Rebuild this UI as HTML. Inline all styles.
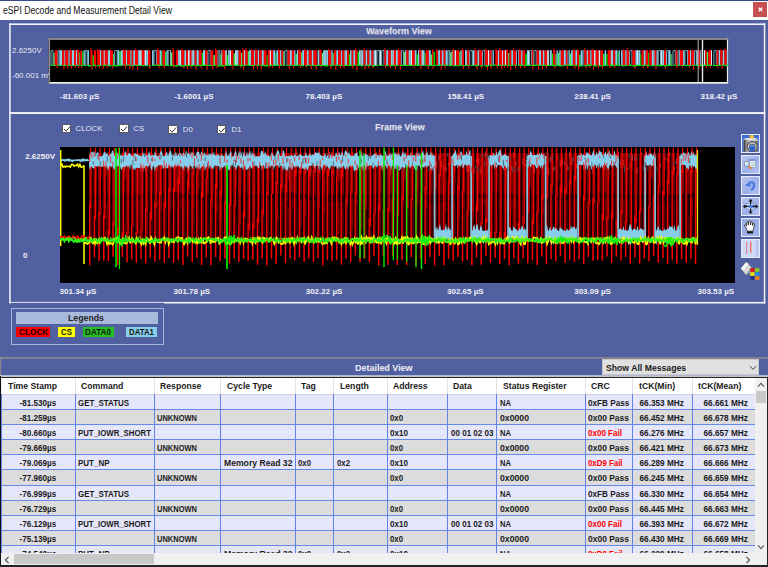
<!DOCTYPE html><html><head><meta charset="utf-8"><title>eSPI</title><style>
html,body{margin:0;padding:0}
body{width:768px;height:567px;overflow:hidden;background:#5060a0;font-family:"Liberation Sans",sans-serif;position:relative}
div{box-sizing:border-box}
.abs{position:absolute}
.xl{position:absolute;font-weight:bold;font-size:8px;line-height:10px;color:#f2f2f8;white-space:pre}
.pt{position:absolute;font-weight:bold;font-size:9.4px;line-height:12px;color:#e2e2ee;white-space:pre;transform:scaleX(0.955);transform-origin:0 0;text-shadow:0.5px 0.5px 0 #8088b0}
.th{position:absolute;font-weight:bold;font-size:8.8px;line-height:10px;color:#1a1a1a;white-space:pre;transform:scaleX(0.985);transform-origin:0 0}
.td{position:absolute;font-weight:bold;font-size:8.8px;line-height:10px;white-space:pre}
.td .l{display:inline-block;transform-origin:0 0}
.td .c{display:inline-block;transform-origin:50% 0}
.cb{position:absolute;width:9.4px;height:9.4px;background:#fff;border:1px solid #5a5a5a}
.cbl{position:absolute;font-size:7.8px;line-height:10px;color:#e6e8f4;white-space:pre}
.btn{position:absolute;left:741px;width:19px;height:18.6px;border:1px solid #e8ecfa;background:linear-gradient(135deg,#b9c7f2 0%,#9db0ea 55%,#b4c3f0 100%)}
</style></head><body>
<div class="abs" style="left:0;top:0;width:768px;height:20px;background:#fff"></div>
<div class="abs" style="left:0;top:0;width:768px;height:1px;background:#3a4a86"></div>
<div class="abs" style="left:3px;top:5px;font-size:10px;line-height:12px;color:#111;white-space:pre;transform:scaleX(0.867);transform-origin:0 0">eSPI Decode and Measurement Detail View</div>
<div class="abs" style="left:753px;top:2px;width:14px;height:14.5px;background:#c75050"></div>
<svg class="abs" style="left:756.5px;top:5.7px" width="7" height="7" viewBox="0 0 7 7"><path d="M1.8 1.8 L5.2 5.2 M5.2 1.8 L1.8 5.2" stroke="#fff" stroke-width="1.3"/></svg>
<svg class="abs" style="left:0;top:0" width="768" height="320" viewBox="0 0 768 320"><rect x="9.2" y="23.4" width="756.1" height="1.6" fill="#f4f4fa"/><rect x="9.2" y="23.4" width="1.5" height="280.1" fill="#f4f4fa"/><rect x="763.8" y="23.4" width="1.5" height="280.1" fill="#f4f4fa"/><rect x="9.2" y="112.1" width="756.1" height="1.9" fill="#f4f4fa"/><rect x="164" y="301.9" width="601.3" height="1.6" fill="#f4f4fa"/><rect x="9.2" y="301.9" width="155" height="0.9" fill="#f4f4fa"/></svg>
<div class="pt" style="left:366px;top:25.2px">Waveform View</div>
<div class="pt" style="left:374.7px;top:121px">Frame View</div>
<svg class="abs" style="left:0;top:30px" width="768" height="60" viewBox="0 30 768 60"><rect x="48.6" y="37.9" width="679.6" height="45.9" fill="#000"/><rect x="48.6" y="82" width="679.6" height="1.8" fill="#f0f0f0"/><rect x="726.9" y="37.9" width="1.3" height="45.9" fill="#f0f0f0"/><rect x="48.6" y="37.9" width="679.6" height="2" fill="#8e8e8e"/><rect x="48.6" y="37.9" width="1.5" height="45.9" fill="#8e8e8e"/></svg>
<svg width="678" height="43" viewBox="0 0 678 43" style="position:absolute;left:50px;top:40px"><path d="M1 25.6 V11.4 Q1 10.5 1.8 10.5 H3.07 V25.6" fill="none" stroke="#93d2ee" stroke-width="0.85"/><rect x="3.47" y="12.99" width="1.28" height="12.61" fill="#5e6"/><rect x="4.75" y="10.2" width="2.89" height="15.4" fill="#f00"/><rect x="6.54" y="25.6" width="1.1" height="2.47" fill="#f00"/><path d="M8.04 25.6 V11.4 Q8.04 10.5 8.84 10.5 H9.61 V25.6" fill="none" stroke="#93d2ee" stroke-width="0.85"/><rect x="10.01" y="10.2" width="2.09" height="15.4" fill="#87ceeb"/><rect x="12.1" y="10.2" width="2.32" height="15.4" fill="#f00"/><rect x="13.32" y="25.6" width="1.1" height="3.56" fill="#f00"/><rect x="14.42" y="10.2" width="0.96" height="15.4" fill="#d4e8f4"/><rect x="15.38" y="10.2" width="3.01" height="15.4" fill="#f00"/><rect x="17.29" y="25.6" width="1.1" height="2.82" fill="#f00"/><rect x="18.39" y="10.2" width="1.4" height="15.4" fill="#87ceeb"/><rect x="19.78" y="10.2" width="2.07" height="15.4" fill="#f00"/><rect x="19.78" y="9.28" width="1" height="2.5" fill="#f00"/><rect x="20.75" y="25.6" width="1.1" height="3.02" fill="#f00"/><rect x="21.85" y="10.2" width="2.13" height="15.4" fill="#87ceeb"/><rect x="23.98" y="10.2" width="2.01" height="15.4" fill="#f00"/><rect x="24.89" y="25.6" width="1.1" height="2.07" fill="#f00"/><rect x="25.99" y="10.2" width="1.31" height="15.4" fill="#87ceeb"/><rect x="27.3" y="10.2" width="2.07" height="15.4" fill="#f00"/><rect x="27.3" y="9.38" width="1" height="2.5" fill="#f00"/><rect x="28.26" y="25.6" width="1.1" height="2.53" fill="#f00"/><rect x="29.36" y="12.39" width="1.03" height="13.21" fill="#5e6"/><rect x="30.4" y="10.2" width="1.72" height="15.4" fill="#f00"/><rect x="31.01" y="25.6" width="1.1" height="2.67" fill="#f00"/><rect x="32.11" y="11.23" width="1.45" height="14.37" fill="#0d0"/><rect x="33.57" y="10.2" width="1.21" height="15.4" fill="#87ceeb"/><path d="M35.18 25.6 V11.4 Q35.18 10.5 35.98 10.5 H37.16 V25.6" fill="none" stroke="#93d2ee" stroke-width="0.85"/><rect x="37.56" y="10.2" width="1.39" height="15.4" fill="#87ceeb"/><rect x="40.37" y="10.2" width="2.21" height="15.4" fill="#f00"/><rect x="40.37" y="8.01" width="1" height="2.5" fill="#f00"/><rect x="41.48" y="25.6" width="1.1" height="4.16" fill="#f00"/><rect x="42.58" y="15.19" width="1.36" height="10.41" fill="#0d0"/><rect x="43.94" y="10.2" width="2.23" height="15.4" fill="#f00"/><rect x="45.07" y="25.6" width="1.1" height="2.25" fill="#f00"/><rect x="47.14" y="10.2" width="2.84" height="15.4" fill="#f00"/><rect x="47.14" y="8.99" width="1" height="2.5" fill="#f00"/><rect x="48.87" y="25.6" width="1.1" height="2.23" fill="#f00"/><rect x="49.97" y="10.2" width="1.44" height="15.4" fill="#87ceeb"/><rect x="51.42" y="10.2" width="2.33" height="15.4" fill="#f00"/><rect x="52.64" y="25.6" width="1.1" height="3.44" fill="#f00"/><rect x="53.74" y="10.2" width="1.06" height="15.4" fill="#d4e8f4"/><rect x="54.81" y="10.2" width="3.05" height="15.4" fill="#f00"/><rect x="56.76" y="25.6" width="1.1" height="2.47" fill="#f00"/><rect x="57.86" y="10.2" width="2.14" height="15.4" fill="#87ceeb"/><rect x="60" y="10.2" width="3.12" height="15.4" fill="#f00"/><rect x="62.02" y="25.6" width="1.1" height="3.05" fill="#f00"/><rect x="63.12" y="13.87" width="1.14" height="11.73" fill="#3e4"/><path d="M64.66 25.6 V11.4 Q64.66 10.5 65.46 10.5 H67.15 V25.6" fill="none" stroke="#93d2ee" stroke-width="0.85"/><rect x="67.55" y="10.2" width="1.72" height="15.4" fill="#87ceeb"/><rect x="69.27" y="11.27" width="1.59" height="14.33" fill="#3e4"/><rect x="70.86" y="10.2" width="2.05" height="15.4" fill="#87ceeb"/><rect x="72.91" y="10.2" width="3.07" height="15.4" fill="#f00"/><rect x="72.91" y="9.38" width="1" height="2.5" fill="#f00"/><rect x="74.88" y="25.6" width="1.1" height="3.11" fill="#f00"/><rect x="75.98" y="10.2" width="1.33" height="15.4" fill="#87ceeb"/><rect x="77.31" y="10.2" width="3.03" height="15.4" fill="#f00"/><rect x="79.23" y="25.6" width="1.1" height="3.73" fill="#f00"/><rect x="80.33" y="10.2" width="1.34" height="15.4" fill="#87ceeb"/><rect x="81.67" y="10.2" width="1.63" height="15.4" fill="#f00"/><rect x="82.2" y="25.6" width="1.1" height="4.41" fill="#f00"/><rect x="83.3" y="10.2" width="1.68" height="15.4" fill="#87ceeb"/><rect x="84.98" y="10.2" width="3.2" height="15.4" fill="#f00"/><rect x="84.98" y="8.64" width="1" height="2.5" fill="#f00"/><rect x="87.08" y="25.6" width="1.1" height="4.25" fill="#f00"/><rect x="88.18" y="10.2" width="1.9" height="15.4" fill="#87ceeb"/><rect x="90.09" y="10.2" width="1.72" height="15.4" fill="#d4e8f4"/><rect x="91.81" y="10.2" width="2.7" height="15.4" fill="#f00"/><rect x="94.51" y="10.2" width="1.68" height="15.4" fill="#d4e8f4"/><rect x="96.18" y="10.2" width="1.82" height="15.4" fill="#87ceeb"/><rect x="98.01" y="10.2" width="2.53" height="15.4" fill="#f00"/><rect x="99.44" y="25.6" width="1.1" height="3.6" fill="#f00"/><rect x="102.04" y="10.2" width="1.59" height="15.4" fill="#87ceeb"/><path d="M104.03 25.6 V11.4 Q104.03 10.5 104.83 10.5 H106.44 V25.6" fill="none" stroke="#93d2ee" stroke-width="0.85"/><rect x="106.84" y="10.2" width="2.8" height="15.4" fill="#f00"/><rect x="106.84" y="8.56" width="1" height="2.5" fill="#f00"/><rect x="108.54" y="25.6" width="1.1" height="2.58" fill="#f00"/><rect x="109.64" y="10.2" width="1.7" height="15.4" fill="#87ceeb"/><rect x="111.34" y="10.75" width="1.15" height="14.85" fill="#3e4"/><rect x="112.49" y="10.2" width="2.58" height="15.4" fill="#f00"/><rect x="113.97" y="25.6" width="1.1" height="2.86" fill="#f00"/><rect x="115.07" y="11.79" width="1.3" height="13.81" fill="#3e4"/><rect x="116.37" y="10.2" width="1.4" height="15.4" fill="#87ceeb"/><path d="M118.17 25.6 V11.4 Q118.17 10.5 118.97 10.5 H120.53 V25.6" fill="none" stroke="#93d2ee" stroke-width="0.85"/><rect x="120.93" y="12.43" width="1.53" height="13.17" fill="#5e6"/><rect x="122.46" y="10.2" width="1.82" height="15.4" fill="#f00"/><rect x="122.46" y="8.15" width="1" height="2.5" fill="#f00"/><rect x="123.18" y="25.6" width="1.1" height="2.16" fill="#f00"/><rect x="125.73" y="10.2" width="2.35" height="15.4" fill="#f00"/><rect x="128.09" y="10.2" width="1.87" height="15.4" fill="#87ceeb"/><rect x="129.96" y="10.2" width="1.46" height="15.4" fill="#d4e8f4"/><rect x="131.42" y="10.2" width="2.93" height="15.4" fill="#f00"/><rect x="131.42" y="8.55" width="1" height="2.5" fill="#f00"/><rect x="133.25" y="25.6" width="1.1" height="2.7" fill="#f00"/><rect x="134.35" y="10.2" width="1.76" height="15.4" fill="#87ceeb"/><rect x="136.11" y="10.2" width="1.9" height="15.4" fill="#f00"/><rect x="136.92" y="25.6" width="1.1" height="3.95" fill="#f00"/><rect x="138.02" y="10.2" width="1.79" height="15.4" fill="#d4e8f4"/><rect x="139.8" y="10.2" width="1.77" height="15.4" fill="#f00"/><rect x="140.48" y="25.6" width="1.1" height="2.92" fill="#f00"/><rect x="141.58" y="10.2" width="1.13" height="15.4" fill="#d4e8f4"/><rect x="142.71" y="10.2" width="1.96" height="15.4" fill="#87ceeb"/><rect x="144.66" y="10.2" width="1.96" height="15.4" fill="#f00"/><rect x="145.53" y="25.6" width="1.1" height="4.37" fill="#f00"/><rect x="146.63" y="10.2" width="2.2" height="15.4" fill="#87ceeb"/><rect x="148.82" y="10.2" width="2.96" height="15.4" fill="#f00"/><rect x="150.68" y="25.6" width="1.1" height="3.03" fill="#f00"/><rect x="151.78" y="12.73" width="1.23" height="12.87" fill="#0d0"/><rect x="153.01" y="10.2" width="2.11" height="15.4" fill="#87ceeb"/><rect x="155.12" y="10.2" width="2.51" height="15.4" fill="#f00"/><rect x="156.53" y="25.6" width="1.1" height="4.36" fill="#f00"/><path d="M158.03 25.6 V11.4 Q158.03 10.5 158.83 10.5 H160.21 V25.6" fill="none" stroke="#93d2ee" stroke-width="0.85"/><rect x="160.61" y="10.2" width="2.76" height="15.4" fill="#f00"/><rect x="162.27" y="25.6" width="1.1" height="3.79" fill="#f00"/><rect x="163.37" y="15.1" width="1.59" height="10.5" fill="#5e6"/><rect x="164.96" y="10.2" width="2.75" height="15.4" fill="#f00"/><rect x="164.96" y="8.69" width="1" height="2.5" fill="#f00"/><rect x="166.61" y="25.6" width="1.1" height="2.86" fill="#f00"/><path d="M168.11 25.6 V11.4 Q168.11 10.5 168.91 10.5 H169.84 V25.6" fill="none" stroke="#93d2ee" stroke-width="0.85"/><rect x="170.24" y="14.6" width="1.13" height="11" fill="#3e4"/><rect x="171.37" y="10.2" width="1.06" height="15.4" fill="#d4e8f4"/><rect x="172.42" y="10.2" width="2.86" height="15.4" fill="#f00"/><rect x="172.42" y="9.19" width="1" height="2.5" fill="#f00"/><rect x="174.18" y="25.6" width="1.1" height="3.81" fill="#f00"/><rect x="175.28" y="10.2" width="1.52" height="15.4" fill="#d4e8f4"/><rect x="176.81" y="14.97" width="1.3" height="10.63" fill="#0d0"/><rect x="178.1" y="10.2" width="1.64" height="15.4" fill="#87ceeb"/><rect x="179.74" y="10.2" width="1.41" height="15.4" fill="#d4e8f4"/><rect x="181.15" y="10.2" width="2.42" height="15.4" fill="#f00"/><rect x="182.47" y="25.6" width="1.1" height="3.68" fill="#f00"/><rect x="183.57" y="13.44" width="1.52" height="12.16" fill="#3e4"/><rect x="185.09" y="10.2" width="1.77" height="15.4" fill="#d4e8f4"/><rect x="186.86" y="10.2" width="1.77" height="15.4" fill="#87ceeb"/><rect x="188.63" y="10.2" width="2.46" height="15.4" fill="#f00"/><rect x="189.99" y="25.6" width="1.1" height="2.07" fill="#f00"/><rect x="191.09" y="12.5" width="1.31" height="13.1" fill="#5e6"/><rect x="192.4" y="10.2" width="1.75" height="15.4" fill="#f00"/><rect x="192.4" y="8.1" width="1" height="2.5" fill="#f00"/><rect x="193.05" y="25.6" width="1.1" height="4.3" fill="#f00"/><rect x="194.15" y="10.2" width="1.26" height="15.4" fill="#d4e8f4"/><rect x="195.41" y="10.2" width="2.39" height="15.4" fill="#f00"/><rect x="195.41" y="8.14" width="1" height="2.5" fill="#f00"/><rect x="197.8" y="11.19" width="1.31" height="14.41" fill="#3e4"/><rect x="199.12" y="10.2" width="2.13" height="15.4" fill="#87ceeb"/><rect x="201.24" y="10.2" width="2.85" height="15.4" fill="#f00"/><rect x="201.24" y="9.13" width="1" height="2.5" fill="#f00"/><rect x="202.99" y="25.6" width="1.1" height="3.72" fill="#f00"/><rect x="204.09" y="10.2" width="1.3" height="15.4" fill="#87ceeb"/><rect x="205.4" y="10.2" width="2.42" height="15.4" fill="#f00"/><rect x="205.4" y="9.12" width="1" height="2.5" fill="#f00"/><rect x="206.71" y="25.6" width="1.1" height="3.09" fill="#f00"/><rect x="207.81" y="10.2" width="1.36" height="15.4" fill="#87ceeb"/><rect x="209.17" y="10.2" width="2.61" height="15.4" fill="#f00"/><rect x="210.68" y="25.6" width="1.1" height="4.13" fill="#f00"/><rect x="211.78" y="10.2" width="2.06" height="15.4" fill="#87ceeb"/><rect x="213.84" y="10.2" width="2.79" height="15.4" fill="#f00"/><rect x="216.62" y="15.19" width="1.13" height="10.41" fill="#0d0"/><rect x="217.76" y="10.2" width="1.98" height="15.4" fill="#f00"/><rect x="218.64" y="25.6" width="1.1" height="2.24" fill="#f00"/><rect x="219.74" y="10.2" width="1.28" height="15.4" fill="#d4e8f4"/><rect x="221.02" y="10.2" width="2.24" height="15.4" fill="#f00"/><rect x="222.16" y="25.6" width="1.1" height="2.5" fill="#f00"/><rect x="223.26" y="10.2" width="2.11" height="15.4" fill="#87ceeb"/><rect x="225.37" y="12.98" width="1.07" height="12.62" fill="#3e4"/><rect x="226.44" y="10.2" width="1.89" height="15.4" fill="#87ceeb"/><rect x="228.33" y="10.2" width="1.71" height="15.4" fill="#f00"/><rect x="228.33" y="9.35" width="1" height="2.5" fill="#f00"/><rect x="228.94" y="25.6" width="1.1" height="3.29" fill="#f00"/><rect x="230.04" y="10.2" width="1.35" height="15.4" fill="#87ceeb"/><rect x="231.39" y="10.2" width="1.93" height="15.4" fill="#f00"/><rect x="233.31" y="10.98" width="1.06" height="14.62" fill="#5e6"/><path d="M234.77 25.6 V11.4 Q234.77 10.5 235.57 10.5 H237.09 V25.6" fill="none" stroke="#93d2ee" stroke-width="0.85"/><rect x="237.49" y="10.2" width="2.35" height="15.4" fill="#f00"/><rect x="238.74" y="25.6" width="1.1" height="3.5" fill="#f00"/><rect x="239.84" y="10.2" width="2.04" height="15.4" fill="#87ceeb"/><rect x="241.88" y="10.2" width="2.33" height="15.4" fill="#f00"/><rect x="243.11" y="25.6" width="1.1" height="2.49" fill="#f00"/><rect x="244.21" y="10.2" width="1.22" height="15.4" fill="#87ceeb"/><rect x="245.42" y="13.87" width="1.48" height="11.73" fill="#5e6"/><rect x="246.9" y="10.2" width="1.39" height="15.4" fill="#87ceeb"/><rect x="248.29" y="10.2" width="2.82" height="15.4" fill="#f00"/><rect x="248.29" y="9.24" width="1" height="2.5" fill="#f00"/><rect x="250.01" y="25.6" width="1.1" height="2.4" fill="#f00"/><rect x="251.11" y="12.18" width="1.08" height="13.42" fill="#5e6"/><rect x="252.19" y="10.2" width="1.97" height="15.4" fill="#87ceeb"/><rect x="254.16" y="10.2" width="2.76" height="15.4" fill="#f00"/><rect x="254.16" y="8.92" width="1" height="2.5" fill="#f00"/><rect x="255.82" y="25.6" width="1.1" height="2.03" fill="#f00"/><rect x="256.92" y="10.2" width="1.82" height="15.4" fill="#87ceeb"/><rect x="258.74" y="10.2" width="3.11" height="15.4" fill="#f00"/><rect x="260.75" y="25.6" width="1.1" height="3.65" fill="#f00"/><rect x="261.85" y="10.2" width="1.73" height="15.4" fill="#87ceeb"/><rect x="263.59" y="10.2" width="3.2" height="15.4" fill="#f00"/><rect x="265.69" y="25.6" width="1.1" height="3.9" fill="#f00"/><rect x="267.6" y="10.2" width="1.94" height="15.4" fill="#87ceeb"/><rect x="269.54" y="10.2" width="2.24" height="15.4" fill="#f00"/><rect x="269.54" y="9.13" width="1" height="2.5" fill="#f00"/><rect x="270.69" y="25.6" width="1.1" height="2.25" fill="#f00"/><rect x="271.79" y="12.99" width="1.33" height="12.61" fill="#5e6"/><rect x="273.12" y="10.2" width="2.2" height="15.4" fill="#87ceeb"/><rect x="275.31" y="10.2" width="0.97" height="15.4" fill="#d4e8f4"/><rect x="276.28" y="10.2" width="1.96" height="15.4" fill="#87ceeb"/><rect x="278.24" y="10.2" width="3.09" height="15.4" fill="#f00"/><rect x="278.24" y="8.74" width="1" height="2.5" fill="#f00"/><rect x="280.23" y="25.6" width="1.1" height="3.24" fill="#f00"/><rect x="281.33" y="10.2" width="1.26" height="15.4" fill="#87ceeb"/><rect x="282.58" y="13.07" width="1.25" height="12.53" fill="#5e6"/><rect x="283.84" y="10.2" width="2.45" height="15.4" fill="#f00"/><rect x="285.19" y="25.6" width="1.1" height="4.32" fill="#f00"/><rect x="286.29" y="10.2" width="1.95" height="15.4" fill="#87ceeb"/><rect x="288.23" y="10.2" width="2.84" height="15.4" fill="#f00"/><rect x="289.97" y="25.6" width="1.1" height="3.02" fill="#f00"/><rect x="291.07" y="10.2" width="1.25" height="15.4" fill="#87ceeb"/><rect x="292.32" y="10.2" width="2.24" height="15.4" fill="#f00"/><rect x="293.46" y="25.6" width="1.1" height="2.8" fill="#f00"/><rect x="294.56" y="10.2" width="1.1" height="15.4" fill="#d4e8f4"/><rect x="295.66" y="10.2" width="1.45" height="15.4" fill="#87ceeb"/><rect x="297.11" y="10.2" width="1.76" height="15.4" fill="#f00"/><rect x="298.87" y="13.88" width="1.15" height="11.72" fill="#0d0"/><rect x="300.02" y="10.2" width="1.66" height="15.4" fill="#87ceeb"/><rect x="301.67" y="10.2" width="1.68" height="15.4" fill="#f00"/><rect x="302.25" y="25.6" width="1.1" height="3.11" fill="#f00"/><rect x="303.35" y="10.2" width="1.66" height="15.4" fill="#87ceeb"/><rect x="305.01" y="10.2" width="2.53" height="15.4" fill="#f00"/><rect x="305.01" y="8.31" width="1" height="2.5" fill="#f00"/><rect x="306.44" y="25.6" width="1.1" height="4.49" fill="#f00"/><rect x="307.54" y="11.77" width="1.44" height="13.83" fill="#0d0"/><rect x="308.98" y="10.2" width="1.51" height="15.4" fill="#87ceeb"/><rect x="310.49" y="10.2" width="1.15" height="15.4" fill="#d4e8f4"/><rect x="311.64" y="10.2" width="1.93" height="15.4" fill="#87ceeb"/><rect x="313.56" y="10.2" width="2.05" height="15.4" fill="#f00"/><rect x="313.56" y="8.07" width="1" height="2.5" fill="#f00"/><rect x="314.51" y="25.6" width="1.1" height="3.63" fill="#f00"/><rect x="315.61" y="10.2" width="1.83" height="15.4" fill="#87ceeb"/><rect x="317.44" y="10.2" width="2.02" height="15.4" fill="#f00"/><rect x="317.44" y="9.35" width="1" height="2.5" fill="#f00"/><rect x="318.35" y="25.6" width="1.1" height="2.7" fill="#f00"/><rect x="319.45" y="10.2" width="2.11" height="15.4" fill="#87ceeb"/><rect x="321.57" y="10.2" width="1.98" height="15.4" fill="#f00"/><rect x="322.44" y="25.6" width="1.1" height="2.89" fill="#f00"/><rect x="323.54" y="10.2" width="1.33" height="15.4" fill="#87ceeb"/><rect x="324.87" y="10.2" width="1.62" height="15.4" fill="#d4e8f4"/><path d="M326.9 25.6 V11.4 Q326.9 10.5 327.7 10.5 H329.28 V25.6" fill="none" stroke="#93d2ee" stroke-width="0.85"/><rect x="329.68" y="10.2" width="1.59" height="15.4" fill="#d4e8f4"/><path d="M331.68 25.6 V11.4 Q331.68 10.5 332.48 10.5 H333.97 V25.6" fill="none" stroke="#93d2ee" stroke-width="0.85"/><rect x="334.37" y="10.2" width="1.84" height="15.4" fill="#f00"/><rect x="334.37" y="8.23" width="1" height="2.5" fill="#f00"/><rect x="335.11" y="25.6" width="1.1" height="2.73" fill="#f00"/><rect x="336.21" y="10.2" width="2.03" height="15.4" fill="#87ceeb"/><rect x="338.24" y="10.2" width="2.65" height="15.4" fill="#f00"/><rect x="339.79" y="25.6" width="1.1" height="2.81" fill="#f00"/><rect x="340.89" y="10.2" width="1.63" height="15.4" fill="#87ceeb"/><rect x="342.52" y="10.2" width="1.32" height="15.4" fill="#d4e8f4"/><rect x="343.83" y="10.2" width="2.1" height="15.4" fill="#f00"/><rect x="344.83" y="25.6" width="1.1" height="3.74" fill="#f00"/><rect x="345.93" y="10.2" width="1.96" height="15.4" fill="#87ceeb"/><rect x="347.89" y="10.2" width="3.01" height="15.4" fill="#f00"/><rect x="347.89" y="8.48" width="1" height="2.5" fill="#f00"/><rect x="349.81" y="25.6" width="1.1" height="4.27" fill="#f00"/><path d="M351.31 25.6 V11.4 Q351.31 10.5 352.11 10.5 H353.42 V25.6" fill="none" stroke="#93d2ee" stroke-width="0.85"/><rect x="353.82" y="11.96" width="1.41" height="13.64" fill="#5e6"/><rect x="355.23" y="10.2" width="1.17" height="15.4" fill="#d4e8f4"/><rect x="356.41" y="10.2" width="2.24" height="15.4" fill="#f00"/><rect x="358.65" y="10.2" width="2" height="15.4" fill="#87ceeb"/><rect x="360.64" y="10.2" width="1.41" height="15.4" fill="#d4e8f4"/><rect x="362.05" y="10.2" width="2.81" height="15.4" fill="#f00"/><rect x="363.76" y="25.6" width="1.1" height="2.06" fill="#f00"/><rect x="364.86" y="10.2" width="1.74" height="15.4" fill="#87ceeb"/><rect x="366.61" y="14.32" width="1.39" height="11.28" fill="#0d0"/><rect x="368" y="10.2" width="1.51" height="15.4" fill="#87ceeb"/><rect x="369.5" y="10.2" width="2.04" height="15.4" fill="#f00"/><rect x="369.5" y="8.96" width="1" height="2.5" fill="#f00"/><rect x="370.44" y="25.6" width="1.1" height="3.63" fill="#f00"/><rect x="371.54" y="10.2" width="1.28" height="15.4" fill="#d4e8f4"/><rect x="372.82" y="10.2" width="1.69" height="15.4" fill="#87ceeb"/><rect x="374.51" y="12.77" width="1.2" height="12.83" fill="#3e4"/><rect x="375.71" y="10.2" width="3.15" height="15.4" fill="#f00"/><rect x="377.76" y="25.6" width="1.1" height="3.34" fill="#f00"/><rect x="378.86" y="10.2" width="1.91" height="15.4" fill="#87ceeb"/><rect x="380.77" y="14.42" width="1.25" height="11.18" fill="#5e6"/><rect x="382.02" y="10.2" width="1.61" height="15.4" fill="#f00"/><rect x="382.02" y="9.28" width="1" height="2.5" fill="#f00"/><rect x="382.52" y="25.6" width="1.1" height="3.35" fill="#f00"/><rect x="383.62" y="11.81" width="1.55" height="13.79" fill="#0d0"/><rect x="386.27" y="10.2" width="1.93" height="15.4" fill="#f00"/><rect x="386.27" y="8.99" width="1" height="2.5" fill="#f00"/><rect x="388.2" y="10.2" width="1.98" height="15.4" fill="#87ceeb"/><rect x="390.18" y="10.2" width="1.7" height="15.4" fill="#f00"/><rect x="390.78" y="25.6" width="1.1" height="4.27" fill="#f00"/><rect x="391.88" y="10.2" width="1.79" height="15.4" fill="#87ceeb"/><rect x="393.67" y="10.2" width="1.9" height="15.4" fill="#f00"/><rect x="393.67" y="9.16" width="1" height="2.5" fill="#f00"/><rect x="394.47" y="25.6" width="1.1" height="2.78" fill="#f00"/><rect x="395.57" y="10.2" width="2.02" height="15.4" fill="#87ceeb"/><path d="M397.98 25.6 V11.4 Q397.98 10.5 398.78 10.5 H399.7 V25.6" fill="none" stroke="#93d2ee" stroke-width="0.85"/><rect x="400.1" y="12.24" width="1.55" height="13.36" fill="#5e6"/><rect x="401.64" y="10.2" width="0.98" height="15.4" fill="#d4e8f4"/><rect x="402.63" y="10.2" width="1.95" height="15.4" fill="#f00"/><rect x="402.63" y="8.28" width="1" height="2.5" fill="#f00"/><rect x="404.58" y="10.2" width="1.6" height="15.4" fill="#d4e8f4"/><rect x="406.17" y="10.2" width="3.08" height="15.4" fill="#f00"/><rect x="409.25" y="11.81" width="1.27" height="13.79" fill="#3e4"/><rect x="410.52" y="10.2" width="1.36" height="15.4" fill="#87ceeb"/><rect x="411.88" y="10.2" width="2.11" height="15.4" fill="#f00"/><rect x="411.88" y="8.18" width="1" height="2.5" fill="#f00"/><rect x="412.89" y="25.6" width="1.1" height="3.59" fill="#f00"/><rect x="415.01" y="10.2" width="1.35" height="15.4" fill="#87ceeb"/><rect x="416.36" y="10.2" width="0.9" height="15.4" fill="#d4e8f4"/><rect x="417.26" y="10.2" width="2.03" height="15.4" fill="#f00"/><rect x="418.19" y="25.6" width="1.1" height="3.2" fill="#f00"/><path d="M419.69 25.6 V11.4 Q419.69 10.5 420.49 10.5 H422.24 V25.6" fill="none" stroke="#93d2ee" stroke-width="0.85"/><rect x="422.64" y="10.2" width="2.06" height="15.4" fill="#87ceeb"/><rect x="424.69" y="10.2" width="2.86" height="15.4" fill="#f00"/><rect x="424.69" y="8.12" width="1" height="2.5" fill="#f00"/><rect x="426.46" y="25.6" width="1.1" height="4.07" fill="#f00"/><rect x="427.56" y="10.2" width="1.73" height="15.4" fill="#87ceeb"/><rect x="429.28" y="10.2" width="2.93" height="15.4" fill="#f00"/><rect x="429.28" y="8.96" width="1" height="2.5" fill="#f00"/><rect x="431.11" y="25.6" width="1.1" height="2.76" fill="#f00"/><path d="M432.61 25.6 V11.4 Q432.61 10.5 433.41 10.5 H434.87 V25.6" fill="none" stroke="#93d2ee" stroke-width="0.85"/><rect x="435.27" y="10.2" width="2.7" height="15.4" fill="#f00"/><rect x="435.27" y="8.85" width="1" height="2.5" fill="#f00"/><rect x="436.87" y="25.6" width="1.1" height="4.42" fill="#f00"/><rect x="437.97" y="10.2" width="1.49" height="15.4" fill="#d4e8f4"/><rect x="439.46" y="10.2" width="2.2" height="15.4" fill="#f00"/><rect x="440.56" y="25.6" width="1.1" height="3.41" fill="#f00"/><path d="M442.06 25.6 V11.4 Q442.06 10.5 442.86 10.5 H443.48 V25.6" fill="none" stroke="#93d2ee" stroke-width="0.85"/><rect x="445.32" y="10.2" width="2.59" height="15.4" fill="#f00"/><rect x="445.32" y="8.87" width="1" height="2.5" fill="#f00"/><rect x="446.8" y="25.6" width="1.1" height="2.75" fill="#f00"/><rect x="447.9" y="10.2" width="1.46" height="15.4" fill="#87ceeb"/><rect x="449.36" y="10.2" width="2.77" height="15.4" fill="#f00"/><rect x="449.36" y="8.08" width="1" height="2.5" fill="#f00"/><rect x="451.03" y="25.6" width="1.1" height="3.81" fill="#f00"/><rect x="452.13" y="10.2" width="0.98" height="15.4" fill="#d4e8f4"/><rect x="453.11" y="10.2" width="1.75" height="15.4" fill="#f00"/><rect x="453.76" y="25.6" width="1.1" height="2.45" fill="#f00"/><rect x="454.86" y="10.2" width="1.43" height="15.4" fill="#d4e8f4"/><rect x="456.3" y="10.2" width="1.96" height="15.4" fill="#f00"/><rect x="456.3" y="9.23" width="1" height="2.5" fill="#f00"/><rect x="457.16" y="25.6" width="1.1" height="2.18" fill="#f00"/><rect x="458.26" y="13" width="1.26" height="12.6" fill="#5e6"/><rect x="459.51" y="10.2" width="1.84" height="15.4" fill="#f00"/><rect x="460.25" y="25.6" width="1.1" height="4.3" fill="#f00"/><rect x="461.35" y="10.2" width="1.93" height="15.4" fill="#87ceeb"/><rect x="463.28" y="10.2" width="2.86" height="15.4" fill="#f00"/><rect x="463.28" y="8.02" width="1" height="2.5" fill="#f00"/><rect x="465.04" y="25.6" width="1.1" height="2.65" fill="#f00"/><path d="M466.54 25.6 V11.4 Q466.54 10.5 467.34 10.5 H468.61 V25.6" fill="none" stroke="#93d2ee" stroke-width="0.85"/><rect x="469.01" y="10.2" width="2.13" height="15.4" fill="#f00"/><rect x="469.01" y="9.26" width="1" height="2.5" fill="#f00"/><rect x="470.04" y="25.6" width="1.1" height="2.63" fill="#f00"/><rect x="471.14" y="10.2" width="1.5" height="15.4" fill="#87ceeb"/><rect x="472.64" y="10.2" width="2.58" height="15.4" fill="#f00"/><rect x="474.12" y="25.6" width="1.1" height="2.5" fill="#f00"/><rect x="475.22" y="13.88" width="1.6" height="11.72" fill="#0d0"/><rect x="476.82" y="10.2" width="1.23" height="15.4" fill="#87ceeb"/><rect x="478.04" y="10.2" width="1.02" height="15.4" fill="#d4e8f4"/><path d="M479.47 25.6 V11.4 Q479.47 10.5 480.27 10.5 H481.37 V25.6" fill="none" stroke="#93d2ee" stroke-width="0.85"/><rect x="481.77" y="10.2" width="1.75" height="15.4" fill="#f00"/><rect x="482.41" y="25.6" width="1.1" height="4.21" fill="#f00"/><path d="M483.91 25.6 V11.4 Q483.91 10.5 484.71 10.5 H486.19 V25.6" fill="none" stroke="#93d2ee" stroke-width="0.85"/><rect x="486.59" y="10.2" width="2.51" height="15.4" fill="#f00"/><rect x="488" y="25.6" width="1.1" height="4.29" fill="#f00"/><rect x="489.1" y="10.2" width="2.1" height="15.4" fill="#87ceeb"/><rect x="491.2" y="10.2" width="1.83" height="15.4" fill="#f00"/><rect x="491.93" y="25.6" width="1.1" height="3.71" fill="#f00"/><rect x="493.03" y="10.2" width="1.56" height="15.4" fill="#87ceeb"/><rect x="494.59" y="10.2" width="2.56" height="15.4" fill="#f00"/><rect x="496.05" y="25.6" width="1.1" height="3.01" fill="#f00"/><rect x="497.15" y="10.2" width="1.74" height="15.4" fill="#d4e8f4"/><rect x="499.8" y="10.2" width="2.05" height="15.4" fill="#87ceeb"/><rect x="501.85" y="13.58" width="1.37" height="12.02" fill="#0d0"/><rect x="503.21" y="10.2" width="2.26" height="15.4" fill="#f00"/><rect x="503.21" y="8.66" width="1" height="2.5" fill="#f00"/><rect x="504.37" y="25.6" width="1.1" height="3.01" fill="#f00"/><rect x="505.47" y="14.23" width="1.03" height="11.37" fill="#5e6"/><rect x="506.51" y="10.2" width="1.34" height="15.4" fill="#87ceeb"/><rect x="507.85" y="12.81" width="1.36" height="12.79" fill="#3e4"/><rect x="509.21" y="10.2" width="1.61" height="15.4" fill="#87ceeb"/><rect x="510.82" y="10.2" width="3.02" height="15.4" fill="#f00"/><rect x="513.84" y="10.2" width="2.03" height="15.4" fill="#87ceeb"/><rect x="515.87" y="10.2" width="1.78" height="15.4" fill="#f00"/><rect x="516.55" y="25.6" width="1.1" height="3.3" fill="#f00"/><path d="M518.05 25.6 V11.4 Q518.05 10.5 518.85 10.5 H519.48 V25.6" fill="none" stroke="#93d2ee" stroke-width="0.85"/><rect x="519.88" y="13.47" width="1.18" height="12.13" fill="#3e4"/><rect x="521.06" y="10.2" width="1.8" height="15.4" fill="#87ceeb"/><rect x="522.85" y="10.2" width="2.55" height="15.4" fill="#f00"/><rect x="522.85" y="9.23" width="1" height="2.5" fill="#f00"/><rect x="524.3" y="25.6" width="1.1" height="3.26" fill="#f00"/><rect x="525.4" y="10.2" width="1.73" height="15.4" fill="#87ceeb"/><rect x="527.13" y="10.2" width="2.09" height="15.4" fill="#f00"/><rect x="527.13" y="9.07" width="1" height="2.5" fill="#f00"/><rect x="528.12" y="25.6" width="1.1" height="4.28" fill="#f00"/><rect x="529.22" y="14.6" width="1.4" height="11" fill="#3e4"/><rect x="530.62" y="10.2" width="1.36" height="15.4" fill="#87ceeb"/><path d="M532.38 25.6 V11.4 Q532.38 10.5 533.18 10.5 H533.93 V25.6" fill="none" stroke="#93d2ee" stroke-width="0.85"/><rect x="534.33" y="10.2" width="2.43" height="15.4" fill="#f00"/><rect x="534.33" y="8.16" width="1" height="2.5" fill="#f00"/><rect x="535.66" y="25.6" width="1.1" height="3.13" fill="#f00"/><rect x="536.76" y="10.2" width="1.22" height="15.4" fill="#87ceeb"/><rect x="537.99" y="10.2" width="2.31" height="15.4" fill="#f00"/><rect x="539.19" y="25.6" width="1.1" height="2.35" fill="#f00"/><rect x="540.29" y="10.2" width="1.43" height="15.4" fill="#87ceeb"/><rect x="541.72" y="10.2" width="2.33" height="15.4" fill="#f00"/><rect x="541.72" y="8.95" width="1" height="2.5" fill="#f00"/><rect x="542.95" y="25.6" width="1.1" height="3.94" fill="#f00"/><rect x="544.05" y="10.2" width="1.69" height="15.4" fill="#d4e8f4"/><rect x="545.74" y="10.2" width="2.97" height="15.4" fill="#f00"/><rect x="547.61" y="25.6" width="1.1" height="2.79" fill="#f00"/><rect x="548.71" y="10.2" width="1.71" height="15.4" fill="#d4e8f4"/><rect x="550.42" y="10.2" width="2.62" height="15.4" fill="#f00"/><rect x="551.94" y="25.6" width="1.1" height="3.33" fill="#f00"/><rect x="553.04" y="13.63" width="1.59" height="11.97" fill="#3e4"/><rect x="554.63" y="10.2" width="1.51" height="15.4" fill="#87ceeb"/><rect x="556.14" y="13.91" width="1.52" height="11.69" fill="#0d0"/><rect x="557.66" y="10.2" width="3.13" height="15.4" fill="#f00"/><rect x="559.69" y="25.6" width="1.1" height="2.42" fill="#f00"/><rect x="560.79" y="10.2" width="1.01" height="15.4" fill="#d4e8f4"/><rect x="561.8" y="10.2" width="1.47" height="15.4" fill="#87ceeb"/><rect x="563.27" y="10.2" width="2.04" height="15.4" fill="#f00"/><rect x="564.21" y="25.6" width="1.1" height="2.29" fill="#f00"/><rect x="565.31" y="10.2" width="2.18" height="15.4" fill="#87ceeb"/><rect x="567.48" y="11.72" width="1.11" height="13.88" fill="#0d0"/><rect x="568.59" y="10.2" width="1.29" height="15.4" fill="#87ceeb"/><rect x="571.03" y="10.2" width="1.73" height="15.4" fill="#87ceeb"/><rect x="572.77" y="10.2" width="2.56" height="15.4" fill="#f00"/><rect x="572.77" y="9.05" width="1" height="2.5" fill="#f00"/><rect x="575.32" y="10.2" width="1.45" height="15.4" fill="#87ceeb"/><rect x="576.77" y="10.2" width="2.48" height="15.4" fill="#f00"/><rect x="576.77" y="8.14" width="1" height="2.5" fill="#f00"/><path d="M579.65 25.6 V11.4 Q579.65 10.5 580.45 10.5 H581.95 V25.6" fill="none" stroke="#93d2ee" stroke-width="0.85"/><rect x="582.35" y="10.2" width="3.09" height="15.4" fill="#f00"/><rect x="584.34" y="25.6" width="1.1" height="3.39" fill="#f00"/><rect x="585.44" y="10.2" width="1.56" height="15.4" fill="#87ceeb"/><rect x="586.99" y="10.2" width="1.37" height="15.4" fill="#d4e8f4"/><rect x="588.36" y="10.2" width="2.05" height="15.4" fill="#87ceeb"/><rect x="590.41" y="14.21" width="1.1" height="11.39" fill="#0d0"/><rect x="591.51" y="10.2" width="2.3" height="15.4" fill="#f00"/><rect x="592.71" y="25.6" width="1.1" height="2.64" fill="#f00"/><rect x="593.81" y="10.2" width="1.92" height="15.4" fill="#87ceeb"/><rect x="595.73" y="10.2" width="2.47" height="15.4" fill="#f00"/><rect x="597.1" y="25.6" width="1.1" height="2.65" fill="#f00"/><rect x="598.2" y="12.72" width="1.03" height="12.88" fill="#0d0"/><rect x="599.23" y="10.2" width="2.57" height="15.4" fill="#f00"/><rect x="601.8" y="10.2" width="1.92" height="15.4" fill="#87ceeb"/><rect x="603.73" y="10.2" width="0.93" height="15.4" fill="#d4e8f4"/><rect x="604.65" y="10.2" width="1.89" height="15.4" fill="#f00"/><rect x="605.44" y="25.6" width="1.1" height="3.81" fill="#f00"/><rect x="606.54" y="10.2" width="1.25" height="15.4" fill="#87ceeb"/><path d="M608.19 25.6 V11.4 Q608.19 10.5 608.99 10.5 H610.43 V25.6" fill="none" stroke="#93d2ee" stroke-width="0.85"/><rect x="610.83" y="10.2" width="1.56" height="15.4" fill="#d4e8f4"/><rect x="612.39" y="10.2" width="1.7" height="15.4" fill="#87ceeb"/><rect x="614.09" y="10.2" width="2" height="15.4" fill="#f00"/><rect x="614.99" y="25.6" width="1.1" height="3.49" fill="#f00"/><path d="M616.49 25.6 V11.4 Q616.49 10.5 617.29 10.5 H618.27 V25.6" fill="none" stroke="#93d2ee" stroke-width="0.85"/><rect x="618.67" y="10.2" width="1.9" height="15.4" fill="#87ceeb"/><rect x="620.57" y="14.1" width="1.08" height="11.5" fill="#5e6"/><path d="M622.96 25.6 V11.4 Q622.96 10.5 623.76 10.5 H625.26 V25.6" fill="none" stroke="#93d2ee" stroke-width="0.85"/><rect x="625.66" y="10.2" width="1.98" height="15.4" fill="#f00"/><rect x="626.54" y="25.6" width="1.1" height="2.98" fill="#f00"/><path d="M628.04 25.6 V11.4 Q628.04 10.5 628.84 10.5 H629.53 V25.6" fill="none" stroke="#93d2ee" stroke-width="0.85"/><rect x="629.93" y="10.2" width="3.19" height="15.4" fill="#f00"/><rect x="632.03" y="25.6" width="1.1" height="2.57" fill="#f00"/><rect x="633.13" y="10.2" width="1.44" height="15.4" fill="#87ceeb"/><path d="M634.97 25.6 V11.4 Q634.97 10.5 635.77 10.5 H637.49 V25.6" fill="none" stroke="#93d2ee" stroke-width="0.85"/><rect x="637.89" y="10.2" width="2.14" height="15.4" fill="#f00"/><rect x="638.93" y="25.6" width="1.1" height="2.1" fill="#f00"/><rect x="640.03" y="10.2" width="1.26" height="15.4" fill="#87ceeb"/><rect x="641.29" y="10.2" width="2.71" height="15.4" fill="#f00"/><rect x="642.9" y="25.6" width="1.1" height="4.22" fill="#f00"/><path d="M644.4 25.6 V11.4 Q644.4 10.5 645.2 10.5 H646.27 V25.6" fill="none" stroke="#93d2ee" stroke-width="0.85"/><rect x="646.67" y="10.2" width="1.24" height="15.4" fill="#d4e8f4"/><rect x="647.91" y="10.2" width="2.16" height="15.4" fill="#f00"/><rect x="647.91" y="8.63" width="1" height="2.5" fill="#f00"/><rect x="648.97" y="25.6" width="1.1" height="2.51" fill="#f00"/><path d="M650.47 25.6 V11.4 Q650.47 10.5 651.27 10.5 H652.24 V25.6" fill="none" stroke="#93d2ee" stroke-width="0.85"/><rect x="653.98" y="10.2" width="1.08" height="15.4" fill="#d4e8f4"/><rect x="655.07" y="10.2" width="1.72" height="15.4" fill="#f00"/><rect x="655.68" y="25.6" width="1.1" height="2.69" fill="#f00"/><rect x="656.78" y="11.91" width="1.43" height="13.69" fill="#3e4"/><rect x="658.21" y="10.2" width="2.76" height="15.4" fill="#f00"/><rect x="659.88" y="25.6" width="1.1" height="2.6" fill="#f00"/><rect x="660.98" y="10.2" width="1.01" height="15.4" fill="#d4e8f4"/><path d="M663.86 25.6 V11.4 Q663.86 10.5 664.66 10.5 H666.28 V25.6" fill="none" stroke="#93d2ee" stroke-width="0.85"/><rect x="666.68" y="10.2" width="2.01" height="15.4" fill="#f00"/><rect x="667.59" y="25.6" width="1.1" height="2.76" fill="#f00"/><rect x="668.69" y="10.2" width="1.69" height="15.4" fill="#87ceeb"/><rect x="670.38" y="10.2" width="2.42" height="15.4" fill="#f00"/><rect x="670.38" y="9.11" width="1" height="2.5" fill="#f00"/><rect x="671.7" y="25.6" width="1.1" height="3.2" fill="#f00"/><rect x="672.8" y="10.2" width="1.72" height="15.4" fill="#87ceeb"/><rect x="674.52" y="10.2" width="2.32" height="15.4" fill="#f00"/><rect x="674.52" y="8.17" width="1" height="2.5" fill="#f00"/><rect x="676.84" y="10.2" width="1.65" height="15.4" fill="#87ceeb"/><rect x="0.6" y="24.91" width="1.98" height="1.11" fill="#0e0"/><rect x="3.01" y="24.97" width="2.8" height="0.98" fill="#0e0"/><rect x="7.21" y="24.89" width="4.11" height="0.91" fill="#0e0"/><rect x="12.62" y="25" width="4.1" height="0.94" fill="#0e0"/><rect x="18.13" y="24.81" width="3.45" height="0.97" fill="#0e0"/><rect x="22.89" y="25.07" width="2.81" height="1.06" fill="#0e0"/><rect x="27.04" y="24.9" width="1.92" height="1.19" fill="#0e0"/><rect x="30.46" y="25.02" width="2.5" height="1.03" fill="#0e0"/><rect x="34.46" y="25.06" width="2.21" height="1.11" fill="#0e0"/><rect x="37.9" y="25.05" width="3.32" height="1.44" fill="#0e0"/><rect x="42.56" y="24.75" width="3.17" height="1.41" fill="#0e0"/><rect x="46.44" y="25.14" width="4.7" height="0.97" fill="#0e0"/><rect x="52.62" y="24.76" width="4.69" height="1.13" fill="#0e0"/><rect x="58.72" y="25.03" width="2.55" height="1.43" fill="#0e0"/><rect x="61.66" y="24.79" width="1.62" height="1.12" fill="#0e0"/><rect x="63.97" y="25.13" width="4.35" height="1.29" fill="#0e0"/><rect x="69.12" y="25.14" width="2.7" height="0.92" fill="#0e0"/><rect x="73.04" y="24.65" width="2.26" height="0.93" fill="#0e0"/><rect x="76.3" y="24.64" width="3.64" height="0.94" fill="#0e0"/><rect x="80.85" y="25.18" width="3.07" height="1.13" fill="#0e0"/><rect x="85.27" y="24.76" width="3.89" height="1.2" fill="#0e0"/><rect x="90.07" y="24.96" width="1.57" height="1.06" fill="#0e0"/><rect x="92.28" y="24.91" width="2.27" height="1.46" fill="#0e0"/><rect x="96.13" y="24.93" width="1.51" height="1.41" fill="#0e0"/><rect x="98.94" y="25.09" width="1.78" height="1.43" fill="#0e0"/><rect x="101.91" y="24.76" width="4.29" height="0.96" fill="#0e0"/><rect x="106.52" y="24.72" width="4.32" height="1.14" fill="#0e0"/><rect x="111.35" y="24.7" width="2.17" height="1.1" fill="#0e0"/><rect x="114.72" y="24.78" width="4.32" height="1.15" fill="#0e0"/><rect x="119.81" y="24.9" width="3.84" height="1.29" fill="#0e0"/><rect x="124.42" y="25.15" width="3.97" height="1.34" fill="#0e0"/><rect x="129.83" y="25.09" width="4.96" height="1.43" fill="#0e0"/><rect x="135.5" y="24.91" width="4.47" height="1.31" fill="#0e0"/><rect x="140.32" y="24.85" width="3.68" height="1.19" fill="#0e0"/><rect x="144.74" y="25.04" width="2.89" height="1.32" fill="#0e0"/><rect x="148.26" y="24.82" width="3.72" height="1.31" fill="#0e0"/><rect x="152.52" y="24.72" width="4.5" height="1.24" fill="#0e0"/><rect x="157.49" y="24.98" width="4.94" height="0.98" fill="#0e0"/><rect x="163.69" y="24.7" width="2.44" height="1.02" fill="#0e0"/><rect x="167.24" y="24.99" width="2.52" height="1.48" fill="#0e0"/><rect x="170.68" y="25.07" width="3.93" height="1.46" fill="#0e0"/><rect x="175.25" y="24.75" width="2.45" height="1.3" fill="#0e0"/><rect x="178.5" y="24.68" width="3.88" height="0.99" fill="#0e0"/><rect x="183.98" y="24.72" width="4.55" height="1.11" fill="#0e0"/><rect x="189.53" y="24.84" width="4.31" height="1.44" fill="#0e0"/><rect x="195.22" y="24.7" width="4.49" height="0.94" fill="#0e0"/><rect x="200.58" y="24.99" width="4.54" height="1.03" fill="#0e0"/><rect x="206.36" y="24.69" width="2.93" height="1.25" fill="#0e0"/><rect x="210.47" y="24.77" width="2.26" height="1.42" fill="#0e0"/><rect x="213.6" y="24.93" width="4.42" height="1.44" fill="#0e0"/><rect x="219.46" y="24.69" width="3.01" height="1.43" fill="#0e0"/><rect x="223.13" y="24.76" width="3.49" height="1.14" fill="#0e0"/><rect x="227.34" y="24.72" width="1.78" height="1.23" fill="#0e0"/><rect x="230.15" y="24.6" width="2.03" height="1.36" fill="#0e0"/><rect x="233.35" y="24.8" width="1.51" height="0.98" fill="#0e0"/><rect x="236.19" y="24.85" width="4.97" height="0.92" fill="#0e0"/><rect x="241.92" y="24.93" width="3.46" height="1.03" fill="#0e0"/><rect x="246.48" y="24.75" width="4.39" height="1.01" fill="#0e0"/><rect x="251.55" y="25.08" width="2.37" height="1.24" fill="#0e0"/><rect x="255.45" y="25.11" width="1.66" height="1.47" fill="#0e0"/><rect x="258.12" y="24.76" width="3.86" height="0.91" fill="#0e0"/><rect x="263" y="24.88" width="1.72" height="1.43" fill="#0e0"/><rect x="265.1" y="25.06" width="2.78" height="1.06" fill="#0e0"/><rect x="268.5" y="24.9" width="4.74" height="1.08" fill="#0e0"/><rect x="274.22" y="25.08" width="3.83" height="1.36" fill="#0e0"/><rect x="279.57" y="25.1" width="3.19" height="1.15" fill="#0e0"/><rect x="284.23" y="24.61" width="3.68" height="0.98" fill="#0e0"/><rect x="288.63" y="24.9" width="4.04" height="1.07" fill="#0e0"/><rect x="294.26" y="24.87" width="3.69" height="1.09" fill="#0e0"/><rect x="298.34" y="24.96" width="3.79" height="1.06" fill="#0e0"/><rect x="302.7" y="24.63" width="2.13" height="0.98" fill="#0e0"/><rect x="305.53" y="24.81" width="2.22" height="0.99" fill="#0e0"/><rect x="308.53" y="24.61" width="2.14" height="1.14" fill="#0e0"/><rect x="311.04" y="25.17" width="1.83" height="1.4" fill="#0e0"/><rect x="314.16" y="24.7" width="1.57" height="0.94" fill="#0e0"/><rect x="316.8" y="24.79" width="3.53" height="1.18" fill="#0e0"/><rect x="321.85" y="25.07" width="3.25" height="1.43" fill="#0e0"/><rect x="326.45" y="24.83" width="1.74" height="1.45" fill="#0e0"/><rect x="329.64" y="24.92" width="4.22" height="0.91" fill="#0e0"/><rect x="335.11" y="25.15" width="3.82" height="0.93" fill="#0e0"/><rect x="340.03" y="24.86" width="2.71" height="1.33" fill="#0e0"/><rect x="343.59" y="25.15" width="4.89" height="0.97" fill="#0e0"/><rect x="349.74" y="24.86" width="4.1" height="1.18" fill="#0e0"/><rect x="355.23" y="24.83" width="3.26" height="1.22" fill="#0e0"/><rect x="358.84" y="24.92" width="4.72" height="1.17" fill="#0e0"/><rect x="364.23" y="24.63" width="1.66" height="1.09" fill="#0e0"/><rect x="366.89" y="24.75" width="2.65" height="1.27" fill="#0e0"/><rect x="370.09" y="24.93" width="3.14" height="0.93" fill="#0e0"/><rect x="374.79" y="25.14" width="4.13" height="0.97" fill="#0e0"/><rect x="379.46" y="25.07" width="4.73" height="0.99" fill="#0e0"/><rect x="384.65" y="24.75" width="1.86" height="1.06" fill="#0e0"/><rect x="387.05" y="24.81" width="1.63" height="1.21" fill="#0e0"/><rect x="389.44" y="24.61" width="2.23" height="1.16" fill="#0e0"/><rect x="392.6" y="24.74" width="4.87" height="0.96" fill="#0e0"/><rect x="398.34" y="25.13" width="4.15" height="0.94" fill="#0e0"/><rect x="403.44" y="25.12" width="1.7" height="1.48" fill="#0e0"/><rect x="405.52" y="25.09" width="4.8" height="1.01" fill="#0e0"/><rect x="411.05" y="25.17" width="4.75" height="1.03" fill="#0e0"/><rect x="416.47" y="24.97" width="2.96" height="0.92" fill="#0e0"/><rect x="420.61" y="24.89" width="3.13" height="0.95" fill="#0e0"/><rect x="424.89" y="24.79" width="3.36" height="1.47" fill="#0e0"/><rect x="429.81" y="25.2" width="3.46" height="1.13" fill="#0e0"/><rect x="434.63" y="25.11" width="3.95" height="1.47" fill="#0e0"/><rect x="439.74" y="24.73" width="2.23" height="1.36" fill="#0e0"/><rect x="442.49" y="24.62" width="3.53" height="1.07" fill="#0e0"/><rect x="446.66" y="24.97" width="2.7" height="1.08" fill="#0e0"/><rect x="449.67" y="24.72" width="1.74" height="1.33" fill="#0e0"/><rect x="452.85" y="24.72" width="4.19" height="0.94" fill="#0e0"/><rect x="457.69" y="24.97" width="2.81" height="1.07" fill="#0e0"/><rect x="460.97" y="24.66" width="1.93" height="1.21" fill="#0e0"/><rect x="463.75" y="24.67" width="3.22" height="0.97" fill="#0e0"/><rect x="468.41" y="24.65" width="4.83" height="1.29" fill="#0e0"/><rect x="473.84" y="24.72" width="3.17" height="1.15" fill="#0e0"/><rect x="477.6" y="24.82" width="3.74" height="1.1" fill="#0e0"/><rect x="482.39" y="24.76" width="3.8" height="1.3" fill="#0e0"/><rect x="486.51" y="24.61" width="3.64" height="1.12" fill="#0e0"/><rect x="491.22" y="24.83" width="4.53" height="1.07" fill="#0e0"/><rect x="496.19" y="25.06" width="4.58" height="0.96" fill="#0e0"/><rect x="501.92" y="24.73" width="3.09" height="1.37" fill="#0e0"/><rect x="505.33" y="24.95" width="1.61" height="1.32" fill="#0e0"/><rect x="508.52" y="25.12" width="4.35" height="1.3" fill="#0e0"/><rect x="513.38" y="24.7" width="1.75" height="1.2" fill="#0e0"/><rect x="516.06" y="24.64" width="3.78" height="1.03" fill="#0e0"/><rect x="520.17" y="24.86" width="4.26" height="1.04" fill="#0e0"/><rect x="525.43" y="24.63" width="1.89" height="1.5" fill="#0e0"/><rect x="528.47" y="25.16" width="4.27" height="1.21" fill="#0e0"/><rect x="533.8" y="25.1" width="3.24" height="1.21" fill="#0e0"/><rect x="537.46" y="24.6" width="4.28" height="1.48" fill="#0e0"/><rect x="542.95" y="25.14" width="4.25" height="1.3" fill="#0e0"/><rect x="548.76" y="25.13" width="3.16" height="1.16" fill="#0e0"/><rect x="552.42" y="24.82" width="2.8" height="1.4" fill="#0e0"/><rect x="556.67" y="24.85" width="1.88" height="1.24" fill="#0e0"/><rect x="560.12" y="24.66" width="4.22" height="1.5" fill="#0e0"/><rect x="565.37" y="24.74" width="1.74" height="1.3" fill="#0e0"/><rect x="568.07" y="24.81" width="2.58" height="1.05" fill="#0e0"/><rect x="571.71" y="25.19" width="3.13" height="1.25" fill="#0e0"/><rect x="575.37" y="24.68" width="1.87" height="1.44" fill="#0e0"/><rect x="578.59" y="24.69" width="3.26" height="1.24" fill="#0e0"/><rect x="582.37" y="25.18" width="3.66" height="1.33" fill="#0e0"/><rect x="586.49" y="24.74" width="4.38" height="1.38" fill="#0e0"/><rect x="591.31" y="24.83" width="4.08" height="1.08" fill="#0e0"/><rect x="596.5" y="24.9" width="2.92" height="1.45" fill="#0e0"/><rect x="600.42" y="25.07" width="4.17" height="1.13" fill="#0e0"/><rect x="605.28" y="24.92" width="2.25" height="1.29" fill="#0e0"/><rect x="608.37" y="24.72" width="4.63" height="1.5" fill="#0e0"/><rect x="614.04" y="25.19" width="1.98" height="1.46" fill="#0e0"/><rect x="616.45" y="24.76" width="3.69" height="1.26" fill="#0e0"/><rect x="620.72" y="25.08" width="1.8" height="1.13" fill="#0e0"/><rect x="623.66" y="24.67" width="2.67" height="1.09" fill="#0e0"/><rect x="627.32" y="24.83" width="2.07" height="1.09" fill="#0e0"/><rect x="630.76" y="25.03" width="3.86" height="0.92" fill="#0e0"/><rect x="635.39" y="24.91" width="4.83" height="1.22" fill="#0e0"/><rect x="641.47" y="24.96" width="2.81" height="0.96" fill="#0e0"/><rect x="645.47" y="24.75" width="2.75" height="1.48" fill="#0e0"/><rect x="649.42" y="24.73" width="4.44" height="1.36" fill="#0e0"/><rect x="654.23" y="24.67" width="2.14" height="1.36" fill="#0e0"/><rect x="657.12" y="24.73" width="4.5" height="1.25" fill="#0e0"/><rect x="662.97" y="24.99" width="4.8" height="1.12" fill="#0e0"/><rect x="668.19" y="24.66" width="3.5" height="1.14" fill="#0e0"/><rect x="672.29" y="24.62" width="2.38" height="0.99" fill="#0e0"/><rect x="675.16" y="24.77" width="2.5" height="1.5" fill="#0e0"/><rect x="647.6" y="0" width="1.2" height="42" fill="#9a9a9a"/><rect x="651.8" y="0" width="1.4" height="42" fill="#e8e8e8"/></svg>
<div class="abs" style="left:12px;top:46px;font-size:8px;line-height:10px;color:#e8eaf4;white-space:pre">2.6250V</div>
<div class="abs" style="left:12px;top:71px;width:36.6px;overflow:hidden;font-size:8px;line-height:10px;color:#e8eaf4;white-space:pre">-60.001 mV</div>
<div class="xl" style="left:60px;top:91.6px">-81.603 µS</div><div class="xl" style="left:174.2px;top:91.6px">-1.6001 µS</div><div class="xl" style="left:305.6px;top:91.6px">78.403 µS</div><div class="xl" style="left:447.5px;top:91.6px">158.41 µS</div><div class="xl" style="left:574.3px;top:91.6px">238.41 µS</div><div class="xl" style="left:700.6px;top:91.6px">318.42 µS</div>
<div class="abs" style="left:59.6px;top:146.7px;width:675.4px;height:136px;background:#000"></div>
<svg width="675" height="136" viewBox="0 0 675 136" style="position:absolute;left:60px;top:147px"><defs><linearGradient id="rg" x1="0" y1="0" x2="0" y2="1"><stop offset="0" stop-color="#8a0000"/><stop offset="0.46" stop-color="#720000"/><stop offset="0.50" stop-color="#2c0000"/><stop offset="0.55" stop-color="#560000"/><stop offset="1" stop-color="#420000"/></linearGradient></defs><rect x="29" y="6" width="608.5" height="87" fill="url(#rg)"/><path d="M29,49.97 L35,50.65 L41,53.21 L47,52.25 L53,54.06 L59,53.54 L65,52.2 L71,52.75 L77,50.28 L83,50.27 L89,47.98 L95,46.99 L101,47.22 L107,48.03 L113,45.93 L119,46.66 L125,48.67 L131,50.7 L137,50.79 L143,51.45 L149,54.23 L155,52.2 L161,55.03 L167,53.3 L173,52.42 L179,51.54 L185,51.04 L191,51.36 L197,48.26 L203,48.42 L209,47.84 L215,46.65 L221,47.22 L227,46.21 L233,47.02 L239,48.53 L245,51.16 L251,51.59 L257,52.29 L263,53.85 L269,53.83 L275,53.32 L281,54.34 L287,53.24 L293,50.79 L299,50.58 L305,49.24 L311,49.26 L317,48.08 L323,46.39 L329,48.53 L335,46.41 L341,48.14 L347,50.24 L353,49.63 L359,51.83 L365,51.5 L371,54.12 L377,54.77 L383,54.13 L389,54.55 L395,52.03 L401,52.09 L407,50.58 L413,49.35 L419,47.96 L425,48.39 L431,48.36 L437,47.02 L443,48.08 L449,47.11 L455,50.13 L461,51.18 L467,53.4 L473,53.9 L479,53 L485,53.64 L491,54.4 L497,51.96 L503,52.43 L509,50.45 L515,49.09 L521,47.73 L527,48.85 L533,46.23 L539,46.26 L545,46.79 L551,48.74 L557,47.22 L563,49.43 L569,50.94 L575,53.12 L581,53.93 L587,54.76 L593,53.32 L599,53.63 L605,52.94 L611,53.65 L617,52.76 L623,49.13 L629,48.03 L635,47.2" fill="none" stroke="#1a0000" stroke-width="2.2" opacity="0.7"/><rect x="32.4" y="6" width="1.19" height="87" fill="#0a0000"/><rect x="31.9" y="21.19" width="1.16" height="38.04" fill="#100000"/><rect x="29" y="56.09" width="1.25" height="36.91" fill="#f00"/><rect x="29" y="93" width="1.5" height="25.27" fill="#f00"/><rect x="30.2" y="0.6" width="1.2" height="61.01" fill="#f00"/><rect x="29.2" y="13" width="1.0" height="43.09" fill="#980000"/><rect x="37.06" y="6" width="1.24" height="87" fill="#0a0000"/><rect x="36.56" y="63.28" width="1.51" height="27.72" fill="#100000"/><rect x="33.66" y="69.02" width="1.25" height="23.98" fill="#f00"/><rect x="33.66" y="93" width="1.5" height="17.46" fill="#f00"/><rect x="34.86" y="0.6" width="1.2" height="71.61" fill="#f00"/><rect x="33.86" y="13" width="1.0" height="56.02" fill="#980000"/><rect x="41.72" y="6" width="0.93" height="87" fill="#0a0000"/><rect x="41.22" y="30.81" width="1.14" height="23.93" fill="#100000"/><rect x="39.92" y="23.01" width="1" height="14.54" fill="#a00000"/><rect x="38.32" y="64.91" width="1.25" height="28.09" fill="#f00"/><rect x="38.32" y="93" width="1.5" height="21.01" fill="#f00"/><rect x="39.52" y="0.6" width="1.2" height="67.22" fill="#f00"/><rect x="38.52" y="13" width="1.0" height="51.91" fill="#980000"/><rect x="45.88" y="27.98" width="1.14" height="28.87" fill="#100000"/><rect x="44.58" y="26.69" width="1" height="35.47" fill="#a00000"/><rect x="42.98" y="68.14" width="1.25" height="24.86" fill="#f00"/><rect x="42.98" y="93" width="1.5" height="20.47" fill="#f00"/><rect x="44.18" y="0.6" width="1.2" height="71.27" fill="#f00"/><rect x="43.18" y="13" width="1.0" height="55.14" fill="#980000"/><rect x="51.04" y="6" width="0.95" height="87" fill="#0a0000"/><rect x="50.54" y="33.44" width="1.01" height="57.56" fill="#100000"/><rect x="49.24" y="51.53" width="1" height="25.85" fill="#a00000"/><rect x="47.64" y="83.3" width="1.25" height="9.7" fill="#f00"/><rect x="47.64" y="93" width="1.5" height="21.23" fill="#f00"/><rect x="48.84" y="0.6" width="1.2" height="87.04" fill="#f00"/><rect x="47.84" y="13" width="1.0" height="70.3" fill="#980000"/><rect x="55.7" y="6" width="1.39" height="87" fill="#0a0000"/><rect x="52.3" y="75.33" width="1.25" height="17.67" fill="#f00"/><rect x="52.3" y="93" width="1.5" height="16.81" fill="#f00"/><rect x="53.5" y="0.6" width="1.2" height="77.66" fill="#f00"/><rect x="52.5" y="13" width="1.0" height="62.33" fill="#980000"/><rect x="60.36" y="6" width="1.17" height="87" fill="#0a0000"/><rect x="58.56" y="29.69" width="1" height="34.35" fill="#a00000"/><rect x="56.96" y="80.37" width="1.25" height="12.63" fill="#f00"/><rect x="56.96" y="93" width="1.5" height="25.42" fill="#f00"/><rect x="58.16" y="0.6" width="1.2" height="86.59" fill="#f00"/><rect x="57.16" y="13" width="1.0" height="67.37" fill="#980000"/><rect x="64.52" y="31.66" width="1.15" height="43.47" fill="#100000"/><rect x="63.22" y="23.84" width="1" height="18.38" fill="#a00000"/><rect x="61.62" y="85" width="1.25" height="8" fill="#f00"/><rect x="61.62" y="93" width="1.5" height="16.8" fill="#f00"/><rect x="62.82" y="0.6" width="1.2" height="89.94" fill="#f00"/><rect x="61.82" y="13" width="1.0" height="72" fill="#980000"/><rect x="69.68" y="6" width="1.37" height="87" fill="#0a0000"/><rect x="66.28" y="85" width="1.25" height="8" fill="#f00"/><rect x="66.28" y="93" width="1.5" height="22.32" fill="#f00"/><rect x="67.48" y="0.6" width="1.2" height="86.16" fill="#f00"/><rect x="66.48" y="13" width="1.0" height="72" fill="#980000"/><rect x="74.34" y="6" width="1" height="87" fill="#0a0000"/><rect x="73.84" y="63.31" width="1.24" height="27.69" fill="#100000"/><rect x="70.94" y="78.33" width="1.25" height="14.67" fill="#f00"/><rect x="70.94" y="93" width="1.5" height="19.5" fill="#f00"/><rect x="72.14" y="0.6" width="1.2" height="78.41" fill="#f00"/><rect x="71.14" y="13" width="1.0" height="65.33" fill="#980000"/><rect x="75.6" y="84.91" width="1.25" height="8.09" fill="#f00"/><rect x="75.6" y="93" width="1.5" height="22.89" fill="#f00"/><rect x="76.8" y="0.6" width="1.2" height="85.74" fill="#f00"/><rect x="75.8" y="13" width="1.0" height="71.91" fill="#980000"/><rect x="83.66" y="6" width="1.3" height="87" fill="#0a0000"/><rect x="81.86" y="35.04" width="1" height="38.4" fill="#a00000"/><rect x="80.26" y="83.08" width="1.25" height="9.92" fill="#f00"/><rect x="80.26" y="93" width="1.5" height="19.12" fill="#f00"/><rect x="81.46" y="0.6" width="1.2" height="83.84" fill="#f00"/><rect x="80.46" y="13" width="1.0" height="70.08" fill="#980000"/><rect x="88.32" y="6" width="1.35" height="87" fill="#0a0000"/><rect x="86.52" y="47.8" width="1" height="39.41" fill="#a00000"/><rect x="84.92" y="61.43" width="1.25" height="31.57" fill="#f00"/><rect x="84.92" y="93" width="1.5" height="23.79" fill="#f00"/><rect x="86.12" y="0.6" width="1.2" height="63.64" fill="#f00"/><rect x="85.12" y="13" width="1.0" height="48.43" fill="#980000"/><rect x="92.98" y="6" width="0.91" height="87" fill="#0a0000"/><rect x="89.58" y="65.22" width="1.25" height="27.78" fill="#f00"/><rect x="89.58" y="93" width="1.5" height="18.13" fill="#f00"/><rect x="90.78" y="0.6" width="1.2" height="72.09" fill="#f00"/><rect x="89.78" y="13" width="1.0" height="52.22" fill="#980000"/><rect x="95.84" y="30.56" width="1" height="18.79" fill="#a00000"/><rect x="94.24" y="55.87" width="1.25" height="37.13" fill="#f00"/><rect x="94.24" y="93" width="1.5" height="21.7" fill="#f00"/><rect x="95.44" y="0.6" width="1.2" height="59.96" fill="#f00"/><rect x="94.44" y="13" width="1.0" height="42.87" fill="#980000"/><rect x="102.3" y="6" width="0.97" height="87" fill="#0a0000"/><rect x="100.5" y="36.74" width="1" height="27.5" fill="#a00000"/><rect x="98.9" y="45.14" width="1.25" height="47.86" fill="#f00"/><rect x="98.9" y="93" width="1.5" height="20.02" fill="#f00"/><rect x="100.1" y="0.6" width="1.2" height="47.91" fill="#f00"/><rect x="99.1" y="13" width="1.0" height="32.14" fill="#980000"/><rect x="106.96" y="6" width="1.17" height="87" fill="#0a0000"/><rect x="106.46" y="21.88" width="1.03" height="39.21" fill="#100000"/><rect x="105.16" y="46.98" width="1" height="15.17" fill="#a00000"/><rect x="103.56" y="54.77" width="1.25" height="38.23" fill="#f00"/><rect x="103.56" y="93" width="1.5" height="22.87" fill="#f00"/><rect x="104.76" y="0.6" width="1.2" height="59.97" fill="#f00"/><rect x="103.76" y="13" width="1.0" height="41.77" fill="#980000"/><rect x="111.62" y="6" width="1.16" height="87" fill="#0a0000"/><rect x="111.12" y="57.86" width="1.29" height="20.84" fill="#100000"/><rect x="109.82" y="31.31" width="1" height="33.17" fill="#a00000"/><rect x="108.22" y="40.59" width="1.25" height="52.41" fill="#f00"/><rect x="108.22" y="93" width="1.5" height="18.04" fill="#f00"/><rect x="109.42" y="0.6" width="1.2" height="44.48" fill="#f00"/><rect x="108.42" y="13" width="1.0" height="27.59" fill="#980000"/><rect x="115.78" y="49.79" width="1.26" height="41.21" fill="#100000"/><rect x="112.88" y="40.86" width="1.25" height="52.14" fill="#f00"/><rect x="112.88" y="93" width="1.5" height="22.76" fill="#f00"/><rect x="114.08" y="0.6" width="1.2" height="44.53" fill="#f00"/><rect x="113.08" y="13" width="1.0" height="27.86" fill="#980000"/><rect x="120.44" y="62.2" width="1.08" height="28.8" fill="#100000"/><rect x="117.54" y="30.6" width="1.25" height="62.4" fill="#f00"/><rect x="117.54" y="93" width="1.5" height="20.22" fill="#f00"/><rect x="118.74" y="0.6" width="1.2" height="36.72" fill="#f00"/><rect x="117.74" y="13" width="1.0" height="17.6" fill="#980000"/><rect x="125.6" y="6" width="1.12" height="87" fill="#0a0000"/><rect x="125.1" y="32.31" width="1.37" height="19.02" fill="#100000"/><rect x="122.2" y="23" width="1.25" height="70" fill="#f00"/><rect x="122.2" y="93" width="1.5" height="24.99" fill="#f00"/><rect x="123.4" y="0.6" width="1.2" height="23.64" fill="#f00"/><rect x="122.4" y="13" width="1.0" height="10" fill="#980000"/><rect x="130.26" y="6" width="0.97" height="87" fill="#0a0000"/><rect x="126.86" y="33.17" width="1.25" height="59.83" fill="#f00"/><rect x="126.86" y="93" width="1.5" height="16.6" fill="#f00"/><rect x="128.06" y="0.6" width="1.2" height="40.19" fill="#f00"/><rect x="127.06" y="13" width="1.0" height="20.17" fill="#980000"/><rect x="134.92" y="6" width="1.39" height="87" fill="#0a0000"/><rect x="133.12" y="35.95" width="1" height="25.47" fill="#a00000"/><rect x="131.52" y="25.98" width="1.25" height="67.02" fill="#f00"/><rect x="131.52" y="93" width="1.5" height="22.2" fill="#f00"/><rect x="132.72" y="0.6" width="1.2" height="26.94" fill="#f00"/><rect x="131.72" y="13" width="1.0" height="12.98" fill="#980000"/><rect x="139.58" y="6" width="0.91" height="87" fill="#0a0000"/><rect x="139.08" y="41.7" width="1.13" height="15.99" fill="#100000"/><rect x="136.18" y="25.76" width="1.25" height="67.24" fill="#f00"/><rect x="136.18" y="93" width="1.5" height="18.06" fill="#f00"/><rect x="137.38" y="0.6" width="1.2" height="25.68" fill="#f00"/><rect x="136.38" y="13" width="1.0" height="12.76" fill="#980000"/><rect x="144.24" y="6" width="1.39" height="87" fill="#0a0000"/><rect x="143.74" y="33.48" width="1.45" height="17.18" fill="#100000"/><rect x="142.44" y="26.89" width="1" height="22.67" fill="#a00000"/><rect x="140.84" y="44.59" width="1.25" height="48.41" fill="#f00"/><rect x="140.84" y="93" width="1.5" height="25.06" fill="#f00"/><rect x="142.04" y="0.6" width="1.2" height="50.54" fill="#f00"/><rect x="141.04" y="13" width="1.0" height="31.59" fill="#980000"/><rect x="148.9" y="6" width="1.36" height="87" fill="#0a0000"/><rect x="148.4" y="53.92" width="0.94" height="19.92" fill="#100000"/><rect x="145.5" y="30.92" width="1.25" height="62.08" fill="#f00"/><rect x="145.5" y="93" width="1.5" height="17.63" fill="#f00"/><rect x="146.7" y="0.6" width="1.2" height="30.9" fill="#f00"/><rect x="145.7" y="13" width="1.0" height="17.92" fill="#980000"/><rect x="153.56" y="6" width="1.3" height="87" fill="#0a0000"/><rect x="153.06" y="61.24" width="1.5" height="18.66" fill="#100000"/><rect x="151.76" y="33.17" width="1" height="26.59" fill="#a00000"/><rect x="150.16" y="51.7" width="1.25" height="41.3" fill="#f00"/><rect x="150.16" y="93" width="1.5" height="25.13" fill="#f00"/><rect x="151.36" y="0.6" width="1.2" height="53.24" fill="#f00"/><rect x="150.36" y="13" width="1.0" height="38.7" fill="#980000"/><rect x="158.22" y="6" width="1.02" height="87" fill="#0a0000"/><rect x="157.72" y="28.59" width="1.04" height="17.77" fill="#100000"/><rect x="156.42" y="32.15" width="1" height="32.78" fill="#a00000"/><rect x="154.82" y="37.15" width="1.25" height="55.85" fill="#f00"/><rect x="154.82" y="93" width="1.5" height="16.95" fill="#f00"/><rect x="156.02" y="0.6" width="1.2" height="40.55" fill="#f00"/><rect x="155.02" y="13" width="1.0" height="24.15" fill="#980000"/><rect x="162.88" y="6" width="0.91" height="87" fill="#0a0000"/><rect x="162.38" y="21.72" width="1.29" height="55.32" fill="#100000"/><rect x="161.08" y="37.24" width="1" height="38.04" fill="#a00000"/><rect x="159.48" y="43.29" width="1.25" height="49.71" fill="#f00"/><rect x="159.48" y="93" width="1.5" height="21.03" fill="#f00"/><rect x="160.68" y="0.6" width="1.2" height="49.24" fill="#f00"/><rect x="159.68" y="13" width="1.0" height="30.29" fill="#980000"/><rect x="167.54" y="6" width="1.32" height="87" fill="#0a0000"/><rect x="167.04" y="44.81" width="1.59" height="46.19" fill="#100000"/><rect x="165.74" y="47.97" width="1" height="31.2" fill="#a00000"/><rect x="164.14" y="54.16" width="1.25" height="38.84" fill="#f00"/><rect x="164.14" y="93" width="1.5" height="18.68" fill="#f00"/><rect x="165.34" y="0.6" width="1.2" height="56.8" fill="#f00"/><rect x="164.34" y="13" width="1.0" height="41.16" fill="#980000"/><rect x="172.2" y="6" width="0.96" height="87" fill="#0a0000"/><rect x="171.7" y="55.82" width="1.01" height="29.06" fill="#100000"/><rect x="170.4" y="48.24" width="1" height="36.12" fill="#a00000"/><rect x="168.8" y="56.4" width="1.25" height="36.6" fill="#f00"/><rect x="168.8" y="93" width="1.5" height="23.85" fill="#f00"/><rect x="170" y="0.6" width="1.2" height="58.05" fill="#f00"/><rect x="169" y="13" width="1.0" height="43.4" fill="#980000"/><rect x="176.86" y="6" width="1.13" height="87" fill="#0a0000"/><rect x="176.36" y="41.95" width="1.57" height="29.48" fill="#100000"/><rect x="173.46" y="57.37" width="1.25" height="35.63" fill="#f00"/><rect x="173.46" y="93" width="1.5" height="18.24" fill="#f00"/><rect x="174.66" y="0.6" width="1.2" height="58.72" fill="#f00"/><rect x="173.66" y="13" width="1.0" height="44.37" fill="#980000"/><rect x="181.52" y="6" width="1.08" height="87" fill="#0a0000"/><rect x="181.02" y="38.94" width="1.25" height="41.11" fill="#100000"/><rect x="179.72" y="38.14" width="1" height="10.15" fill="#a00000"/><rect x="178.12" y="77.23" width="1.25" height="15.77" fill="#f00"/><rect x="178.12" y="93" width="1.5" height="21.82" fill="#f00"/><rect x="179.32" y="0.6" width="1.2" height="77.34" fill="#f00"/><rect x="178.32" y="13" width="1.0" height="64.23" fill="#980000"/><rect x="186.18" y="6" width="0.91" height="87" fill="#0a0000"/><rect x="185.68" y="31.94" width="1.27" height="47.21" fill="#100000"/><rect x="182.78" y="64.96" width="1.25" height="28.04" fill="#f00"/><rect x="182.78" y="93" width="1.5" height="18.79" fill="#f00"/><rect x="183.98" y="0.6" width="1.2" height="70.09" fill="#f00"/><rect x="182.98" y="13" width="1.0" height="51.96" fill="#980000"/><rect x="190.84" y="6" width="1.06" height="87" fill="#0a0000"/><rect x="189.04" y="44.72" width="1" height="29.3" fill="#a00000"/><rect x="187.44" y="76.5" width="1.25" height="16.5" fill="#f00"/><rect x="187.44" y="93" width="1.5" height="20.72" fill="#f00"/><rect x="188.64" y="0.6" width="1.2" height="82.58" fill="#f00"/><rect x="187.64" y="13" width="1.0" height="63.5" fill="#980000"/><rect x="195.5" y="6" width="1.27" height="87" fill="#0a0000"/><rect x="193.7" y="38.71" width="1" height="25.13" fill="#a00000"/><rect x="192.1" y="75.51" width="1.25" height="17.49" fill="#f00"/><rect x="192.1" y="93" width="1.5" height="19.67" fill="#f00"/><rect x="193.3" y="0.6" width="1.2" height="81.35" fill="#f00"/><rect x="192.3" y="13" width="1.0" height="62.51" fill="#980000"/><rect x="200.16" y="6" width="1.35" height="87" fill="#0a0000"/><rect x="199.66" y="53.59" width="0.92" height="27.65" fill="#100000"/><rect x="198.36" y="33.82" width="1" height="13.15" fill="#a00000"/><rect x="196.76" y="71.34" width="1.25" height="21.66" fill="#f00"/><rect x="196.76" y="93" width="1.5" height="24.68" fill="#f00"/><rect x="197.96" y="0.6" width="1.2" height="75.21" fill="#f00"/><rect x="196.96" y="13" width="1.0" height="58.34" fill="#980000"/><rect x="204.82" y="6" width="1.24" height="87" fill="#0a0000"/><rect x="204.32" y="21.16" width="1.42" height="58.87" fill="#100000"/><rect x="201.42" y="62.77" width="1.25" height="30.23" fill="#f00"/><rect x="201.42" y="93" width="1.5" height="18.18" fill="#f00"/><rect x="202.62" y="0.6" width="1.2" height="67.44" fill="#f00"/><rect x="201.62" y="13" width="1.0" height="49.77" fill="#980000"/><rect x="209.48" y="6" width="1.03" height="87" fill="#0a0000"/><rect x="208.98" y="33.48" width="1.04" height="55.11" fill="#100000"/><rect x="206.08" y="44.45" width="1.25" height="48.55" fill="#f00"/><rect x="206.08" y="93" width="1.5" height="25.38" fill="#f00"/><rect x="207.28" y="0.6" width="1.2" height="47.8" fill="#f00"/><rect x="206.28" y="13" width="1.0" height="31.45" fill="#980000"/><rect x="214.14" y="6" width="1.24" height="87" fill="#0a0000"/><rect x="210.74" y="46.4" width="1.25" height="46.6" fill="#f00"/><rect x="210.74" y="93" width="1.5" height="18.71" fill="#f00"/><rect x="211.94" y="0.6" width="1.2" height="46.42" fill="#f00"/><rect x="210.94" y="13" width="1.0" height="33.4" fill="#980000"/><rect x="218.8" y="6" width="1.27" height="87" fill="#0a0000"/><rect x="218.3" y="47.68" width="0.94" height="15.69" fill="#100000"/><rect x="217" y="43.16" width="1" height="30.77" fill="#a00000"/><rect x="215.4" y="34.56" width="1.25" height="58.44" fill="#f00"/><rect x="215.4" y="93" width="1.5" height="23.88" fill="#f00"/><rect x="216.6" y="0.6" width="1.2" height="36.29" fill="#f00"/><rect x="215.6" y="13" width="1.0" height="21.56" fill="#980000"/><rect x="223.46" y="6" width="1.13" height="87" fill="#0a0000"/><rect x="222.96" y="63" width="1.58" height="25.96" fill="#100000"/><rect x="220.06" y="36.98" width="1.25" height="56.02" fill="#f00"/><rect x="220.06" y="93" width="1.5" height="15.59" fill="#f00"/><rect x="221.26" y="0.6" width="1.2" height="40.06" fill="#f00"/><rect x="220.26" y="13" width="1.0" height="23.98" fill="#980000"/><rect x="227.62" y="33.63" width="1.56" height="26.54" fill="#100000"/><rect x="226.32" y="40.44" width="1" height="14.25" fill="#a00000"/><rect x="224.72" y="37.89" width="1.25" height="55.11" fill="#f00"/><rect x="224.72" y="93" width="1.5" height="23.12" fill="#f00"/><rect x="225.92" y="0.6" width="1.2" height="44.92" fill="#f00"/><rect x="224.92" y="13" width="1.0" height="24.89" fill="#980000"/><rect x="232.28" y="62.68" width="1.06" height="28.32" fill="#100000"/><rect x="229.38" y="23" width="1.25" height="70" fill="#f00"/><rect x="229.38" y="93" width="1.5" height="17.93" fill="#f00"/><rect x="230.58" y="0.6" width="1.2" height="22.6" fill="#f00"/><rect x="229.58" y="13" width="1.0" height="10" fill="#980000"/><rect x="237.44" y="6" width="1.13" height="87" fill="#0a0000"/><rect x="236.94" y="27.61" width="1.12" height="33.92" fill="#100000"/><rect x="234.04" y="23" width="1.25" height="70" fill="#f00"/><rect x="234.04" y="93" width="1.5" height="20.51" fill="#f00"/><rect x="235.24" y="0.6" width="1.2" height="28.41" fill="#f00"/><rect x="234.24" y="13" width="1.0" height="10" fill="#980000"/><rect x="242.1" y="6" width="1.36" height="87" fill="#0a0000"/><rect x="241.6" y="63.37" width="1.16" height="27.63" fill="#100000"/><rect x="240.3" y="52.96" width="1" height="27.68" fill="#a00000"/><rect x="238.7" y="23" width="1.25" height="70" fill="#f00"/><rect x="238.7" y="93" width="1.5" height="17.3" fill="#f00"/><rect x="239.9" y="0.6" width="1.2" height="25.82" fill="#f00"/><rect x="238.9" y="13" width="1.0" height="10" fill="#980000"/><rect x="246.76" y="6" width="0.95" height="87" fill="#0a0000"/><rect x="244.96" y="51.07" width="1" height="17.48" fill="#a00000"/><rect x="243.36" y="23" width="1.25" height="70" fill="#f00"/><rect x="243.36" y="93" width="1.5" height="21.83" fill="#f00"/><rect x="244.56" y="0.6" width="1.2" height="26.49" fill="#f00"/><rect x="243.56" y="13" width="1.0" height="10" fill="#980000"/><rect x="251.42" y="6" width="1.38" height="87" fill="#0a0000"/><rect x="248.02" y="23" width="1.25" height="70" fill="#f00"/><rect x="248.02" y="93" width="1.5" height="18.65" fill="#f00"/><rect x="249.22" y="0.6" width="1.2" height="29.71" fill="#f00"/><rect x="248.22" y="13" width="1.0" height="10" fill="#980000"/><rect x="256.08" y="6" width="1.26" height="87" fill="#0a0000"/><rect x="255.58" y="55.42" width="1.43" height="35.58" fill="#100000"/><rect x="252.68" y="23" width="1.25" height="70" fill="#f00"/><rect x="252.68" y="93" width="1.5" height="21.93" fill="#f00"/><rect x="253.88" y="0.6" width="1.2" height="22.79" fill="#f00"/><rect x="252.88" y="13" width="1.0" height="10" fill="#980000"/><rect x="260.74" y="6" width="1.14" height="87" fill="#0a0000"/><rect x="260.24" y="35" width="1.58" height="55.65" fill="#100000"/><rect x="258.94" y="42.68" width="1" height="19.03" fill="#a00000"/><rect x="257.34" y="23" width="1.25" height="70" fill="#f00"/><rect x="257.34" y="93" width="1.5" height="18.29" fill="#f00"/><rect x="258.54" y="0.6" width="1.2" height="25.55" fill="#f00"/><rect x="257.54" y="13" width="1.0" height="10" fill="#980000"/><rect x="265.4" y="6" width="1" height="87" fill="#0a0000"/><rect x="263.6" y="29.6" width="1" height="37.19" fill="#a00000"/><rect x="262" y="23" width="1.25" height="70" fill="#f00"/><rect x="262" y="93" width="1.5" height="25.48" fill="#f00"/><rect x="263.2" y="0.6" width="1.2" height="26" fill="#f00"/><rect x="262.2" y="13" width="1.0" height="10" fill="#980000"/><rect x="270.06" y="6" width="0.95" height="87" fill="#0a0000"/><rect x="269.56" y="25.28" width="1.08" height="28.15" fill="#100000"/><rect x="266.66" y="23" width="1.25" height="70" fill="#f00"/><rect x="266.66" y="93" width="1.5" height="19.94" fill="#f00"/><rect x="267.86" y="0.6" width="1.2" height="28.4" fill="#f00"/><rect x="266.86" y="13" width="1.0" height="10" fill="#980000"/><rect x="274.72" y="6" width="1.16" height="87" fill="#0a0000"/><rect x="274.22" y="36.9" width="1.09" height="18.41" fill="#100000"/><rect x="271.32" y="23" width="1.25" height="70" fill="#f00"/><rect x="271.32" y="93" width="1.5" height="21.13" fill="#f00"/><rect x="272.52" y="0.6" width="1.2" height="26.43" fill="#f00"/><rect x="271.52" y="13" width="1.0" height="10" fill="#980000"/><rect x="278.88" y="33.74" width="1.18" height="28.66" fill="#100000"/><rect x="277.58" y="51.62" width="1" height="35.46" fill="#a00000"/><rect x="275.98" y="29.41" width="1.25" height="63.59" fill="#f00"/><rect x="275.98" y="93" width="1.5" height="19.86" fill="#f00"/><rect x="277.18" y="0.6" width="1.2" height="28.98" fill="#f00"/><rect x="276.18" y="13" width="1.0" height="16.41" fill="#980000"/><rect x="284.04" y="6" width="1.35" height="87" fill="#0a0000"/><rect x="283.54" y="48.6" width="1.17" height="15.01" fill="#100000"/><rect x="280.64" y="23" width="1.25" height="70" fill="#f00"/><rect x="280.64" y="93" width="1.5" height="24.63" fill="#f00"/><rect x="281.84" y="0.6" width="1.2" height="29.24" fill="#f00"/><rect x="280.84" y="13" width="1.0" height="10" fill="#980000"/><rect x="288.7" y="6" width="0.95" height="87" fill="#0a0000"/><rect x="288.2" y="45.55" width="1.56" height="45.45" fill="#100000"/><rect x="285.3" y="50.17" width="1.25" height="42.83" fill="#f00"/><rect x="285.3" y="93" width="1.5" height="18.74" fill="#f00"/><rect x="286.5" y="0.6" width="1.2" height="55.69" fill="#f00"/><rect x="285.5" y="13" width="1.0" height="37.17" fill="#980000"/><rect x="293.36" y="6" width="0.92" height="87" fill="#0a0000"/><rect x="291.56" y="50.6" width="1" height="29.37" fill="#a00000"/><rect x="289.96" y="44.16" width="1.25" height="48.84" fill="#f00"/><rect x="289.96" y="93" width="1.5" height="22.02" fill="#f00"/><rect x="291.16" y="0.6" width="1.2" height="44.59" fill="#f00"/><rect x="290.16" y="13" width="1.0" height="31.16" fill="#980000"/><rect x="298.02" y="6" width="1.25" height="87" fill="#0a0000"/><rect x="297.52" y="24.31" width="1.31" height="43.84" fill="#100000"/><rect x="296.22" y="29.71" width="1" height="28.03" fill="#a00000"/><rect x="294.62" y="45.22" width="1.25" height="47.78" fill="#f00"/><rect x="294.62" y="93" width="1.5" height="15.55" fill="#f00"/><rect x="295.82" y="0.6" width="1.2" height="47.03" fill="#f00"/><rect x="294.82" y="13" width="1.0" height="32.22" fill="#980000"/><rect x="302.18" y="62.54" width="1.06" height="28.46" fill="#100000"/><rect x="300.88" y="51.82" width="1" height="31.14" fill="#a00000"/><rect x="299.28" y="55.57" width="1.25" height="37.43" fill="#f00"/><rect x="299.28" y="93" width="1.5" height="22.04" fill="#f00"/><rect x="300.48" y="0.6" width="1.2" height="55.14" fill="#f00"/><rect x="299.48" y="13" width="1.0" height="42.57" fill="#980000"/><rect x="307.34" y="6" width="1.11" height="87" fill="#0a0000"/><rect x="306.84" y="52.37" width="1.06" height="38.63" fill="#100000"/><rect x="305.54" y="33.14" width="1" height="22.62" fill="#a00000"/><rect x="303.94" y="60.9" width="1.25" height="32.1" fill="#f00"/><rect x="303.94" y="93" width="1.5" height="18.91" fill="#f00"/><rect x="305.14" y="0.6" width="1.2" height="61.89" fill="#f00"/><rect x="304.14" y="13" width="1.0" height="47.9" fill="#980000"/><rect x="312" y="6" width="1.15" height="87" fill="#0a0000"/><rect x="311.5" y="66.58" width="1.47" height="24.42" fill="#100000"/><rect x="310.2" y="29.64" width="1" height="32.81" fill="#a00000"/><rect x="308.6" y="71.4" width="1.25" height="21.6" fill="#f00"/><rect x="308.6" y="93" width="1.5" height="21.97" fill="#f00"/><rect x="309.8" y="0.6" width="1.2" height="78.42" fill="#f00"/><rect x="308.8" y="13" width="1.0" height="58.4" fill="#980000"/><rect x="316.66" y="6" width="1.01" height="87" fill="#0a0000"/><rect x="316.16" y="52.27" width="1" height="38.73" fill="#100000"/><rect x="314.86" y="29.39" width="1" height="39.22" fill="#a00000"/><rect x="313.26" y="66.25" width="1.25" height="26.75" fill="#f00"/><rect x="313.26" y="93" width="1.5" height="16.21" fill="#f00"/><rect x="314.46" y="0.6" width="1.2" height="66.07" fill="#f00"/><rect x="313.46" y="13" width="1.0" height="53.25" fill="#980000"/><rect x="321.32" y="6" width="1.35" height="87" fill="#0a0000"/><rect x="317.92" y="56.56" width="1.25" height="36.44" fill="#f00"/><rect x="317.92" y="93" width="1.5" height="25.49" fill="#f00"/><rect x="319.12" y="0.6" width="1.2" height="63.41" fill="#f00"/><rect x="318.12" y="13" width="1.0" height="43.56" fill="#980000"/><rect x="325.98" y="6" width="1.37" height="87" fill="#0a0000"/><rect x="325.48" y="22.5" width="1.17" height="51.54" fill="#100000"/><rect x="324.18" y="32.95" width="1" height="15.08" fill="#a00000"/><rect x="322.58" y="62.46" width="1.25" height="30.54" fill="#f00"/><rect x="322.58" y="93" width="1.5" height="15.51" fill="#f00"/><rect x="323.78" y="0.6" width="1.2" height="64.1" fill="#f00"/><rect x="322.78" y="13" width="1.0" height="49.46" fill="#980000"/><rect x="330.14" y="66.32" width="1.15" height="24.68" fill="#100000"/><rect x="327.24" y="61.19" width="1.25" height="31.81" fill="#f00"/><rect x="327.24" y="93" width="1.5" height="24.61" fill="#f00"/><rect x="328.44" y="0.6" width="1.2" height="64.05" fill="#f00"/><rect x="327.44" y="13" width="1.0" height="48.19" fill="#980000"/><rect x="335.3" y="6" width="1.09" height="87" fill="#0a0000"/><rect x="333.5" y="33.93" width="1" height="36.91" fill="#a00000"/><rect x="331.9" y="51.02" width="1.25" height="41.98" fill="#f00"/><rect x="331.9" y="93" width="1.5" height="15.65" fill="#f00"/><rect x="333.1" y="0.6" width="1.2" height="53.7" fill="#f00"/><rect x="332.1" y="13" width="1.0" height="38.02" fill="#980000"/><rect x="339.96" y="6" width="0.92" height="87" fill="#0a0000"/><rect x="339.46" y="23.94" width="1.08" height="65.6" fill="#100000"/><rect x="336.56" y="65.48" width="1.25" height="27.52" fill="#f00"/><rect x="336.56" y="93" width="1.5" height="24.99" fill="#f00"/><rect x="337.76" y="0.6" width="1.2" height="67.59" fill="#f00"/><rect x="336.76" y="13" width="1.0" height="52.48" fill="#980000"/><rect x="344.12" y="33.32" width="1.12" height="54.41" fill="#100000"/><rect x="342.82" y="23.11" width="1" height="32.67" fill="#a00000"/><rect x="341.22" y="48.03" width="1.25" height="44.97" fill="#f00"/><rect x="341.22" y="93" width="1.5" height="20.08" fill="#f00"/><rect x="342.42" y="0.6" width="1.2" height="52.5" fill="#f00"/><rect x="341.42" y="13" width="1.0" height="35.03" fill="#980000"/><rect x="349.28" y="6" width="1.02" height="87" fill="#0a0000"/><rect x="348.78" y="65.97" width="1.17" height="25.03" fill="#100000"/><rect x="347.48" y="35.9" width="1" height="24.8" fill="#a00000"/><rect x="345.88" y="59.24" width="1.25" height="33.76" fill="#f00"/><rect x="345.88" y="93" width="1.5" height="25.14" fill="#f00"/><rect x="347.08" y="0.6" width="1.2" height="60.1" fill="#f00"/><rect x="346.08" y="13" width="1.0" height="46.24" fill="#980000"/><rect x="353.94" y="6" width="1.31" height="87" fill="#0a0000"/><rect x="350.54" y="50.89" width="1.25" height="42.11" fill="#f00"/><rect x="350.54" y="93" width="1.5" height="17.14" fill="#f00"/><rect x="351.74" y="0.6" width="1.2" height="52.85" fill="#f00"/><rect x="350.74" y="13" width="1.0" height="37.89" fill="#980000"/><rect x="358.6" y="6" width="0.94" height="87" fill="#0a0000"/><rect x="358.1" y="56.39" width="0.95" height="28.6" fill="#100000"/><rect x="356.8" y="39.58" width="1" height="19.77" fill="#a00000"/><rect x="355.2" y="35.57" width="1.25" height="57.43" fill="#f00"/><rect x="355.2" y="93" width="1.5" height="25.4" fill="#f00"/><rect x="356.4" y="0.6" width="1.2" height="42.03" fill="#f00"/><rect x="355.4" y="13" width="1.0" height="22.57" fill="#980000"/><rect x="363.26" y="6" width="0.94" height="87" fill="#0a0000"/><rect x="362.76" y="44.43" width="1.21" height="46.57" fill="#100000"/><rect x="361.46" y="35.51" width="1" height="28.61" fill="#a00000"/><rect x="359.86" y="46.37" width="1.25" height="46.63" fill="#f00"/><rect x="359.86" y="93" width="1.5" height="18.87" fill="#f00"/><rect x="361.06" y="0.6" width="1.2" height="51.75" fill="#f00"/><rect x="360.06" y="13" width="1.0" height="33.37" fill="#980000"/><rect x="367.92" y="6" width="0.96" height="87" fill="#0a0000"/><rect x="366.12" y="40.01" width="1" height="21.19" fill="#a00000"/><rect x="364.52" y="39.56" width="1.25" height="53.44" fill="#f00"/><rect x="364.52" y="93" width="1.5" height="24.19" fill="#f00"/><rect x="365.72" y="0.6" width="1.2" height="40.55" fill="#f00"/><rect x="364.72" y="13" width="1.0" height="26.56" fill="#980000"/><rect x="372.58" y="6" width="0.98" height="87" fill="#0a0000"/><rect x="369.18" y="23" width="1.25" height="70" fill="#f00"/><rect x="369.18" y="93" width="1.5" height="17.13" fill="#f00"/><rect x="370.38" y="0.6" width="1.2" height="25.57" fill="#f00"/><rect x="369.38" y="13" width="1.0" height="10" fill="#980000"/><rect x="377.24" y="6" width="1.02" height="87" fill="#0a0000"/><rect x="373.84" y="39.43" width="1.25" height="53.57" fill="#f00"/><rect x="373.84" y="93" width="1.5" height="25.45" fill="#f00"/><rect x="375.04" y="0.6" width="1.2" height="39.65" fill="#f00"/><rect x="374.04" y="13" width="1.0" height="26.43" fill="#980000"/><rect x="378.5" y="27.1" width="1.25" height="65.9" fill="#f00"/><rect x="378.5" y="93" width="1.5" height="15.7" fill="#f00"/><rect x="379.7" y="0.6" width="1.2" height="28.85" fill="#f00"/><rect x="378.7" y="13" width="1.0" height="14.1" fill="#980000"/><rect x="386.56" y="6" width="1.39" height="87" fill="#0a0000"/><rect x="386.06" y="64.72" width="1.51" height="26.28" fill="#100000"/><rect x="384.76" y="30.8" width="1" height="33.33" fill="#a00000"/><rect x="383.16" y="23" width="1.25" height="70" fill="#f00"/><rect x="383.16" y="93" width="1.5" height="25.23" fill="#f00"/><rect x="384.36" y="0.6" width="1.2" height="23.25" fill="#f00"/><rect x="383.36" y="13" width="1.0" height="10" fill="#980000"/><rect x="391.22" y="6" width="1.01" height="87" fill="#0a0000"/><rect x="390.72" y="27.64" width="1.08" height="26.22" fill="#100000"/><rect x="387.82" y="34.2" width="1.25" height="58.8" fill="#f00"/><rect x="387.82" y="93" width="1.5" height="18.76" fill="#f00"/><rect x="389.02" y="0.6" width="1.2" height="35.23" fill="#f00"/><rect x="388.02" y="13" width="1.0" height="21.2" fill="#980000"/><rect x="395.88" y="6" width="1.24" height="87" fill="#0a0000"/><rect x="395.38" y="35.67" width="1.46" height="26.19" fill="#100000"/><rect x="392.48" y="24.13" width="1.25" height="68.87" fill="#f00"/><rect x="392.48" y="93" width="1.5" height="20.82" fill="#f00"/><rect x="393.68" y="0.6" width="1.2" height="24.34" fill="#f00"/><rect x="392.68" y="13" width="1.0" height="11.13" fill="#980000"/><rect x="400.54" y="6" width="1.22" height="87" fill="#0a0000"/><rect x="400.04" y="28.69" width="1.19" height="53.25" fill="#100000"/><rect x="398.74" y="32.23" width="1" height="38.6" fill="#a00000"/><rect x="397.14" y="38.35" width="1.25" height="54.65" fill="#f00"/><rect x="397.14" y="93" width="1.5" height="17.06" fill="#f00"/><rect x="398.34" y="0.6" width="1.2" height="42.28" fill="#f00"/><rect x="397.34" y="13" width="1.0" height="25.35" fill="#980000"/><rect x="405.2" y="6" width="1.33" height="87" fill="#0a0000"/><rect x="403.4" y="28.92" width="1" height="31.84" fill="#a00000"/><rect x="401.8" y="43.26" width="1.25" height="49.74" fill="#f00"/><rect x="401.8" y="93" width="1.5" height="21.52" fill="#f00"/><rect x="403" y="0.6" width="1.2" height="42.71" fill="#f00"/><rect x="402" y="13" width="1.0" height="30.26" fill="#980000"/><rect x="409.86" y="6" width="1.31" height="87" fill="#0a0000"/><rect x="409.36" y="62.49" width="1.01" height="28.51" fill="#100000"/><rect x="408.06" y="39.55" width="1" height="29.22" fill="#a00000"/><rect x="406.46" y="62.7" width="1.25" height="30.3" fill="#f00"/><rect x="406.46" y="93" width="1.5" height="20.05" fill="#f00"/><rect x="407.66" y="0.6" width="1.2" height="62.81" fill="#f00"/><rect x="406.66" y="13" width="1.0" height="49.7" fill="#980000"/><rect x="414.52" y="6" width="1.15" height="87" fill="#0a0000"/><rect x="414.02" y="34.31" width="1.55" height="43.66" fill="#100000"/><rect x="412.72" y="37.72" width="1" height="34.14" fill="#a00000"/><rect x="411.12" y="62.62" width="1.25" height="30.38" fill="#f00"/><rect x="411.12" y="93" width="1.5" height="25.33" fill="#f00"/><rect x="412.32" y="0.6" width="1.2" height="63.6" fill="#f00"/><rect x="411.32" y="13" width="1.0" height="49.62" fill="#980000"/><rect x="417.38" y="24.6" width="1" height="37.79" fill="#a00000"/><rect x="415.78" y="57.28" width="1.25" height="35.72" fill="#f00"/><rect x="415.78" y="93" width="1.5" height="17.44" fill="#f00"/><rect x="416.98" y="0.6" width="1.2" height="63.92" fill="#f00"/><rect x="415.98" y="13" width="1.0" height="44.28" fill="#980000"/><rect x="423.34" y="57.93" width="1.18" height="27.21" fill="#100000"/><rect x="420.44" y="75.31" width="1.25" height="17.69" fill="#f00"/><rect x="420.44" y="93" width="1.5" height="24.65" fill="#f00"/><rect x="421.64" y="0.6" width="1.2" height="76.17" fill="#f00"/><rect x="420.64" y="13" width="1.0" height="62.31" fill="#980000"/><rect x="428.5" y="6" width="1.16" height="87" fill="#0a0000"/><rect x="428" y="26.78" width="1.41" height="28.59" fill="#100000"/><rect x="425.1" y="71.15" width="1.25" height="21.85" fill="#f00"/><rect x="425.1" y="93" width="1.5" height="15.71" fill="#f00"/><rect x="426.3" y="0.6" width="1.2" height="75.05" fill="#f00"/><rect x="425.3" y="13" width="1.0" height="58.15" fill="#980000"/><rect x="433.16" y="6" width="1.32" height="87" fill="#0a0000"/><rect x="432.66" y="49.18" width="1.34" height="41.82" fill="#100000"/><rect x="431.36" y="35.6" width="1" height="27.48" fill="#a00000"/><rect x="429.76" y="85" width="1.25" height="8" fill="#f00"/><rect x="429.76" y="93" width="1.5" height="22.63" fill="#f00"/><rect x="430.96" y="0.6" width="1.2" height="89.67" fill="#f00"/><rect x="429.96" y="13" width="1.0" height="72" fill="#980000"/><rect x="437.82" y="6" width="0.91" height="87" fill="#0a0000"/><rect x="437.32" y="44.01" width="1.43" height="27.94" fill="#100000"/><rect x="434.42" y="84.58" width="1.25" height="8.42" fill="#f00"/><rect x="434.42" y="93" width="1.5" height="17.79" fill="#f00"/><rect x="435.62" y="0.6" width="1.2" height="85.42" fill="#f00"/><rect x="434.62" y="13" width="1.0" height="71.58" fill="#980000"/><rect x="442.48" y="6" width="0.96" height="87" fill="#0a0000"/><rect x="441.98" y="25.31" width="1.26" height="39.31" fill="#100000"/><rect x="440.68" y="42.09" width="1" height="12.47" fill="#a00000"/><rect x="439.08" y="85" width="1.25" height="8" fill="#f00"/><rect x="439.08" y="93" width="1.5" height="24.17" fill="#f00"/><rect x="440.28" y="0.6" width="1.2" height="90.62" fill="#f00"/><rect x="439.28" y="13" width="1.0" height="72" fill="#980000"/><rect x="447.14" y="6" width="1.15" height="87" fill="#0a0000"/><rect x="446.64" y="65.69" width="1.5" height="22.49" fill="#100000"/><rect x="443.74" y="85" width="1.25" height="8" fill="#f00"/><rect x="443.74" y="93" width="1.5" height="19.16" fill="#f00"/><rect x="444.94" y="0.6" width="1.2" height="90.92" fill="#f00"/><rect x="443.94" y="13" width="1.0" height="72" fill="#980000"/><rect x="451.3" y="65.96" width="1.02" height="25.04" fill="#100000"/><rect x="448.4" y="80.45" width="1.25" height="12.55" fill="#f00"/><rect x="448.4" y="93" width="1.5" height="25.15" fill="#f00"/><rect x="449.6" y="0.6" width="1.2" height="80.38" fill="#f00"/><rect x="448.6" y="13" width="1.0" height="67.45" fill="#980000"/><rect x="456.46" y="6" width="0.98" height="87" fill="#0a0000"/><rect x="454.66" y="47.47" width="1" height="14.31" fill="#a00000"/><rect x="453.06" y="82.06" width="1.25" height="10.94" fill="#f00"/><rect x="453.06" y="93" width="1.5" height="18.01" fill="#f00"/><rect x="454.26" y="0.6" width="1.2" height="88.82" fill="#f00"/><rect x="453.26" y="13" width="1.0" height="69.06" fill="#980000"/><rect x="461.12" y="6" width="1.15" height="87" fill="#0a0000"/><rect x="460.62" y="22.73" width="1.01" height="25.02" fill="#100000"/><rect x="457.72" y="75.2" width="1.25" height="17.8" fill="#f00"/><rect x="457.72" y="93" width="1.5" height="23.9" fill="#f00"/><rect x="458.92" y="0.6" width="1.2" height="81.77" fill="#f00"/><rect x="457.92" y="13" width="1.0" height="62.2" fill="#980000"/><rect x="465.78" y="6" width="0.96" height="87" fill="#0a0000"/><rect x="465.28" y="50.91" width="1.51" height="34.79" fill="#100000"/><rect x="462.38" y="69.74" width="1.25" height="23.26" fill="#f00"/><rect x="462.38" y="93" width="1.5" height="18.4" fill="#f00"/><rect x="463.58" y="0.6" width="1.2" height="76.2" fill="#f00"/><rect x="462.58" y="13" width="1.0" height="56.74" fill="#980000"/><rect x="469.94" y="39.53" width="1.09" height="51.47" fill="#100000"/><rect x="467.04" y="62.84" width="1.25" height="30.16" fill="#f00"/><rect x="467.04" y="93" width="1.5" height="23.39" fill="#f00"/><rect x="468.24" y="0.6" width="1.2" height="65.12" fill="#f00"/><rect x="467.24" y="13" width="1.0" height="49.84" fill="#980000"/><rect x="475.1" y="6" width="0.99" height="87" fill="#0a0000"/><rect x="474.6" y="23.27" width="1.08" height="60.09" fill="#100000"/><rect x="471.7" y="72.75" width="1.25" height="20.25" fill="#f00"/><rect x="471.7" y="93" width="1.5" height="20.42" fill="#f00"/><rect x="472.9" y="0.6" width="1.2" height="76.84" fill="#f00"/><rect x="471.9" y="13" width="1.0" height="59.75" fill="#980000"/><rect x="479.76" y="6" width="0.9" height="87" fill="#0a0000"/><rect x="479.26" y="28.02" width="1.2" height="48.88" fill="#100000"/><rect x="476.36" y="64.14" width="1.25" height="28.86" fill="#f00"/><rect x="476.36" y="93" width="1.5" height="24.98" fill="#f00"/><rect x="477.56" y="0.6" width="1.2" height="64.6" fill="#f00"/><rect x="476.56" y="13" width="1.0" height="51.14" fill="#980000"/><rect x="484.42" y="6" width="0.91" height="87" fill="#0a0000"/><rect x="483.92" y="37.68" width="1.15" height="20.85" fill="#100000"/><rect x="482.62" y="40.51" width="1" height="27.67" fill="#a00000"/><rect x="481.02" y="47.53" width="1.25" height="45.47" fill="#f00"/><rect x="481.02" y="93" width="1.5" height="16.52" fill="#f00"/><rect x="482.22" y="0.6" width="1.2" height="51.93" fill="#f00"/><rect x="481.22" y="13" width="1.0" height="34.53" fill="#980000"/><rect x="489.08" y="6" width="1.37" height="87" fill="#0a0000"/><rect x="488.58" y="28.02" width="1.35" height="20.27" fill="#100000"/><rect x="485.68" y="47.71" width="1.25" height="45.29" fill="#f00"/><rect x="485.68" y="93" width="1.5" height="24.41" fill="#f00"/><rect x="486.88" y="0.6" width="1.2" height="50.32" fill="#f00"/><rect x="485.88" y="13" width="1.0" height="34.71" fill="#980000"/><rect x="493.74" y="6" width="1.22" height="87" fill="#0a0000"/><rect x="493.24" y="37.47" width="1.21" height="50.51" fill="#100000"/><rect x="490.34" y="37.53" width="1.25" height="55.47" fill="#f00"/><rect x="490.34" y="93" width="1.5" height="19.17" fill="#f00"/><rect x="491.54" y="0.6" width="1.2" height="38.92" fill="#f00"/><rect x="490.54" y="13" width="1.0" height="24.53" fill="#980000"/><rect x="498.4" y="6" width="1.17" height="87" fill="#0a0000"/><rect x="497.9" y="32.17" width="1.45" height="18.21" fill="#100000"/><rect x="496.6" y="39.53" width="1" height="38.23" fill="#a00000"/><rect x="495" y="48.65" width="1.25" height="44.35" fill="#f00"/><rect x="495" y="93" width="1.5" height="21.21" fill="#f00"/><rect x="496.2" y="0.6" width="1.2" height="49.64" fill="#f00"/><rect x="495.2" y="13" width="1.0" height="35.65" fill="#980000"/><rect x="503.06" y="6" width="1.22" height="87" fill="#0a0000"/><rect x="501.26" y="32.28" width="1" height="19.01" fill="#a00000"/><rect x="499.66" y="38.43" width="1.25" height="54.57" fill="#f00"/><rect x="499.66" y="93" width="1.5" height="15.74" fill="#f00"/><rect x="500.86" y="0.6" width="1.2" height="44.95" fill="#f00"/><rect x="499.86" y="13" width="1.0" height="25.43" fill="#980000"/><rect x="507.72" y="6" width="0.9" height="87" fill="#0a0000"/><rect x="504.32" y="40.74" width="1.25" height="52.26" fill="#f00"/><rect x="504.32" y="93" width="1.5" height="22.83" fill="#f00"/><rect x="505.52" y="0.6" width="1.2" height="46.08" fill="#f00"/><rect x="504.52" y="13" width="1.0" height="27.74" fill="#980000"/><rect x="512.38" y="6" width="0.95" height="87" fill="#0a0000"/><rect x="511.88" y="22.82" width="1.42" height="33.45" fill="#100000"/><rect x="508.98" y="32.23" width="1.25" height="60.77" fill="#f00"/><rect x="508.98" y="93" width="1.5" height="19.73" fill="#f00"/><rect x="510.18" y="0.6" width="1.2" height="37.32" fill="#f00"/><rect x="509.18" y="13" width="1.0" height="19.23" fill="#980000"/><rect x="517.04" y="6" width="1.12" height="87" fill="#0a0000"/><rect x="513.64" y="28.48" width="1.25" height="64.52" fill="#f00"/><rect x="513.64" y="93" width="1.5" height="21.83" fill="#f00"/><rect x="514.84" y="0.6" width="1.2" height="33.02" fill="#f00"/><rect x="513.84" y="13" width="1.0" height="15.48" fill="#980000"/><rect x="521.7" y="6" width="1.34" height="87" fill="#0a0000"/><rect x="521.2" y="33.24" width="1.42" height="27.99" fill="#100000"/><rect x="518.3" y="47.22" width="1.25" height="45.78" fill="#f00"/><rect x="518.3" y="93" width="1.5" height="19.23" fill="#f00"/><rect x="519.5" y="0.6" width="1.2" height="49.24" fill="#f00"/><rect x="518.5" y="13" width="1.0" height="34.22" fill="#980000"/><rect x="526.36" y="6" width="1.02" height="87" fill="#0a0000"/><rect x="522.96" y="48.24" width="1.25" height="44.76" fill="#f00"/><rect x="522.96" y="93" width="1.5" height="23.96" fill="#f00"/><rect x="524.16" y="0.6" width="1.2" height="52.96" fill="#f00"/><rect x="523.16" y="13" width="1.0" height="35.24" fill="#980000"/><rect x="531.02" y="6" width="1.32" height="87" fill="#0a0000"/><rect x="530.52" y="61.3" width="1.41" height="29.7" fill="#100000"/><rect x="527.62" y="54.57" width="1.25" height="38.43" fill="#f00"/><rect x="527.62" y="93" width="1.5" height="17.04" fill="#f00"/><rect x="528.82" y="0.6" width="1.2" height="55.66" fill="#f00"/><rect x="527.82" y="13" width="1.0" height="41.57" fill="#980000"/><rect x="535.68" y="6" width="1.36" height="87" fill="#0a0000"/><rect x="535.18" y="22.26" width="1.55" height="20.87" fill="#100000"/><rect x="533.88" y="27.26" width="1" height="10.86" fill="#a00000"/><rect x="532.28" y="50.61" width="1.25" height="42.39" fill="#f00"/><rect x="532.28" y="93" width="1.5" height="20.71" fill="#f00"/><rect x="533.48" y="0.6" width="1.2" height="55.56" fill="#f00"/><rect x="532.48" y="13" width="1.0" height="37.61" fill="#980000"/><rect x="540.34" y="6" width="1.27" height="87" fill="#0a0000"/><rect x="539.84" y="48.75" width="1.47" height="34.99" fill="#100000"/><rect x="536.94" y="55.85" width="1.25" height="37.15" fill="#f00"/><rect x="536.94" y="93" width="1.5" height="19.96" fill="#f00"/><rect x="538.14" y="0.6" width="1.2" height="55.78" fill="#f00"/><rect x="537.14" y="13" width="1.0" height="42.85" fill="#980000"/><rect x="543.2" y="29.17" width="1" height="13.36" fill="#a00000"/><rect x="541.6" y="66.49" width="1.25" height="26.51" fill="#f00"/><rect x="541.6" y="93" width="1.5" height="20.67" fill="#f00"/><rect x="542.8" y="0.6" width="1.2" height="72.67" fill="#f00"/><rect x="541.8" y="13" width="1.0" height="53.49" fill="#980000"/><rect x="549.66" y="6" width="1.31" height="87" fill="#0a0000"/><rect x="549.16" y="34.51" width="0.97" height="20.49" fill="#100000"/><rect x="546.26" y="69.93" width="1.25" height="23.07" fill="#f00"/><rect x="546.26" y="93" width="1.5" height="16.52" fill="#f00"/><rect x="547.46" y="0.6" width="1.2" height="71.88" fill="#f00"/><rect x="546.46" y="13" width="1.0" height="56.93" fill="#980000"/><rect x="554.32" y="6" width="1.03" height="87" fill="#0a0000"/><rect x="553.82" y="54.64" width="1.12" height="35.24" fill="#100000"/><rect x="550.92" y="64.84" width="1.25" height="28.16" fill="#f00"/><rect x="550.92" y="93" width="1.5" height="23.02" fill="#f00"/><rect x="552.12" y="0.6" width="1.2" height="71.05" fill="#f00"/><rect x="551.12" y="13" width="1.0" height="51.84" fill="#980000"/><rect x="558.98" y="6" width="1.11" height="87" fill="#0a0000"/><rect x="558.48" y="57.33" width="1.39" height="33.67" fill="#100000"/><rect x="555.58" y="72.92" width="1.25" height="20.08" fill="#f00"/><rect x="555.58" y="93" width="1.5" height="16.58" fill="#f00"/><rect x="556.78" y="0.6" width="1.2" height="79.22" fill="#f00"/><rect x="555.78" y="13" width="1.0" height="59.92" fill="#980000"/><rect x="563.14" y="21.06" width="1.43" height="26.11" fill="#100000"/><rect x="560.24" y="62.63" width="1.25" height="30.37" fill="#f00"/><rect x="560.24" y="93" width="1.5" height="20.52" fill="#f00"/><rect x="561.44" y="0.6" width="1.2" height="65.96" fill="#f00"/><rect x="560.44" y="13" width="1.0" height="49.63" fill="#980000"/><rect x="568.3" y="6" width="0.99" height="87" fill="#0a0000"/><rect x="567.8" y="37.32" width="1.08" height="53.68" fill="#100000"/><rect x="564.9" y="73.4" width="1.25" height="19.6" fill="#f00"/><rect x="564.9" y="93" width="1.5" height="16.92" fill="#f00"/><rect x="566.1" y="0.6" width="1.2" height="74.52" fill="#f00"/><rect x="565.1" y="13" width="1.0" height="60.4" fill="#980000"/><rect x="572.96" y="6" width="0.95" height="87" fill="#0a0000"/><rect x="572.46" y="24.8" width="1.39" height="58.34" fill="#100000"/><rect x="569.56" y="78.23" width="1.25" height="14.77" fill="#f00"/><rect x="569.56" y="93" width="1.5" height="23.64" fill="#f00"/><rect x="570.76" y="0.6" width="1.2" height="80.47" fill="#f00"/><rect x="569.76" y="13" width="1.0" height="65.23" fill="#980000"/><rect x="577.62" y="6" width="1.35" height="87" fill="#0a0000"/><rect x="577.12" y="62.76" width="1.04" height="16.38" fill="#100000"/><rect x="575.82" y="50.04" width="1" height="25.04" fill="#a00000"/><rect x="574.22" y="69.54" width="1.25" height="23.46" fill="#f00"/><rect x="574.22" y="93" width="1.5" height="17.4" fill="#f00"/><rect x="575.42" y="0.6" width="1.2" height="76.01" fill="#f00"/><rect x="574.42" y="13" width="1.0" height="56.54" fill="#980000"/><rect x="582.28" y="6" width="1.17" height="87" fill="#0a0000"/><rect x="578.88" y="62.66" width="1.25" height="30.34" fill="#f00"/><rect x="578.88" y="93" width="1.5" height="23.73" fill="#f00"/><rect x="580.08" y="0.6" width="1.2" height="64.85" fill="#f00"/><rect x="579.08" y="13" width="1.0" height="49.66" fill="#980000"/><rect x="586.94" y="6" width="1.32" height="87" fill="#0a0000"/><rect x="586.44" y="55.87" width="1.21" height="24.33" fill="#100000"/><rect x="583.54" y="60.82" width="1.25" height="32.18" fill="#f00"/><rect x="583.54" y="93" width="1.5" height="18.4" fill="#f00"/><rect x="584.74" y="0.6" width="1.2" height="61.22" fill="#f00"/><rect x="583.74" y="13" width="1.0" height="47.82" fill="#980000"/><rect x="591.1" y="30" width="1.39" height="31.58" fill="#100000"/><rect x="588.2" y="58.93" width="1.25" height="34.07" fill="#f00"/><rect x="588.2" y="93" width="1.5" height="21.27" fill="#f00"/><rect x="589.4" y="0.6" width="1.2" height="59.58" fill="#f00"/><rect x="588.4" y="13" width="1.0" height="45.93" fill="#980000"/><rect x="596.26" y="6" width="1.16" height="87" fill="#0a0000"/><rect x="595.76" y="36.42" width="1.58" height="25.41" fill="#100000"/><rect x="592.86" y="47.83" width="1.25" height="45.17" fill="#f00"/><rect x="592.86" y="93" width="1.5" height="16.01" fill="#f00"/><rect x="594.06" y="0.6" width="1.2" height="54.92" fill="#f00"/><rect x="593.06" y="13" width="1.0" height="34.83" fill="#980000"/><rect x="600.92" y="6" width="1.39" height="87" fill="#0a0000"/><rect x="597.52" y="37.8" width="1.25" height="55.2" fill="#f00"/><rect x="597.52" y="93" width="1.5" height="22.67" fill="#f00"/><rect x="598.72" y="0.6" width="1.2" height="38.77" fill="#f00"/><rect x="597.72" y="13" width="1.0" height="24.8" fill="#980000"/><rect x="605.58" y="6" width="1" height="87" fill="#0a0000"/><rect x="605.08" y="22.59" width="1.45" height="36.95" fill="#100000"/><rect x="602.18" y="43.9" width="1.25" height="49.1" fill="#f00"/><rect x="602.18" y="93" width="1.5" height="18" fill="#f00"/><rect x="603.38" y="0.6" width="1.2" height="48.36" fill="#f00"/><rect x="602.38" y="13" width="1.0" height="30.9" fill="#980000"/><rect x="610.24" y="6" width="1.2" height="87" fill="#0a0000"/><rect x="609.74" y="55.82" width="1.2" height="35.18" fill="#100000"/><rect x="606.84" y="33" width="1.25" height="60" fill="#f00"/><rect x="606.84" y="93" width="1.5" height="24.25" fill="#f00"/><rect x="608.04" y="0.6" width="1.2" height="35.77" fill="#f00"/><rect x="607.04" y="13" width="1.0" height="20" fill="#980000"/><rect x="614.9" y="6" width="1.34" height="87" fill="#0a0000"/><rect x="611.5" y="23" width="1.25" height="70" fill="#f00"/><rect x="611.5" y="93" width="1.5" height="19.76" fill="#f00"/><rect x="612.7" y="0.6" width="1.2" height="27.84" fill="#f00"/><rect x="611.7" y="13" width="1.0" height="10" fill="#980000"/><rect x="619.56" y="6" width="1.06" height="87" fill="#0a0000"/><rect x="619.06" y="25.6" width="1.45" height="38.08" fill="#100000"/><rect x="616.16" y="25.29" width="1.25" height="67.71" fill="#f00"/><rect x="616.16" y="93" width="1.5" height="23.65" fill="#f00"/><rect x="617.36" y="0.6" width="1.2" height="26.69" fill="#f00"/><rect x="616.36" y="13" width="1.0" height="12.29" fill="#980000"/><rect x="624.22" y="6" width="1.21" height="87" fill="#0a0000"/><rect x="623.72" y="52.74" width="1.03" height="38.26" fill="#100000"/><rect x="620.82" y="23" width="1.25" height="70" fill="#f00"/><rect x="620.82" y="93" width="1.5" height="19.39" fill="#f00"/><rect x="622.02" y="0.6" width="1.2" height="25.51" fill="#f00"/><rect x="621.02" y="13" width="1.0" height="10" fill="#980000"/><rect x="628.38" y="46.54" width="1.45" height="23.85" fill="#100000"/><rect x="625.48" y="23" width="1.25" height="70" fill="#f00"/><rect x="625.48" y="93" width="1.5" height="23.1" fill="#f00"/><rect x="626.68" y="0.6" width="1.2" height="23.21" fill="#f00"/><rect x="625.68" y="13" width="1.0" height="10" fill="#980000"/><rect x="633.54" y="6" width="1.26" height="87" fill="#0a0000"/><rect x="633.04" y="51.05" width="1.27" height="39.95" fill="#100000"/><rect x="631.74" y="51.44" width="1" height="16.3" fill="#a00000"/><rect x="630.14" y="23" width="1.25" height="70" fill="#f00"/><rect x="630.14" y="93" width="1.5" height="18.92" fill="#f00"/><rect x="631.34" y="0.6" width="1.2" height="25.54" fill="#f00"/><rect x="630.34" y="13" width="1.0" height="10" fill="#980000"/><rect x="638.2" y="6" width="1.39" height="87" fill="#0a0000"/><rect x="637.7" y="23.66" width="1.18" height="30.09" fill="#100000"/><rect x="636.4" y="35.56" width="1" height="22.62" fill="#a00000"/><rect x="634.8" y="23" width="1.25" height="70" fill="#f00"/><rect x="634.8" y="93" width="1.5" height="23.99" fill="#f00"/><rect x="636" y="0.6" width="1.2" height="25.22" fill="#f00"/><rect x="635" y="13" width="1.0" height="10" fill="#980000"/><rect x="373.7" y="9" width="1.8" height="84" fill="#8cc4dc" opacity="0.95"/><rect x="391.2" y="9" width="1.8" height="84" fill="#8cc4dc" opacity="0.95"/><rect x="410.2" y="9" width="1.8" height="84" fill="#8cc4dc" opacity="0.95"/><rect x="428.2" y="9" width="1.8" height="84" fill="#8cc4dc" opacity="0.95"/><rect x="447.2" y="9" width="1.8" height="84" fill="#8cc4dc" opacity="0.95"/><rect x="466.2" y="9" width="1.8" height="84" fill="#8cc4dc" opacity="0.95"/><rect x="484.7" y="9" width="1.8" height="84" fill="#8cc4dc" opacity="0.95"/><rect x="517.2" y="9" width="1.8" height="84" fill="#8cc4dc" opacity="0.95"/><rect x="557.2" y="9" width="1.8" height="84" fill="#8cc4dc" opacity="0.95"/><rect x="584.2" y="9" width="1.8" height="84" fill="#8cc4dc" opacity="0.95"/><rect x="594.2" y="9" width="1.8" height="84" fill="#8cc4dc" opacity="0.95"/><rect x="619.2" y="9" width="1.8" height="84" fill="#8cc4dc" opacity="0.95"/><path d="M0,12.61 L1,11.79 L2,12.27 L3,11.62 L4,12.64 L5,11.7 L6,12.06 L7,12.21 L8,11.09 L9,12.05 L10,11.58 L11,12.58 L12,12.68 L13,12.52 L14,12.6 L15,12.61 L16,12.66 L17,11.85 L18,12.62 L19,12.35 L20,12.05 L21,12.51 L22,11.46 L23,11.54 L24,11.68 L25,11.53 L26,12.7 L27,11.13 L28,12.62 L29,12.68 L29,13.97 L28,13.91 L27,14.59 L26,13.9 L25,14.54 L24,13.92 L23,15.31 L22,13.9 L21,15.39 L20,14.6 L19,14.17 L18,14.03 L17,14.01 L16,13.9 L15,14.17 L14,14.1 L13,15.13 L12,15.07 L11,14.37 L10,14.23 L9,15.03 L8,14.08 L7,13.97 L6,14.23 L5,15 L4,13.92 L3,14.12 L2,13.96 L1,15.43 L0,13.97Z" fill="#87ceeb"/><path d="M29,5.72 L30,9.2 L31,5.56 L32,4.45 L33,5.67 L34,4.42 L35,5.05 L36,6.51 L37,6.06 L38,4.55 L39,8.96 L40,9.22 L41,9.29 L42,9.21 L43,7.95 L44,4.78 L45,5.03 L46,7.54 L47,5.03 L48,8.38 L49,9.28 L50,6.99 L51,7.2 L52,3.95 L53,3.3 L54,8.03 L55,9.3 L56,7.08 L57,4.8 L58,8.09 L59,5.78 L60,8.3 L61,7.6 L62,8.88 L63,8.45 L64,8.94 L65,3.39 L66,5.56 L67,8.8 L68,7.37 L69,5.64 L70,6.24 L71,7.65 L72,8.86 L73,9.14 L74,7.2 L75,5.59 L76,7.18 L77,7.06 L78,7.3 L79,9.09 L80,8.18 L81,9.26 L82,9.3 L83,4.17 L84,8.6 L85,5.61 L86,8.98 L87,8.36 L88,8.32 L89,3.92 L90,7.5 L91,9.24 L92,7.45 L93,8.24 L94,8.53 L95,3.87 L96,8.08 L97,9.26 L98,9.09 L99,9.3 L100,6.59 L101,3.5 L102,4.7 L103,9.3 L104,9.02 L105,9.14 L106,5.74 L107,4.87 L108,9.27 L109,6.36 L110,3.94 L111,3.53 L112,9.3 L113,6.87 L114,9.28 L115,6.18 L116,4.8 L117,9.29 L118,7.45 L119,6.65 L120,5.5 L121,6.92 L122,8.38 L123,5.62 L124,5.63 L125,8.88 L126,3.4 L127,5.18 L128,7.22 L129,5.14 L130,8.83 L131,4.49 L132,6.58 L133,4.39 L134,8.91 L135,8.97 L136,7.37 L137,4.49 L138,5.12 L139,4.73 L140,8.94 L141,5.4 L142,4.17 L143,9.27 L144,5.5 L145,5.98 L146,9.04 L147,6.64 L148,9.11 L149,5.97 L150,8.17 L151,5.41 L152,9.05 L153,4.38 L154,7.81 L155,7.35 L156,9.13 L157,6.44 L158,7.52 L159,7.83 L160,9.29 L161,8.58 L162,7.02 L163,9.19 L164,8.7 L165,9.3 L166,3.18 L167,8.02 L168,8.97 L169,8.34 L170,5.81 L171,3.54 L172,9.3 L173,9.15 L174,9.29 L175,4.69 L176,3.75 L177,9.29 L178,8.48 L179,3.6 L180,7.52 L181,3.63 L182,8.5 L183,9.19 L184,3.16 L185,9.3 L186,8.67 L187,4.29 L188,9.29 L189,6.36 L190,3.25 L191,9.21 L192,3.85 L193,8.86 L194,5.9 L195,8.78 L196,9.24 L197,9.18 L198,9.21 L199,9.3 L200,9.13 L201,4 L202,3.92 L203,4.48 L204,8.24 L205,3.99 L206,7.05 L207,8.72 L208,8.07 L209,9.21 L210,9.29 L211,7.6 L212,4.69 L213,8.41 L214,8.95 L215,8.74 L216,7.99 L217,4.3 L218,3.34 L219,4.4 L220,9.1 L221,8.9 L222,9.12 L223,3.17 L224,4.03 L225,8.89 L226,9.29 L227,8.88 L228,9.3 L229,8.71 L230,9.3 L231,7.78 L232,8.3 L233,9.08 L234,9.22 L235,5.78 L236,9.13 L237,9.27 L238,7.97 L239,9.11 L240,6.38 L241,7.39 L242,9.28 L243,8.43 L244,9.29 L245,8.74 L246,4.76 L247,9.3 L248,8.08 L249,8.96 L250,5.13 L251,9.18 L252,7.31 L253,7.82 L254,7.84 L255,6.32 L256,4.75 L257,6.35 L258,5.97 L259,4.67 L260,7.97 L261,7.75 L262,9.3 L263,9.07 L264,9.26 L265,5.29 L266,9.26 L267,9.13 L268,7.27 L269,7.8 L270,9.26 L271,6.29 L272,9.24 L273,7.94 L274,9.24 L275,9.22 L276,4.8 L277,7.47 L278,9.18 L279,3.88 L280,8.37 L281,7.78 L282,3.83 L283,8.72 L284,8.74 L285,3.31 L286,4.19 L287,4.96 L288,7.83 L289,3.92 L290,8.36 L291,8.62 L292,9.28 L293,7.91 L294,9.22 L295,5.72 L296,7.01 L297,4.53 L298,9.3 L299,8.96 L300,8.94 L301,4.04 L302,9 L303,8.31 L304,8.9 L305,6.9 L306,7.31 L307,7.86 L308,8.13 L309,9.21 L310,9.23 L311,8.44 L312,9.02 L313,7.65 L314,7.19 L315,6.87 L316,6.35 L317,7.64 L318,8.12 L319,9.02 L320,7.86 L321,7.37 L322,8.67 L323,9.03 L324,7.99 L325,3.22 L326,5.76 L327,9.28 L328,8.27 L329,8.52 L330,6.12 L331,9.06 L332,6.09 L333,8.73 L334,6.66 L335,4.93 L336,7.83 L337,6.05 L338,8.08 L339,6.37 L340,9.23 L341,9.3 L342,7.37 L343,3.55 L344,8.38 L345,4.67 L346,8.56 L347,8.18 L348,8.88 L349,7.59 L350,8.78 L351,4.93 L352,8.25 L353,8.84 L354,7.45 L355,9.27 L356,8.78 L357,5.06 L358,9.11 L359,4.21 L360,9.29 L361,7.96 L362,5.75 L363,3.07 L364,7.83 L365,8.51 L366,7.31 L367,3.74 L368,7.78 L369,8.58 L370,7.55 L371,4.58 L372,8.02 L373,7.08 L374,8.71 L374,19.85 L373,24.5 L372,19.33 L371,24.07 L370,20.14 L369,19.14 L368,18.34 L367,20.95 L366,18.92 L365,18.95 L364,21.02 L363,19.77 L362,19.9 L361,23.51 L360,20.08 L359,18.3 L358,19.26 L357,24 L356,22.6 L355,23.5 L354,20.2 L353,18.39 L352,18.45 L351,19.66 L350,21.99 L349,19.06 L348,19.09 L347,21.36 L346,19.39 L345,20.39 L344,21.96 L343,20.13 L342,19.65 L341,21.77 L340,22.91 L339,23.44 L338,21.97 L337,21.71 L336,21.51 L335,22.35 L334,20.45 L333,18.93 L332,18.4 L331,24 L330,18.35 L329,19.33 L328,18.31 L327,22.92 L326,18.41 L325,18.73 L324,18.69 L323,20.02 L322,22.81 L321,18.3 L320,19.06 L319,18.53 L318,18.78 L317,20.43 L316,19.44 L315,18.48 L314,20.12 L313,22.56 L312,18.33 L311,18.71 L310,18.72 L309,18.36 L308,19.87 L307,18.65 L306,23.96 L305,18.36 L304,18.76 L303,23.89 L302,19.78 L301,20.49 L300,19.93 L299,20.96 L298,20.65 L297,23.07 L296,22.22 L295,23.72 L294,24.14 L293,18.3 L292,19.29 L291,19.85 L290,20.58 L289,18.59 L288,23.99 L287,18.31 L286,22.29 L285,22.17 L284,19.3 L283,18.57 L282,21.89 L281,19.11 L280,22.56 L279,19.08 L278,22.4 L277,21.59 L276,18.39 L275,20.27 L274,19.16 L273,18.68 L272,19.62 L271,18.31 L270,22.9 L269,21.18 L268,20.16 L267,18.3 L266,21.14 L265,18.3 L264,18.6 L263,18.45 L262,24.11 L261,19.89 L260,19.74 L259,23.94 L258,18.31 L257,19.05 L256,18.81 L255,22.3 L254,18.36 L253,19.36 L252,18.3 L251,19.01 L250,18.99 L249,18.45 L248,22.92 L247,23.38 L246,19.62 L245,22.58 L244,22.24 L243,21.35 L242,21.45 L241,18.49 L240,22.25 L239,20.43 L238,18.66 L237,20.4 L236,18.32 L235,21.26 L234,18.44 L233,20.12 L232,23.4 L231,18.45 L230,22.47 L229,18.38 L228,22.2 L227,24.26 L226,21.39 L225,23.21 L224,18.34 L223,24.52 L222,18.98 L221,18.62 L220,19.53 L219,20.88 L218,18.31 L217,18.35 L216,18.8 L215,18.42 L214,22.55 L213,18.4 L212,18.64 L211,18.39 L210,21.28 L209,18.53 L208,20.55 L207,22.37 L206,19.39 L205,22.58 L204,18.34 L203,18.38 L202,22.86 L201,18.52 L200,18.3 L199,21.31 L198,20.96 L197,18.57 L196,19.55 L195,18.61 L194,18.34 L193,20.27 L192,20.95 L191,21.67 L190,18.31 L189,20.7 L188,21.98 L187,22.53 L186,23.29 L185,18.61 L184,18.53 L183,24.09 L182,19.37 L181,20.89 L180,20.65 L179,18.62 L178,18.36 L177,20.32 L176,23.38 L175,19.42 L174,20.03 L173,18.33 L172,18.48 L171,18.61 L170,22.33 L169,23.84 L168,21.91 L167,20.1 L166,22.86 L165,18.3 L164,19.78 L163,20.31 L162,21.99 L161,18.34 L160,24.51 L159,18.39 L158,19.14 L157,18.97 L156,18.44 L155,18.46 L154,19.52 L153,23.08 L152,20.18 L151,21.84 L150,18.33 L149,22.04 L148,18.61 L147,19.46 L146,20.38 L145,23.65 L144,18.48 L143,20 L142,18.91 L141,21.02 L140,22.68 L139,20.13 L138,22.25 L137,18.31 L136,22.3 L135,19.24 L134,18.3 L133,22.2 L132,20.34 L131,19.03 L130,19.27 L129,20.34 L128,24.24 L127,18.85 L126,21.18 L125,18.31 L124,20.09 L123,23.82 L122,19.07 L121,20.56 L120,18.97 L119,18.39 L118,19.32 L117,18.99 L116,19.58 L115,18.42 L114,18.78 L113,22.31 L112,18.3 L111,21.31 L110,18.61 L109,19.44 L108,20.55 L107,21.42 L106,21.27 L105,18.31 L104,21.46 L103,21.33 L102,18.37 L101,18.33 L100,18.36 L99,18.3 L98,18.4 L97,20.68 L96,19.19 L95,24.29 L94,20.27 L93,18.3 L92,23.49 L91,22.23 L90,18.31 L89,18.31 L88,20.66 L87,18.8 L86,18.75 L85,20.06 L84,22.37 L83,20.77 L82,21.86 L81,18.45 L80,21.74 L79,20.86 L78,20.98 L77,21.12 L76,20.46 L75,23.38 L74,20.79 L73,23.52 L72,18.3 L71,18.31 L70,23.08 L69,18.31 L68,20.6 L67,18.74 L66,18.85 L65,20.76 L64,19.7 L63,19.68 L62,22.42 L61,22.41 L60,19.24 L59,18.5 L58,19.82 L57,18.99 L56,18.88 L55,21.32 L54,23.23 L53,19.72 L52,18.85 L51,21 L50,18.3 L49,20.62 L48,24.02 L47,19.02 L46,20.85 L45,19.48 L44,18.3 L43,19.91 L42,19.61 L41,19.47 L40,19.62 L39,18.56 L38,20.01 L37,19.32 L36,19.85 L35,18.48 L34,22 L33,20.88 L32,20.39 L31,18.42 L30,23.31 L29,18.91Z" fill="#87ceeb"/><path d="M375,79.21 L376,83.4 L377,79.07 L378,83.94 L379,80.69 L380,76.66 L381,82.88 L382,83.51 L383,82.33 L384,83.82 L385,81.53 L386,76.6 L387,83.99 L388,79.56 L389,80.68 L390,83.45 L391,81.68 L391,94.09 L390,96.14 L389,91 L388,91.56 L387,92.06 L386,93.78 L385,91.76 L384,93.71 L383,91.19 L382,92.72 L381,91.13 L380,96.78 L379,95.85 L378,96.87 L377,92.72 L376,98.15 L375,91.15Z" fill="#87ceeb"/><path d="M392.5,8.33 L393.5,6.8 L394.5,6.1 L395.5,2.29 L396.5,7.62 L397.5,8.39 L398.5,8.45 L399.5,8.37 L400.5,4.43 L401.5,4.6 L402.5,8.5 L403.5,7.98 L404.5,7.86 L405.5,8.16 L406.5,3.5 L407.5,7.88 L408.5,7.73 L409.5,3.66 L410.5,2.79 L410.5,18.52 L409.5,19.4 L408.5,17.51 L407.5,18.58 L406.5,19.4 L405.5,17.54 L404.5,17.63 L403.5,20.49 L402.5,21.02 L401.5,17.51 L400.5,19.63 L399.5,19 L398.5,17.54 L397.5,20.91 L396.5,17.56 L395.5,19.35 L394.5,19.06 L393.5,17.84 L392.5,18.85Z" fill="#87ceeb"/><path d="M411.5,81.38 L412.5,83.99 L413.5,78.69 L414.5,78.07 L415.5,83.46 L416.5,77.14 L417.5,77.3 L418.5,83.06 L419.5,83.73 L420.5,78.4 L421.5,79.5 L422.5,83.84 L423.5,83.81 L424.5,83.5 L425.5,83.94 L426.5,83.08 L427.5,83.98 L428.5,79.08 L428.5,91.75 L427.5,91.08 L426.5,92.02 L425.5,92.88 L424.5,93.11 L423.5,98.04 L422.5,91.78 L421.5,91.33 L420.5,92.52 L419.5,91.57 L418.5,94.62 L417.5,91.33 L416.5,92.6 L415.5,93.46 L414.5,95.79 L413.5,91.59 L412.5,97.41 L411.5,91.35Z" fill="#87ceeb"/><path d="M429.5,8.22 L430.5,8.11 L431.5,8.5 L432.5,7.91 L433.5,5.6 L434.5,8.15 L435.5,8.43 L436.5,4.28 L437.5,8.39 L438.5,5.44 L439.5,2.81 L440.5,2.9 L441.5,8.26 L442.5,8.43 L443.5,8.18 L444.5,6.56 L445.5,8.21 L446.5,8.29 L447.5,8.44 L447.5,18.94 L446.5,22.13 L445.5,19.59 L444.5,18.19 L443.5,22.45 L442.5,20.41 L441.5,18.59 L440.5,18.89 L439.5,17.7 L438.5,18.23 L437.5,18.13 L436.5,21.38 L435.5,18.54 L434.5,21.7 L433.5,17.53 L432.5,17.6 L431.5,20.04 L430.5,17.76 L429.5,17.66Z" fill="#87ceeb"/><path d="M448.5,82.05 L449.5,79.76 L450.5,81.02 L451.5,83.43 L452.5,83.97 L453.5,78.74 L454.5,80.97 L455.5,81.89 L456.5,82.37 L457.5,83.98 L458.5,83.71 L459.5,80.4 L460.5,82.98 L461.5,79.72 L462.5,78.6 L463.5,83.56 L464.5,80.79 L465.5,83.25 L466.5,81 L466.5,94.41 L465.5,92.07 L464.5,94.04 L463.5,91 L462.5,91.09 L461.5,96.7 L460.5,97.08 L459.5,91.46 L458.5,91.08 L457.5,91.58 L456.5,91.52 L455.5,91.8 L454.5,91.06 L453.5,91.62 L452.5,91.17 L451.5,91.94 L450.5,93.16 L449.5,91.92 L448.5,91.42Z" fill="#87ceeb"/><path d="M467.5,8.21 L468.5,7.87 L469.5,8.35 L470.5,3.39 L471.5,5.53 L472.5,8.49 L473.5,8.32 L474.5,7.75 L475.5,8.02 L476.5,8.36 L477.5,6.68 L478.5,8.19 L479.5,5.79 L480.5,8.5 L481.5,4.92 L482.5,8.49 L483.5,6.41 L484.5,8.22 L484.5,17.55 L483.5,17.51 L482.5,21.92 L481.5,17.9 L480.5,21.7 L479.5,18.12 L478.5,18.5 L477.5,20.5 L476.5,21.75 L475.5,19.83 L474.5,17.51 L473.5,17.95 L472.5,17.61 L471.5,17.51 L470.5,20.67 L469.5,17.55 L468.5,19.75 L467.5,21.83Z" fill="#87ceeb"/><path d="M486,79.52 L487,77.84 L488,83.97 L489,83.04 L490,79.04 L491,83.96 L492,82.86 L493,80.67 L494,79.02 L495,82.69 L496,80.6 L497,82.28 L498,83.92 L499,83.99 L500,79.34 L501,82.02 L502,81.21 L503,83.65 L504,83.22 L505,83.78 L506,83.91 L507,80.89 L508,83.67 L509,82.74 L510,83.25 L511,78.27 L512,81.88 L513,79.21 L514,79.89 L515,80.93 L516,82.63 L517,79.01 L517,91.06 L516,95.17 L515,93.43 L514,91.15 L513,93 L512,91.67 L511,91.1 L510,91.53 L509,97.48 L508,92.74 L507,91.32 L506,94.5 L505,91.57 L504,92.06 L503,91.02 L502,92.96 L501,98 L500,91.39 L499,94.45 L498,95.12 L497,97.37 L496,92.16 L495,91.01 L494,93.7 L493,94.85 L492,97.4 L491,97.64 L490,91.46 L489,94.95 L488,94.36 L487,94.98 L486,91.24Z" fill="#87ceeb"/><path d="M518.5,8.09 L519.5,8.31 L520.5,8.12 L521.5,5.63 L522.5,8.45 L523.5,7.32 L524.5,8.38 L525.5,8.5 L526.5,5.18 L527.5,5.49 L528.5,6.73 L529.5,7.21 L530.5,8.34 L531.5,8.5 L532.5,6.12 L533.5,3.11 L534.5,8.2 L535.5,8.42 L536.5,4.94 L537.5,8.07 L538.5,6.17 L539.5,3.21 L540.5,4.83 L541.5,5.26 L542.5,8.35 L543.5,7.99 L544.5,6.81 L545.5,4.34 L546.5,8.49 L547.5,6.25 L548.5,5.6 L549.5,2.98 L550.5,7.14 L551.5,8.06 L552.5,8.48 L553.5,8.38 L554.5,2.66 L555.5,8.49 L556.5,8.34 L557.5,8.5 L557.5,21.77 L556.5,20.56 L555.5,18.52 L554.5,17.53 L553.5,18.54 L552.5,20.25 L551.5,19.39 L550.5,17.61 L549.5,18.83 L548.5,22.52 L547.5,21.54 L546.5,19.29 L545.5,17.77 L544.5,18.2 L543.5,18.2 L542.5,21.6 L541.5,18.03 L540.5,21.65 L539.5,17.62 L538.5,21.82 L537.5,17.65 L536.5,21.75 L535.5,17.5 L534.5,17.79 L533.5,19.94 L532.5,19.74 L531.5,22.7 L530.5,19.13 L529.5,18.5 L528.5,17.55 L527.5,23.48 L526.5,17.53 L525.5,23.64 L524.5,17.52 L523.5,18.17 L522.5,18.03 L521.5,18.57 L520.5,17.68 L519.5,17.51 L518.5,18.16Z" fill="#87ceeb"/><path d="M558.5,78.68 L559.5,82.86 L560.5,80.98 L561.5,82.88 L562.5,82.78 L563.5,79.07 L564.5,83.86 L565.5,82.75 L566.5,83.26 L567.5,83.97 L568.5,82.64 L569.5,77.92 L570.5,76.92 L571.5,81.38 L572.5,83.98 L573.5,81.48 L574.5,81.81 L575.5,82.5 L576.5,83.47 L577.5,78.27 L578.5,83.81 L579.5,82.72 L580.5,80.99 L581.5,81.73 L582.5,82.14 L583.5,83.02 L584.5,83.83 L584.5,96.8 L583.5,91.06 L582.5,93.13 L581.5,92.09 L580.5,91.85 L579.5,91.03 L578.5,94.2 L577.5,91 L576.5,91.71 L575.5,93.88 L574.5,97.74 L573.5,91.52 L572.5,94.17 L571.5,95.73 L570.5,97.88 L569.5,96.46 L568.5,98.03 L567.5,91.63 L566.5,91.21 L565.5,93.12 L564.5,91.51 L563.5,97.01 L562.5,94.07 L561.5,91.69 L560.5,92.74 L559.5,91.47 L558.5,95.43Z" fill="#87ceeb"/><path d="M585.5,6.84 L586.5,3.99 L587.5,8.46 L588.5,8.2 L589.5,6.8 L590.5,6.67 L591.5,7.06 L592.5,8.48 L593.5,8.48 L594.5,3.97 L594.5,19.18 L593.5,18.52 L592.5,18.37 L591.5,19.45 L590.5,17.55 L589.5,17.74 L588.5,18.8 L587.5,19.05 L586.5,17.81 L585.5,17.55Z" fill="#87ceeb"/><path d="M595.5,80.42 L596.5,83.94 L597.5,80.34 L598.5,79.02 L599.5,83.85 L600.5,81.88 L601.5,83.91 L602.5,83.99 L603.5,83.15 L604.5,81.61 L605.5,83.47 L606.5,82.85 L607.5,81.37 L608.5,81.88 L609.5,78.47 L610.5,80.07 L611.5,79.86 L612.5,79.08 L613.5,83.14 L614.5,77.33 L615.5,83.99 L616.5,83.95 L617.5,79.37 L618.5,77.68 L619.5,83.63 L619.5,91.2 L618.5,94.16 L617.5,91.06 L616.5,93 L615.5,93.47 L614.5,94.66 L613.5,94.84 L612.5,91.07 L611.5,94.22 L610.5,91.71 L609.5,91.15 L608.5,97.21 L607.5,96.55 L606.5,96.78 L605.5,94.5 L604.5,91.25 L603.5,91 L602.5,91.32 L601.5,95.29 L600.5,95.28 L599.5,97.86 L598.5,91.96 L597.5,91.05 L596.5,98.35 L595.5,95.06Z" fill="#87ceeb"/><path d="M620.5,7.44 L621.5,6.6 L622.5,8.5 L623.5,4.67 L624.5,6.79 L625.5,5.76 L626.5,8.41 L627.5,6.9 L628.5,4.59 L629.5,8.5 L630.5,8.4 L631.5,3.86 L632.5,8.5 L633.5,4.48 L634.5,7.7 L635.5,8.39 L636.5,7.7 L637.5,6.39 L637.5,17.52 L636.5,22.14 L635.5,21.82 L634.5,18.72 L633.5,20.17 L632.5,17.65 L631.5,21.33 L630.5,18.87 L629.5,18.09 L628.5,23.07 L627.5,20.26 L626.5,22.16 L625.5,18.25 L624.5,17.91 L623.5,17.65 L622.5,17.55 L621.5,17.55 L620.5,21.74Z" fill="#87ceeb"/><rect x="29" y="7.68" width="1.1" height="7.36" fill="#f02828" opacity="0.8"/><rect x="31.33" y="6.89" width="1.1" height="4.17" fill="#f02828" opacity="0.8"/><rect x="32.83" y="14.23" width="1" height="3.55" fill="#3c5868" opacity="0.8"/><rect x="33.66" y="4.1" width="1.1" height="5.47" fill="#f02828" opacity="0.8"/><rect x="35.16" y="5.33" width="1" height="3.84" fill="#3c5868" opacity="0.8"/><rect x="37.49" y="7.33" width="1" height="4.68" fill="#3c5868" opacity="0.8"/><rect x="38.32" y="8.65" width="1.1" height="5" fill="#f02828" opacity="0.8"/><rect x="39.82" y="14.1" width="1" height="4.11" fill="#3c5868" opacity="0.8"/><rect x="42.98" y="13.53" width="1.1" height="6.63" fill="#f02828" opacity="0.8"/><rect x="45.31" y="14.76" width="1.1" height="5.81" fill="#f02828" opacity="0.8"/><rect x="46.81" y="9.51" width="1" height="5.18" fill="#3c5868" opacity="0.8"/><rect x="49.97" y="9.17" width="1.1" height="6.58" fill="#f02828" opacity="0.8"/><rect x="52.3" y="14.8" width="1.1" height="4.1" fill="#f02828" opacity="0.8"/><rect x="54.63" y="5.03" width="1.1" height="4.02" fill="#f02828" opacity="0.8"/><rect x="56.13" y="20.81" width="1" height="3.93" fill="#3c5868" opacity="0.8"/><rect x="56.96" y="8.14" width="1.1" height="3.41" fill="#f02828" opacity="0.8"/><rect x="58.46" y="7.17" width="1" height="2.03" fill="#3c5868" opacity="0.8"/><rect x="60.79" y="12.13" width="1" height="4.27" fill="#3c5868" opacity="0.8"/><rect x="61.62" y="6.87" width="1.1" height="2.4" fill="#f02828" opacity="0.8"/><rect x="63.12" y="9.94" width="1" height="4.91" fill="#3c5868" opacity="0.8"/><rect x="63.95" y="19.94" width="1.1" height="4.04" fill="#f02828" opacity="0.8"/><rect x="66.28" y="5.36" width="1.1" height="3.07" fill="#f02828" opacity="0.8"/><rect x="70.11" y="17.39" width="1" height="3.71" fill="#3c5868" opacity="0.8"/><rect x="72.44" y="12.75" width="1" height="5.6" fill="#3c5868" opacity="0.8"/><rect x="73.27" y="8.38" width="1.1" height="2.14" fill="#f02828" opacity="0.8"/><rect x="74.77" y="9.29" width="1" height="4.82" fill="#3c5868" opacity="0.8"/><rect x="75.6" y="10.79" width="1.1" height="3.2" fill="#f02828" opacity="0.8"/><rect x="80.26" y="16.48" width="1.1" height="7.78" fill="#f02828" opacity="0.8"/><rect x="82.59" y="17.76" width="1.1" height="7.25" fill="#f02828" opacity="0.8"/><rect x="84.09" y="7.19" width="1" height="2.75" fill="#3c5868" opacity="0.8"/><rect x="84.92" y="18.88" width="1.1" height="5.84" fill="#f02828" opacity="0.8"/><rect x="87.25" y="9.55" width="1.1" height="6.5" fill="#f02828" opacity="0.8"/><rect x="89.58" y="15.54" width="1.1" height="4.03" fill="#f02828" opacity="0.8"/><rect x="91.08" y="11.63" width="1" height="2.18" fill="#3c5868" opacity="0.8"/><rect x="91.91" y="9.69" width="1.1" height="4.97" fill="#f02828" opacity="0.8"/><rect x="94.24" y="11.88" width="1.1" height="2.08" fill="#f02828" opacity="0.8"/><rect x="96.57" y="20.79" width="1.1" height="2.34" fill="#f02828" opacity="0.8"/><rect x="98.9" y="9.6" width="1.1" height="2.56" fill="#f02828" opacity="0.8"/><rect x="100.4" y="7.28" width="1" height="5.07" fill="#3c5868" opacity="0.8"/><rect x="101.23" y="17.84" width="1.1" height="4.54" fill="#f02828" opacity="0.8"/><rect x="103.56" y="13.43" width="1.1" height="5.94" fill="#f02828" opacity="0.8"/><rect x="105.89" y="16.6" width="1.1" height="3.55" fill="#f02828" opacity="0.8"/><rect x="108.22" y="17.19" width="1.1" height="3.86" fill="#f02828" opacity="0.8"/><rect x="112.05" y="9.45" width="1" height="4.09" fill="#3c5868" opacity="0.8"/><rect x="114.38" y="5.14" width="1" height="3.9" fill="#3c5868" opacity="0.8"/><rect x="115.21" y="17.16" width="1.1" height="4.17" fill="#f02828" opacity="0.8"/><rect x="117.54" y="16.86" width="1.1" height="2.54" fill="#f02828" opacity="0.8"/><rect x="119.04" y="7.15" width="1" height="2.24" fill="#3c5868" opacity="0.8"/><rect x="119.87" y="13.44" width="1.1" height="3.09" fill="#f02828" opacity="0.8"/><rect x="122.2" y="6.54" width="1.1" height="3.06" fill="#f02828" opacity="0.8"/><rect x="126.03" y="5.46" width="1" height="5.11" fill="#3c5868" opacity="0.8"/><rect x="126.86" y="20.7" width="1.1" height="4.99" fill="#f02828" opacity="0.8"/><rect x="129.19" y="17.61" width="1.1" height="4.76" fill="#f02828" opacity="0.8"/><rect x="130.69" y="19.46" width="1" height="2.43" fill="#3c5868" opacity="0.8"/><rect x="131.52" y="5.11" width="1.1" height="5.87" fill="#f02828" opacity="0.8"/><rect x="133.02" y="18.82" width="1" height="2.24" fill="#3c5868" opacity="0.8"/><rect x="133.85" y="10.97" width="1.1" height="7.51" fill="#f02828" opacity="0.8"/><rect x="136.18" y="7.81" width="1.1" height="3.51" fill="#f02828" opacity="0.8"/><rect x="137.68" y="11.94" width="1" height="2.93" fill="#3c5868" opacity="0.8"/><rect x="138.51" y="16.91" width="1.1" height="5.86" fill="#f02828" opacity="0.8"/><rect x="140.01" y="20.91" width="1" height="2.87" fill="#3c5868" opacity="0.8"/><rect x="140.84" y="6.66" width="1.1" height="7.18" fill="#f02828" opacity="0.8"/><rect x="143.17" y="16.78" width="1.1" height="6.94" fill="#f02828" opacity="0.8"/><rect x="144.67" y="10.3" width="1" height="3.94" fill="#3c5868" opacity="0.8"/><rect x="147" y="15.92" width="1" height="4.39" fill="#3c5868" opacity="0.8"/><rect x="147.83" y="13.85" width="1.1" height="7.3" fill="#f02828" opacity="0.8"/><rect x="149.33" y="19.14" width="1" height="3.44" fill="#3c5868" opacity="0.8"/><rect x="150.16" y="18.68" width="1.1" height="3.09" fill="#f02828" opacity="0.8"/><rect x="153.99" y="5.39" width="1" height="2.45" fill="#3c5868" opacity="0.8"/><rect x="156.32" y="19.59" width="1" height="2.6" fill="#3c5868" opacity="0.8"/><rect x="157.15" y="5.66" width="1.1" height="3.01" fill="#f02828" opacity="0.8"/><rect x="159.48" y="9.77" width="1.1" height="7.51" fill="#f02828" opacity="0.8"/><rect x="164.14" y="7.99" width="1.1" height="6.75" fill="#f02828" opacity="0.8"/><rect x="166.47" y="12.58" width="1.1" height="3.39" fill="#f02828" opacity="0.8"/><rect x="167.97" y="6.68" width="1" height="2.08" fill="#3c5868" opacity="0.8"/><rect x="170.3" y="19.06" width="1" height="2.48" fill="#3c5868" opacity="0.8"/><rect x="171.13" y="6.31" width="1.1" height="4.57" fill="#f02828" opacity="0.8"/><rect x="172.63" y="15.97" width="1" height="2.59" fill="#3c5868" opacity="0.8"/><rect x="173.46" y="12.51" width="1.1" height="2.67" fill="#f02828" opacity="0.8"/><rect x="174.96" y="12.94" width="1" height="5.67" fill="#3c5868" opacity="0.8"/><rect x="175.79" y="7.66" width="1.1" height="7.81" fill="#f02828" opacity="0.8"/><rect x="178.12" y="8.64" width="1.1" height="3.06" fill="#f02828" opacity="0.8"/><rect x="179.62" y="6.1" width="1" height="2.17" fill="#3c5868" opacity="0.8"/><rect x="180.45" y="10.94" width="1.1" height="5.34" fill="#f02828" opacity="0.8"/><rect x="181.95" y="5.17" width="1" height="4.75" fill="#3c5868" opacity="0.8"/><rect x="182.78" y="13.25" width="1.1" height="5.29" fill="#f02828" opacity="0.8"/><rect x="187.44" y="10.79" width="1.1" height="3.91" fill="#f02828" opacity="0.8"/><rect x="188.94" y="20.57" width="1" height="3.55" fill="#3c5868" opacity="0.8"/><rect x="189.77" y="10.97" width="1.1" height="2.86" fill="#f02828" opacity="0.8"/><rect x="192.1" y="14.33" width="1.1" height="7.56" fill="#f02828" opacity="0.8"/><rect x="193.6" y="14.77" width="1" height="3.51" fill="#3c5868" opacity="0.8"/><rect x="194.43" y="7.37" width="1.1" height="2.7" fill="#f02828" opacity="0.8"/><rect x="196.76" y="19.44" width="1.1" height="2.3" fill="#f02828" opacity="0.8"/><rect x="199.09" y="14.99" width="1.1" height="5.29" fill="#f02828" opacity="0.8"/><rect x="200.59" y="20.55" width="1" height="2" fill="#3c5868" opacity="0.8"/><rect x="201.42" y="18.51" width="1.1" height="5.06" fill="#f02828" opacity="0.8"/><rect x="205.25" y="15.07" width="1" height="4.97" fill="#3c5868" opacity="0.8"/><rect x="206.08" y="16.11" width="1.1" height="4.36" fill="#f02828" opacity="0.8"/><rect x="208.41" y="15.51" width="1.1" height="3.93" fill="#f02828" opacity="0.8"/><rect x="210.74" y="7.8" width="1.1" height="5.68" fill="#f02828" opacity="0.8"/><rect x="212.24" y="19.54" width="1" height="3.89" fill="#3c5868" opacity="0.8"/><rect x="213.07" y="12.87" width="1.1" height="4.86" fill="#f02828" opacity="0.8"/><rect x="214.57" y="7.27" width="1" height="5.71" fill="#3c5868" opacity="0.8"/><rect x="215.4" y="12.91" width="1.1" height="5.16" fill="#f02828" opacity="0.8"/><rect x="217.73" y="6.93" width="1.1" height="6.93" fill="#f02828" opacity="0.8"/><rect x="219.23" y="15.25" width="1" height="5.31" fill="#3c5868" opacity="0.8"/><rect x="222.39" y="10.48" width="1.1" height="6.99" fill="#f02828" opacity="0.8"/><rect x="224.72" y="6.62" width="1.1" height="3.51" fill="#f02828" opacity="0.8"/><rect x="226.22" y="10.71" width="1" height="5.21" fill="#3c5868" opacity="0.8"/><rect x="227.05" y="11.7" width="1.1" height="2.53" fill="#f02828" opacity="0.8"/><rect x="228.55" y="20.95" width="1" height="4.78" fill="#3c5868" opacity="0.8"/><rect x="229.38" y="12.13" width="1.1" height="6.79" fill="#f02828" opacity="0.8"/><rect x="231.71" y="15.56" width="1.1" height="4.2" fill="#f02828" opacity="0.8"/><rect x="234.04" y="10.3" width="1.1" height="4.04" fill="#f02828" opacity="0.8"/><rect x="235.54" y="5.28" width="1" height="2.8" fill="#3c5868" opacity="0.8"/><rect x="236.37" y="4.98" width="1.1" height="3.07" fill="#f02828" opacity="0.8"/><rect x="238.7" y="9.51" width="1.1" height="3.45" fill="#f02828" opacity="0.8"/><rect x="241.03" y="14.81" width="1.1" height="7.15" fill="#f02828" opacity="0.8"/><rect x="242.53" y="11.77" width="1" height="5.17" fill="#3c5868" opacity="0.8"/><rect x="243.36" y="10.32" width="1.1" height="2.26" fill="#f02828" opacity="0.8"/><rect x="244.86" y="10.87" width="1" height="4.85" fill="#3c5868" opacity="0.8"/><rect x="245.69" y="10.93" width="1.1" height="5.89" fill="#f02828" opacity="0.8"/><rect x="248.02" y="10.55" width="1.1" height="5.47" fill="#f02828" opacity="0.8"/><rect x="250.35" y="20.51" width="1.1" height="6.27" fill="#f02828" opacity="0.8"/><rect x="251.85" y="15.65" width="1" height="3.32" fill="#3c5868" opacity="0.8"/><rect x="252.68" y="16.85" width="1.1" height="4.28" fill="#f02828" opacity="0.8"/><rect x="255.01" y="19.32" width="1.1" height="6.54" fill="#f02828" opacity="0.8"/><rect x="256.51" y="14.48" width="1" height="3.85" fill="#3c5868" opacity="0.8"/><rect x="257.34" y="18.27" width="1.1" height="4.49" fill="#f02828" opacity="0.8"/><rect x="258.84" y="19.25" width="1" height="3.76" fill="#3c5868" opacity="0.8"/><rect x="259.67" y="12.7" width="1.1" height="6.95" fill="#f02828" opacity="0.8"/><rect x="262" y="10.83" width="1.1" height="2.24" fill="#f02828" opacity="0.8"/><rect x="264.33" y="17.08" width="1.1" height="6.62" fill="#f02828" opacity="0.8"/><rect x="265.83" y="8.53" width="1" height="2.31" fill="#3c5868" opacity="0.8"/><rect x="268.16" y="6.41" width="1" height="5.01" fill="#3c5868" opacity="0.8"/><rect x="268.99" y="4.94" width="1.1" height="6.09" fill="#f02828" opacity="0.8"/><rect x="271.32" y="4.93" width="1.1" height="6.15" fill="#f02828" opacity="0.8"/><rect x="272.82" y="14.34" width="1" height="5.99" fill="#3c5868" opacity="0.8"/><rect x="275.98" y="9.68" width="1.1" height="5.11" fill="#f02828" opacity="0.8"/><rect x="277.48" y="20.82" width="1" height="3.1" fill="#3c5868" opacity="0.8"/><rect x="278.31" y="9.32" width="1.1" height="3.53" fill="#f02828" opacity="0.8"/><rect x="280.64" y="12.69" width="1.1" height="4.52" fill="#f02828" opacity="0.8"/><rect x="282.14" y="9.87" width="1" height="5.47" fill="#3c5868" opacity="0.8"/><rect x="285.3" y="7.43" width="1.1" height="2.31" fill="#f02828" opacity="0.8"/><rect x="287.63" y="11.89" width="1.1" height="4.93" fill="#f02828" opacity="0.8"/><rect x="289.96" y="17.62" width="1.1" height="3.2" fill="#f02828" opacity="0.8"/><rect x="292.29" y="4.87" width="1.1" height="3.89" fill="#f02828" opacity="0.8"/><rect x="294.62" y="13.6" width="1.1" height="3.94" fill="#f02828" opacity="0.8"/><rect x="296.12" y="17.74" width="1" height="3.17" fill="#3c5868" opacity="0.8"/><rect x="296.95" y="17.64" width="1.1" height="5.55" fill="#f02828" opacity="0.8"/><rect x="298.45" y="19.96" width="1" height="3.78" fill="#3c5868" opacity="0.8"/><rect x="300.78" y="11.94" width="1" height="4.56" fill="#3c5868" opacity="0.8"/><rect x="301.61" y="18.66" width="1.1" height="2.43" fill="#f02828" opacity="0.8"/><rect x="303.94" y="19.68" width="1.1" height="5.37" fill="#f02828" opacity="0.8"/><rect x="306.27" y="15.46" width="1.1" height="6.05" fill="#f02828" opacity="0.8"/><rect x="307.77" y="8.38" width="1" height="5.35" fill="#3c5868" opacity="0.8"/><rect x="308.6" y="19.6" width="1.1" height="3.24" fill="#f02828" opacity="0.8"/><rect x="310.1" y="6.52" width="1" height="5.14" fill="#3c5868" opacity="0.8"/><rect x="312.43" y="15.54" width="1" height="3.03" fill="#3c5868" opacity="0.8"/><rect x="315.59" y="4.96" width="1.1" height="6.17" fill="#f02828" opacity="0.8"/><rect x="317.09" y="18.38" width="1" height="3.17" fill="#3c5868" opacity="0.8"/><rect x="317.92" y="13.89" width="1.1" height="3.91" fill="#f02828" opacity="0.8"/><rect x="320.25" y="19.5" width="1.1" height="3.95" fill="#f02828" opacity="0.8"/><rect x="322.58" y="17.59" width="1.1" height="7.88" fill="#f02828" opacity="0.8"/><rect x="324.08" y="5.53" width="1" height="3.52" fill="#3c5868" opacity="0.8"/><rect x="324.91" y="7.8" width="1.1" height="5.27" fill="#f02828" opacity="0.8"/><rect x="326.41" y="12.43" width="1" height="4.91" fill="#3c5868" opacity="0.8"/><rect x="327.24" y="15.54" width="1.1" height="2.69" fill="#f02828" opacity="0.8"/><rect x="329.57" y="19.7" width="1.1" height="7.98" fill="#f02828" opacity="0.8"/><rect x="331.9" y="8.94" width="1.1" height="4.09" fill="#f02828" opacity="0.8"/><rect x="334.23" y="19.81" width="1.1" height="2.56" fill="#f02828" opacity="0.8"/><rect x="335.73" y="18.82" width="1" height="4.39" fill="#3c5868" opacity="0.8"/><rect x="336.56" y="5.5" width="1.1" height="2.84" fill="#f02828" opacity="0.8"/><rect x="338.06" y="19.29" width="1" height="5.38" fill="#3c5868" opacity="0.8"/><rect x="338.89" y="19.72" width="1.1" height="2.19" fill="#f02828" opacity="0.8"/><rect x="342.72" y="20.11" width="1" height="4.63" fill="#3c5868" opacity="0.8"/><rect x="343.55" y="9.66" width="1.1" height="4.7" fill="#f02828" opacity="0.8"/><rect x="345.05" y="16.88" width="1" height="2.72" fill="#3c5868" opacity="0.8"/><rect x="345.88" y="9.07" width="1.1" height="2.42" fill="#f02828" opacity="0.8"/><rect x="348.21" y="13.38" width="1.1" height="6.73" fill="#f02828" opacity="0.8"/><rect x="350.54" y="4.57" width="1.1" height="5.08" fill="#f02828" opacity="0.8"/><rect x="352.04" y="15.35" width="1" height="2.53" fill="#3c5868" opacity="0.8"/><rect x="352.87" y="10" width="1.1" height="4.25" fill="#f02828" opacity="0.8"/><rect x="355.2" y="6.88" width="1.1" height="7.65" fill="#f02828" opacity="0.8"/><rect x="356.7" y="18.48" width="1" height="5.49" fill="#3c5868" opacity="0.8"/><rect x="357.53" y="6.53" width="1.1" height="2.56" fill="#f02828" opacity="0.8"/><rect x="359.86" y="12.43" width="1.1" height="5.22" fill="#f02828" opacity="0.8"/><rect x="361.36" y="12.49" width="1" height="2.66" fill="#3c5868" opacity="0.8"/><rect x="362.19" y="12.62" width="1.1" height="4.2" fill="#f02828" opacity="0.8"/><rect x="363.69" y="11.46" width="1" height="2.81" fill="#3c5868" opacity="0.8"/><rect x="364.52" y="8.08" width="1.1" height="7.23" fill="#f02828" opacity="0.8"/><rect x="368.35" y="20.09" width="1" height="3.95" fill="#3c5868" opacity="0.8"/><rect x="369.18" y="13.7" width="1.1" height="6.13" fill="#f02828" opacity="0.8"/><rect x="370.68" y="17" width="1" height="2.61" fill="#3c5868" opacity="0.8"/><rect x="371.51" y="4.53" width="1.1" height="4.36" fill="#f02828" opacity="0.8"/><rect x="373.84" y="19.14" width="1.1" height="2.51" fill="#f02828" opacity="0.8"/><rect x="376.17" y="14.12" width="1.1" height="6.7" fill="#f02828" opacity="0.8"/><rect x="378.5" y="8.18" width="1.1" height="5.6" fill="#f02828" opacity="0.8"/><rect x="380.83" y="14.51" width="1.1" height="6.15" fill="#f02828" opacity="0.8"/><rect x="383.16" y="17.78" width="1.1" height="4.77" fill="#f02828" opacity="0.8"/><rect x="385.49" y="19.99" width="1.1" height="4.47" fill="#f02828" opacity="0.8"/><rect x="386.99" y="6.41" width="1" height="2.98" fill="#3c5868" opacity="0.8"/><rect x="387.82" y="15.54" width="1.1" height="2.91" fill="#f02828" opacity="0.8"/><rect x="389.32" y="7.25" width="1" height="2.79" fill="#3c5868" opacity="0.8"/><rect x="390.15" y="9.63" width="1.1" height="7.86" fill="#f02828" opacity="0.8"/><rect x="392.48" y="12.16" width="1.1" height="4.98" fill="#f02828" opacity="0.8"/><rect x="397.14" y="7.38" width="1.1" height="5.75" fill="#f02828" opacity="0.8"/><rect x="399.47" y="5.57" width="1.1" height="6.3" fill="#f02828" opacity="0.8"/><rect x="400.97" y="7.6" width="1" height="5.86" fill="#3c5868" opacity="0.8"/><rect x="401.8" y="16.67" width="1.1" height="2.81" fill="#f02828" opacity="0.8"/><rect x="406.46" y="18.15" width="1.1" height="6.81" fill="#f02828" opacity="0.8"/><rect x="408.79" y="18.03" width="1.1" height="6.71" fill="#f02828" opacity="0.8"/><rect x="411.12" y="20.34" width="1.1" height="5.19" fill="#f02828" opacity="0.8"/><rect x="413.45" y="20.46" width="1.1" height="6.72" fill="#f02828" opacity="0.8"/><rect x="414.95" y="18.41" width="1" height="2.93" fill="#3c5868" opacity="0.8"/><rect x="415.78" y="11.78" width="1.1" height="3.42" fill="#f02828" opacity="0.8"/><rect x="417.28" y="19.53" width="1" height="4.74" fill="#3c5868" opacity="0.8"/><rect x="418.11" y="10.66" width="1.1" height="6.7" fill="#f02828" opacity="0.8"/><rect x="420.44" y="20.01" width="1.1" height="6.95" fill="#f02828" opacity="0.8"/><rect x="421.94" y="6.39" width="1" height="4.61" fill="#3c5868" opacity="0.8"/><rect x="424.27" y="14.52" width="1" height="5.35" fill="#3c5868" opacity="0.8"/><rect x="425.1" y="4.08" width="1.1" height="4.93" fill="#f02828" opacity="0.8"/><rect x="426.6" y="6.77" width="1" height="5.25" fill="#3c5868" opacity="0.8"/><rect x="427.43" y="14.28" width="1.1" height="4.74" fill="#f02828" opacity="0.8"/><rect x="428.93" y="8.42" width="1" height="3.41" fill="#3c5868" opacity="0.8"/><rect x="432.09" y="5.5" width="1.1" height="3.63" fill="#f02828" opacity="0.8"/><rect x="434.42" y="15.24" width="1.1" height="6.84" fill="#f02828" opacity="0.8"/><rect x="435.92" y="15.93" width="1" height="2.17" fill="#3c5868" opacity="0.8"/><rect x="438.25" y="9.34" width="1" height="5.83" fill="#3c5868" opacity="0.8"/><rect x="439.08" y="7.81" width="1.1" height="7.34" fill="#f02828" opacity="0.8"/><rect x="442.91" y="12.99" width="1" height="5.82" fill="#3c5868" opacity="0.8"/><rect x="443.74" y="20.81" width="1.1" height="3.14" fill="#f02828" opacity="0.8"/><rect x="446.07" y="12.96" width="1.1" height="2" fill="#f02828" opacity="0.8"/><rect x="447.57" y="20.12" width="1" height="3.82" fill="#3c5868" opacity="0.8"/><rect x="449.9" y="10.64" width="1" height="2.4" fill="#3c5868" opacity="0.8"/><rect x="450.73" y="18.66" width="1.1" height="5.08" fill="#f02828" opacity="0.8"/><rect x="452.23" y="19.86" width="1" height="5.58" fill="#3c5868" opacity="0.8"/><rect x="453.06" y="5.29" width="1.1" height="5.74" fill="#f02828" opacity="0.8"/><rect x="454.56" y="20.33" width="1" height="3.45" fill="#3c5868" opacity="0.8"/><rect x="455.39" y="14.74" width="1.1" height="4.26" fill="#f02828" opacity="0.8"/><rect x="457.72" y="19.42" width="1.1" height="4.99" fill="#f02828" opacity="0.8"/><rect x="459.22" y="20.62" width="1" height="2.23" fill="#3c5868" opacity="0.8"/><rect x="462.38" y="11.61" width="1.1" height="6.51" fill="#f02828" opacity="0.8"/><rect x="464.71" y="16.75" width="1.1" height="2.21" fill="#f02828" opacity="0.8"/><rect x="466.21" y="7.19" width="1" height="5.81" fill="#3c5868" opacity="0.8"/><rect x="468.54" y="14.4" width="1" height="4.31" fill="#3c5868" opacity="0.8"/><rect x="469.37" y="10.67" width="1.1" height="6.48" fill="#f02828" opacity="0.8"/><rect x="471.7" y="16.96" width="1.1" height="3.75" fill="#f02828" opacity="0.8"/><rect x="474.03" y="20.63" width="1.1" height="5.89" fill="#f02828" opacity="0.8"/><rect x="476.36" y="10.47" width="1.1" height="7.78" fill="#f02828" opacity="0.8"/><rect x="478.69" y="8.72" width="1.1" height="2.97" fill="#f02828" opacity="0.8"/><rect x="483.35" y="6.38" width="1.1" height="5.1" fill="#f02828" opacity="0.8"/><rect x="485.68" y="16.55" width="1.1" height="3.02" fill="#f02828" opacity="0.8"/><rect x="487.18" y="5.86" width="1" height="3.19" fill="#3c5868" opacity="0.8"/><rect x="488.01" y="20.44" width="1.1" height="7.77" fill="#f02828" opacity="0.8"/><rect x="489.51" y="9.95" width="1" height="5.77" fill="#3c5868" opacity="0.8"/><rect x="490.34" y="9.46" width="1.1" height="4.63" fill="#f02828" opacity="0.8"/><rect x="491.84" y="9.16" width="1" height="3.58" fill="#3c5868" opacity="0.8"/><rect x="492.67" y="20.38" width="1.1" height="3.6" fill="#f02828" opacity="0.8"/><rect x="494.17" y="19.54" width="1" height="3.8" fill="#3c5868" opacity="0.8"/><rect x="497.33" y="9.35" width="1.1" height="2.91" fill="#f02828" opacity="0.8"/><rect x="499.66" y="13.5" width="1.1" height="6.02" fill="#f02828" opacity="0.8"/><rect x="501.99" y="10.17" width="1.1" height="7.5" fill="#f02828" opacity="0.8"/><rect x="504.32" y="14.71" width="1.1" height="3.56" fill="#f02828" opacity="0.8"/><rect x="506.65" y="18.05" width="1.1" height="5.4" fill="#f02828" opacity="0.8"/><rect x="508.15" y="20.04" width="1" height="3.06" fill="#3c5868" opacity="0.8"/><rect x="508.98" y="5.19" width="1.1" height="5.29" fill="#f02828" opacity="0.8"/><rect x="511.31" y="11.02" width="1.1" height="6.85" fill="#f02828" opacity="0.8"/><rect x="512.81" y="9.91" width="1" height="4.58" fill="#3c5868" opacity="0.8"/><rect x="515.97" y="17.17" width="1.1" height="4.37" fill="#f02828" opacity="0.8"/><rect x="518.3" y="9.81" width="1.1" height="4.36" fill="#f02828" opacity="0.8"/><rect x="520.63" y="7.16" width="1.1" height="7.23" fill="#f02828" opacity="0.8"/><rect x="522.96" y="15.38" width="1.1" height="7.41" fill="#f02828" opacity="0.8"/><rect x="524.46" y="10.42" width="1" height="2.26" fill="#3c5868" opacity="0.8"/><rect x="525.29" y="12.54" width="1.1" height="7.11" fill="#f02828" opacity="0.8"/><rect x="527.62" y="10.86" width="1.1" height="5.44" fill="#f02828" opacity="0.8"/><rect x="529.12" y="18.52" width="1" height="5.15" fill="#3c5868" opacity="0.8"/><rect x="531.45" y="15.74" width="1" height="5.02" fill="#3c5868" opacity="0.8"/><rect x="532.28" y="19.27" width="1.1" height="7.39" fill="#f02828" opacity="0.8"/><rect x="538.44" y="16.27" width="1" height="4.82" fill="#3c5868" opacity="0.8"/><rect x="539.27" y="8.68" width="1.1" height="2.4" fill="#f02828" opacity="0.8"/><rect x="543.1" y="8.41" width="1" height="2.9" fill="#3c5868" opacity="0.8"/><rect x="543.93" y="15.49" width="1.1" height="7.85" fill="#f02828" opacity="0.8"/><rect x="546.26" y="15.89" width="1.1" height="2.43" fill="#f02828" opacity="0.8"/><rect x="548.59" y="4.06" width="1.1" height="5.78" fill="#f02828" opacity="0.8"/><rect x="550.09" y="9.4" width="1" height="2.24" fill="#3c5868" opacity="0.8"/><rect x="550.92" y="13.43" width="1.1" height="6.84" fill="#f02828" opacity="0.8"/><rect x="552.42" y="18.24" width="1" height="2.44" fill="#3c5868" opacity="0.8"/><rect x="553.25" y="14.7" width="1.1" height="4.04" fill="#f02828" opacity="0.8"/><rect x="554.75" y="14.1" width="1" height="2.87" fill="#3c5868" opacity="0.8"/><rect x="555.58" y="7.55" width="1.1" height="7.04" fill="#f02828" opacity="0.8"/><rect x="557.91" y="4.52" width="1.1" height="6.67" fill="#f02828" opacity="0.8"/><rect x="559.41" y="13.07" width="1" height="3.7" fill="#3c5868" opacity="0.8"/><rect x="560.24" y="14.71" width="1.1" height="6.35" fill="#f02828" opacity="0.8"/><rect x="562.57" y="12.71" width="1.1" height="5.53" fill="#f02828" opacity="0.8"/><rect x="564.07" y="18.88" width="1" height="5.98" fill="#3c5868" opacity="0.8"/><rect x="567.23" y="20.77" width="1.1" height="2.43" fill="#f02828" opacity="0.8"/><rect x="568.73" y="7.14" width="1" height="3.82" fill="#3c5868" opacity="0.8"/><rect x="569.56" y="16.04" width="1.1" height="4.73" fill="#f02828" opacity="0.8"/><rect x="571.06" y="8.04" width="1" height="3.61" fill="#3c5868" opacity="0.8"/><rect x="571.89" y="7.3" width="1.1" height="6.42" fill="#f02828" opacity="0.8"/><rect x="574.22" y="7.36" width="1.1" height="6.22" fill="#f02828" opacity="0.8"/><rect x="575.72" y="9.25" width="1" height="4.24" fill="#3c5868" opacity="0.8"/><rect x="576.55" y="20.54" width="1.1" height="6.49" fill="#f02828" opacity="0.8"/><rect x="581.21" y="5.07" width="1.1" height="3.23" fill="#f02828" opacity="0.8"/><rect x="582.71" y="18.82" width="1" height="4.89" fill="#3c5868" opacity="0.8"/><rect x="583.54" y="8.48" width="1.1" height="4.13" fill="#f02828" opacity="0.8"/><rect x="585.04" y="15.12" width="1" height="5.97" fill="#3c5868" opacity="0.8"/><rect x="585.87" y="4.75" width="1.1" height="3.05" fill="#f02828" opacity="0.8"/><rect x="587.37" y="19.38" width="1" height="5.22" fill="#3c5868" opacity="0.8"/><rect x="588.2" y="5.74" width="1.1" height="2.64" fill="#f02828" opacity="0.8"/><rect x="589.7" y="17.44" width="1" height="3.89" fill="#3c5868" opacity="0.8"/><rect x="592.86" y="12.1" width="1.1" height="6.93" fill="#f02828" opacity="0.8"/><rect x="594.36" y="6.74" width="1" height="4.25" fill="#3c5868" opacity="0.8"/><rect x="595.19" y="7.56" width="1.1" height="3.51" fill="#f02828" opacity="0.8"/><rect x="596.69" y="19.54" width="1" height="4.84" fill="#3c5868" opacity="0.8"/><rect x="599.85" y="16.45" width="1.1" height="4.3" fill="#f02828" opacity="0.8"/><rect x="603.68" y="5.21" width="1" height="2.86" fill="#3c5868" opacity="0.8"/><rect x="604.51" y="10.44" width="1.1" height="2.05" fill="#f02828" opacity="0.8"/><rect x="606.84" y="11.88" width="1.1" height="2.26" fill="#f02828" opacity="0.8"/><rect x="609.17" y="5.21" width="1.1" height="3.94" fill="#f02828" opacity="0.8"/><rect x="613" y="15.23" width="1" height="2.82" fill="#3c5868" opacity="0.8"/><rect x="613.83" y="19.4" width="1.1" height="4.3" fill="#f02828" opacity="0.8"/><rect x="615.33" y="14.46" width="1" height="2.5" fill="#3c5868" opacity="0.8"/><rect x="616.16" y="11.76" width="1.1" height="5.51" fill="#f02828" opacity="0.8"/><rect x="618.49" y="11.47" width="1.1" height="2.41" fill="#f02828" opacity="0.8"/><rect x="620.82" y="12" width="1.1" height="4.4" fill="#f02828" opacity="0.8"/><rect x="623.15" y="8.08" width="1.1" height="5.9" fill="#f02828" opacity="0.8"/><rect x="625.48" y="6.41" width="1.1" height="7.45" fill="#f02828" opacity="0.8"/><rect x="627.81" y="8.06" width="1.1" height="7.92" fill="#f02828" opacity="0.8"/><rect x="629.31" y="11.28" width="1" height="5.15" fill="#3c5868" opacity="0.8"/><rect x="632.47" y="4.65" width="1.1" height="2.56" fill="#f02828" opacity="0.8"/><rect x="636.3" y="5.78" width="1" height="2.96" fill="#3c5868" opacity="0.8"/><rect x="55.25" y="1" width="1.5" height="119.3" fill="#0e0"/><rect x="58.95" y="0.5" width="1.1" height="121.66" fill="#0e0"/><rect x="166.15" y="18" width="1.7" height="104.03" fill="#0e0"/><rect x="299.25" y="3" width="1.5" height="108.5" fill="#0e0"/><rect x="303.45" y="6" width="1.1" height="105.22" fill="#0e0"/><rect x="323.3" y="0.5" width="1.4" height="119.61" fill="#0e0"/><rect x="332.75" y="0.5" width="1.3" height="112.74" fill="#0e0"/><rect x="336.85" y="18" width="1.1" height="94.95" fill="#0e0"/><rect x="346.05" y="18" width="1.3" height="96.88" fill="#0e0"/><rect x="355.35" y="18" width="1.3" height="102.44" fill="#0e0"/><rect x="360.75" y="6" width="1.5" height="116" fill="#0e0"/><path d="M0.7,99 V3 M0.7,19 L1.9,17.21 L3.1,20.27 L4.3,19.2 L5.5,20.16 L6.7,19.01 L7.9,19.43 L9.1,19.34 L10.3,20.08 L11.5,17.48 L12.7,17.4 L13.9,19.16 L15.1,18.25 L16.3,18.63 L17.5,17.23 L18.7,19.88 L19.9,17.29 L21.1,20.19 L22.3,20.12 L23.5,18.85 L24,19 V117" fill="none" stroke="#ff0" stroke-width="1.5"/><rect x="636.8" y="3" width="1.3" height="95" fill="#e8e000"/><path d="M0,89.47 L1.1,91.05 L2.2,89.72 L3.3,90.39 L4.4,89.43 L5.5,92.03 L6.6,90.74 L7.7,90.16 L8.8,89.38 L9.9,91.29 L11,91.65 L12.1,91.64 L13.2,89.4 L14.3,90.2 L15.4,90.01 L16.5,91.39 L17.6,89.54 L18.7,90.92 L19.8,92.04 L20.9,91.41 L22,89.12 L23.1,89.32 L24.2,89.44 L25.3,91.18 L26.4,90.9 L27.5,90.66 L28.6,90.47 L29.7,90.32 L30.8,90.93 L31.9,91.05" fill="none" stroke="#f00" stroke-width="2.0"/><path d="M24,96.96 L25.1,95.57 L26.2,96.05 L27.3,96.94 L28.4,96.36 L29.5,95.45 L30.6,90.23 L31.7,95.17 L32.8,96.46 L33.9,93.27 L35,96.67 L36.1,91.37 L37.2,97.16 L38.3,93.36 L39.4,95.37 L40.5,91.92 L41.6,92.28 L42.7,92.65 L43.8,92.47 L44.9,90.72 L46,93.37 L47.1,97.45 L48.2,94.97 L49.3,97.08 L50.4,95.79 L51.5,96.36 L52.6,97.56 L53.7,95.72 L54.8,92.08 L55.9,91.9 L57,93.13 L58.1,90.16 L59.2,91.75 L60.3,96.74 L61.4,97 L62.5,92.5 L63.6,95.86 L64.7,95.89 L65.8,96.76 L66.9,96.04 L68,94.04 L69.1,90.8 L70.2,96.27 L71.3,92.38 L72.4,94.77 L73.5,92.79 L74.6,94.08 L75.7,97.34 L76.8,91.22 L77.9,94.03 L79,94.94 L80.1,94.09 L81.2,97.13 L82.3,93.1 L83.4,96.94 L84.5,95.24 L85.6,97.35 L86.7,90.68 L87.8,91.61 L88.9,92.18 L90,96.89 L91.1,90.1 L92.2,91.98 L93.3,95.44 L94.4,97.52 L95.5,91.34 L96.6,93.33 L97.7,95.22 L98.8,95.25 L99.9,95.67 L101,95.72 L102.1,91.89 L103.2,91.95 L104.3,90.21 L105.4,95.25 L106.5,91.59 L107.6,91.97 L108.7,97.33 L109.8,94.89 L110.9,94.49 L112,94.99 L113.1,94.54 L114.2,95.28 L115.3,92.31 L116.4,90.49 L117.5,90.51 L118.6,90.11 L119.7,92.75 L120.8,91.08 L121.9,90.86 L123,93.75 L124.1,97.37 L125.2,95.23 L126.3,92.08 L127.4,95.85 L128.5,91.35 L129.6,90.76 L130.7,92.3 L131.8,93.11 L132.9,95.24 L134,93.38 L135.1,95.54 L136.2,90.72 L137.3,97.09 L138.4,92.6 L139.5,96.33 L140.6,90.23 L141.7,96.3 L142.8,91.72 L143.9,96.5 L145,96.1 L146.1,95.1 L147.2,92.11 L148.3,90.07 L149.4,91.44 L150.5,96.88 L151.6,91.2 L152.7,95.01 L153.8,94.46 L154.9,95.03 L156,91.37 L157.1,91.09 L158.2,90.74 L159.3,97.47 L160.4,92.91 L161.5,94.96 L162.6,94.33 L163.7,91.7 L164.8,90.49 L165.9,90.11 L167,96.48 L168.1,90.99 L169.2,97.32 L170.3,92.76 L171.4,95.49 L172.5,91.05 L173.6,95.99 L174.7,91.91 L175.8,92.78 L176.9,93.98 L178,90.85 L179.1,91.89 L180.2,96.05 L181.3,92.17 L182.4,92.89 L183.5,95.81 L184.6,91.7 L185.7,91.47 L186.8,91.66 L187.9,92.92 L189,92.78 L190.1,94.87 L191.2,93.59 L192.3,96.61 L193.4,90.38 L194.5,95.04 L195.6,96.36 L196.7,91.78 L197.8,90.22 L198.9,93.33 L200,90.88 L201.1,93.5 L202.2,95.41 L203.3,90.71 L204.4,90.9 L205.5,93.64 L206.6,91.32 L207.7,91.75 L208.8,93.35 L209.9,90.9 L211,90.52 L212.1,92.74 L213.2,93.57 L214.3,97.12 L215.4,94.22 L216.5,90.54 L217.6,91.69 L218.7,95.66 L219.8,94.28 L220.9,96.61 L222,97.31 L223.1,96.52 L224.2,90.84 L225.3,97.17 L226.4,93.99 L227.5,91.82 L228.6,91.3 L229.7,96.57 L230.8,91.61 L231.9,90.63 L233,92.02 L234.1,97.02 L235.2,93.5 L236.3,95.56 L237.4,90.57 L238.5,93.44 L239.6,92.42 L240.7,91.56 L241.8,95.04 L242.9,92.75 L244,90.91 L245.1,97.48 L246.2,93.66 L247.3,91.37 L248.4,90.08 L249.5,94.96 L250.6,93.91 L251.7,90.19 L252.8,93.57 L253.9,95.63 L255,94.08 L256.1,91.78 L257.2,93.79 L258.3,94.6 L259.4,94.95 L260.5,91.1 L261.6,96.11 L262.7,97.19 L263.8,95.63 L264.9,96.52 L266,92.79 L267.1,96.86 L268.2,91.38 L269.3,91.72 L270.4,94.54 L271.5,96.85 L272.6,90.62 L273.7,91.65 L274.8,90.27 L275.9,93.34 L277,91.07 L278.1,91.46 L279.2,95.69 L280.3,94.43 L281.4,97.14 L282.5,93.06 L283.6,95.16 L284.7,90.1 L285.8,97.21 L286.9,91.77 L288,93.63 L289.1,93.89 L290.2,97.21 L291.3,93.74 L292.4,97.54 L293.5,94.72 L294.6,91.64 L295.7,96.34 L296.8,91.53 L297.9,97.6 L299,93.47 L300.1,91.72 L301.2,97.31 L302.3,92.45 L303.4,93.09 L304.5,92.61 L305.6,95.08 L306.7,90.17 L307.8,92.84 L308.9,91.23 L310,96.29 L311.1,90 L312.2,94.62 L313.3,91.96 L314.4,93.45 L315.5,94.27 L316.6,95.41 L317.7,91.05 L318.8,91.83 L319.9,90.92 L321,97.3 L322.1,91.13 L323.2,91.04 L324.3,93.97 L325.4,94.42 L326.5,96.74 L327.6,90.43 L328.7,91.78 L329.8,91.27 L330.9,94.45 L332,93.44 L333.1,93.11 L334.2,96.75 L335.3,95.03 L336.4,96.54 L337.5,97.27 L338.6,92.04 L339.7,97.16 L340.8,93.1 L341.9,90.39 L343,96.95 L344.1,90.79 L345.2,90.13 L346.3,92.2 L347.4,92.2 L348.5,97.35 L349.6,96.62 L350.7,93.19 L351.8,94.02 L352.9,96.45 L354,96.13 L355.1,94.97 L356.2,93.9 L357.3,90.89 L358.4,91.85 L359.5,95 L360.6,94.46 L361.7,96.09 L362.8,96.83 L363.9,97.31 L365,91.46 L366.1,90.58 L367.2,96.82 L368.3,94.33 L369.4,91.38 L370.5,95.26 L371.6,91.94 L372.7,91.8 L373.8,92.78 L374.9,93.98 L376,95.15 L377.1,90.56 L378.2,95.63 L379.3,94.74 L380.4,93.58 L381.5,95.11 L382.6,96.08 L383.7,90.07 L384.8,93.61 L385.9,95.15 L387,95.39 L388.1,94.92 L389.2,91.37 L390.3,97.28 L391.4,95.97 L392.5,91.77 L393.6,93.27 L394.7,97.28 L395.8,91.57 L396.9,93.11 L398,97.31 L399.1,96.84 L400.2,91.77 L401.3,95.59 L402.4,92.73 L403.5,95.04 L404.6,95.83 L405.7,90.97 L406.8,91.69 L407.9,91.63 L409,92.02 L410.1,90.27 L411.2,91.03 L412.3,93.09 L413.4,93.2 L414.5,90.59 L415.6,94.43 L416.7,97.16 L417.8,94.38 L418.9,92.7 L420,95.35 L421.1,93.32 L422.2,91.33 L423.3,93.66 L424.4,90.13 L425.5,95.14 L426.6,91.22 L427.7,92.81 L428.8,97.31 L429.9,95.83 L431,96.35 L432.1,94.88 L433.2,94.82 L434.3,95.36 L435.4,97.34 L436.5,91.49 L437.6,95.82 L438.7,92.29 L439.8,91.94 L440.9,96.24 L442,94.57 L443.1,96.46 L444.2,96.65 L445.3,94.47 L446.4,91.51 L447.5,90.11 L448.6,94.06 L449.7,95.51 L450.8,92.07 L451.9,90.53 L453,90.04 L454.1,91.32 L455.2,95.29 L456.3,90.03 L457.4,91.75 L458.5,92.02 L459.6,95.4 L460.7,97.5 L461.8,90.15 L462.9,90.87 L464,97.1 L465.1,97.37 L466.2,91.13 L467.3,92.55 L468.4,93.97 L469.5,92.43 L470.6,93.17 L471.7,93.64 L472.8,91.96 L473.9,90.42 L475,90.64 L476.1,91.23 L477.2,90.69 L478.3,94.74 L479.4,95.29 L480.5,92 L481.6,96.02 L482.7,95.54 L483.8,92.6 L484.9,93.74 L486,91.43 L487.1,97.06 L488.2,94.26 L489.3,90.39 L490.4,91.17 L491.5,95.26 L492.6,92.93 L493.7,95.45 L494.8,91.74 L495.9,96.06 L497,96.1 L498.1,90.72 L499.2,94.46 L500.3,91.45 L501.4,95.38 L502.5,96.11 L503.6,96.01 L504.7,91.76 L505.8,90.71 L506.9,95.04 L508,94.29 L509.1,91.05 L510.2,91.46 L511.3,94.43 L512.4,90.82 L513.5,94.82 L514.6,91.83 L515.7,91.96 L516.8,93.22 L517.9,94.05 L519,95.51 L520.1,90.23 L521.2,95.51 L522.3,91.68 L523.4,92.21 L524.5,94.86 L525.6,95.25 L526.7,94.67 L527.8,96.85 L528.9,91.56 L530,92.36 L531.1,95.04 L532.2,91.98 L533.3,91.2 L534.4,91.72 L535.5,95.86 L536.6,96.29 L537.7,95.44 L538.8,97.29 L539.9,96.04 L541,92.35 L542.1,92.4 L543.2,95.48 L544.3,90.42 L545.4,94.63 L546.5,90.68 L547.6,90.37 L548.7,93.9 L549.8,91.15 L550.9,97.08 L552,96.67 L553.1,93.51 L554.2,91.5 L555.3,90.91 L556.4,93.85 L557.5,93.96 L558.6,92.76 L559.7,95.44 L560.8,94.02 L561.9,95.89 L563,90.81 L564.1,90.53 L565.2,92.94 L566.3,93.67 L567.4,91.92 L568.5,95.08 L569.6,91.69 L570.7,92.42 L571.8,93.62 L572.9,95.41 L574,95.85 L575.1,92.82 L576.2,93.4 L577.3,97.05 L578.4,97.1 L579.5,94.7 L580.6,90.8 L581.7,93.46 L582.8,94.84 L583.9,92.12 L585,90.28 L586.1,97.46 L587.2,96.91 L588.3,90.98 L589.4,93.54 L590.5,94.71 L591.6,92.28 L592.7,90.52 L593.8,95.71 L594.9,95.86 L596,93.32 L597.1,90.65 L598.2,92.99 L599.3,90.71 L600.4,97.32 L601.5,90.39 L602.6,92.19 L603.7,95.84 L604.8,91.03 L605.9,90.81 L607,90.54 L608.1,91.25 L609.2,94.04 L610.3,96.33 L611.4,91.29 L612.5,91.32 L613.6,95.81 L614.7,93.24 L615.8,92.57 L616.9,90.94 L618,91.85 L619.1,97.39 L620.2,90.89 L621.3,91.97 L622.4,95.63 L623.5,96.78 L624.6,96.87 L625.7,93.59 L626.8,97.27 L627.9,94.59 L629,92.19 L630.1,93.54 L631.2,95.44 L632.3,95.58 L633.4,90.99 L634.5,91.47 L635.6,97.28 L636.7,90.81" fill="none" stroke="#ff0" stroke-width="1.6"/><path d="M295,94.63 L296.1,92.16 L297.2,91.69 L298.3,91.73 L299.4,92.84 L300.5,95.55 L301.6,91.17 L302.7,94.84 L303.8,92.07 L304.9,91.3 L306,94.27 L307.1,92.18 L308.2,91.38 L309.3,92.58 L310.4,94.67 L311.5,94.89 L312.6,93.39 L313.7,90.45 L314.8,94.37 L315.9,93.55 L317,95.08 L318.1,95.35 L319.2,92.1 L320.3,94.81 L321.4,94.66 L322.5,91.78 L323.6,92.3 L324.7,92.35 L325.8,92.23 L326.9,92.37 L328,90.97 L329.1,91.58 L330.2,95.13 L331.3,92.53 L332.4,93.71 L333.5,95.01 L334.6,94.33 L335.7,91.67 L336.8,95.18 L337.9,94.58 L339,95.55 L340.1,94.19 L341.2,94.33 L342.3,94.63 L343.4,91.72 L344.5,93.81 L345.6,92.38 L346.7,94.77 L347.8,91.09 L348.9,93.2 L350,92.15 L351.1,94.67 L352.2,92.2 L353.3,94.79 L354.4,94.81 L355.5,94.97 L356.6,91.12 L357.7,95.28 L358.8,94.27 L359.9,93.92 L361,93.79 L362.1,90.65 L363.2,94.92 L364.3,93.25 L365.4,92.77 L366.5,92.16 L367.6,94.47 L368.7,94.47 L369.8,94.92 L370.9,91.51 L372,92.17" fill="none" stroke="#ff0" stroke-width="2.2"/><path d="M0,92.25 L1.1,91.68 L2.2,92.54 L3.3,91.4 L4.4,94.33 L5.5,92.16 L6.6,91.57 L7.7,91.56 L8.8,94.12 L9.9,92.05 L11,93.06 L12.1,92.83 L13.2,94.35 L14.3,94.93 L15.4,92.48 L16.5,93.7 L17.6,94.7 L18.7,93.09 L19.8,94.72 L20.9,94.09 L22,92.48 L23.1,94.62 L24.2,93.48 L25.3,91.7 L26.4,93.53 L27.5,94.45 L28.6,93.27 L29.7,93.14 L30.8,92.88 L31.9,94.65 L33,93.83 L34.1,92.09 L35.2,92.68 L36.3,92.68 L37.4,94.94 L38.5,93.94 L39.6,91.77 L40.7,94.77 L41.8,91.43 L42.9,93.55 L44,92.94 L45.1,94.03 L46.2,92.93 L47.3,91.65 L48.4,93.29 L49.5,94.42 L50.6,94.3 L51.7,92.66 L52.8,92.14 L53.9,94.13 L55,94.35 L56.1,92.13 L57.2,94.66 L58.3,95.07 L59.4,92.95 L60.5,92.75 L61.6,94 L62.7,94.83 L63.8,92.07 L64.9,92.45 L66,92.55 L67.1,94.08 L68.2,92.01 L69.3,93.38 L70.4,93.2 L71.5,93.84 L72.6,91.84 L73.7,94.94 L74.8,95.1 L75.9,93.43 L77,94.32 L78.1,92 L79.2,94.76 L80.3,93.4 L81.4,94.19 L82.5,94.6 L83.6,92.67 L84.7,94.81 L85.8,92.09 L86.9,91.39 L88,93.21 L89.1,94.71 L90.2,94.72 L91.3,94.93 L92.4,93.24 L93.5,94.84 L94.6,93.43 L95.7,91.85 L96.8,93.7 L97.9,94.35 L99,92.91 L100.1,93.59 L101.2,92.28 L102.3,92.35 L103.4,92.9 L104.5,93.25 L105.6,93.08 L106.7,91.65 L107.8,91.32 L108.9,92.59 L110,94.02 L111.1,94.14 L112.2,92.2 L113.3,92.27 L114.4,93.26 L115.5,91.97 L116.6,93.59 L117.7,94.74 L118.8,92.07 L119.9,93.52 L121,94.04 L122.1,94.15 L123.2,94.01 L124.3,94 L125.4,92.34 L126.5,94.49 L127.6,94.82 L128.7,91.5 L129.8,94.89 L130.9,92.98 L132,91.63 L133.1,91.56 L134.2,94.33 L135.3,93.88 L136.4,91.84 L137.5,93.05 L138.6,93.73 L139.7,95.09 L140.8,92.58 L141.9,94.21 L143,92.23 L144.1,92.06 L145.2,91.91 L146.3,92.86 L147.4,93.65 L148.5,92.45 L149.6,91.92 L150.7,92.13 L151.8,91.62 L152.9,92.03 L154,92.5 L155.1,93.22 L156.2,92 L157.3,93.12 L158.4,92.97 L159.5,95 L160.6,93.15 L161.7,94.89 L162.8,93.09 L163.9,92.05 L165,93.55 L166.1,91.85 L167.2,91.94 L168.3,91.58 L169.4,93.97 L170.5,94.97 L171.6,92.83 L172.7,92.65 L173.8,92.92 L174.9,92.64 L176,93.92 L177.1,92.79 L178.2,91.88 L179.3,94.58 L180.4,93.48 L181.5,91.32 L182.6,94.53 L183.7,94.07 L184.8,92.65 L185.9,93.69 L187,94.8 L188.1,92.83 L189.2,92.94 L190.3,92.43 L191.4,93.41 L192.5,93.82 L193.6,94.09 L194.7,94.91 L195.8,91.85 L196.9,92.69 L198,94.54 L199.1,94.31 L200.2,93.54 L201.3,93.87 L202.4,92.59 L203.5,94.89 L204.6,93.39 L205.7,92.83 L206.8,91.99 L207.9,91.74 L209,94.71 L210.1,94.34 L211.2,91.4 L212.3,92.53 L213.4,93.12 L214.5,93.18 L215.6,92.68 L216.7,94.7 L217.8,92.63 L218.9,93.32 L220,94.83 L221.1,93.73 L222.2,93.11 L223.3,92.56 L224.4,92.77 L225.5,93.61 L226.6,94.29 L227.7,92.29 L228.8,92.71 L229.9,92.77 L231,92.68 L232.1,94.77 L233.2,93.35 L234.3,92.35 L235.4,92.56 L236.5,94.42 L237.6,91.91 L238.7,93.92 L239.8,91.38 L240.9,92.03 L242,91.53 L243.1,94.36 L244.2,91.86 L245.3,92.17 L246.4,91.52 L247.5,92.3 L248.6,94.09 L249.7,94.04 L250.8,94.76 L251.9,94.9 L253,93.39 L254.1,94.8 L255.2,91.64 L256.3,94.82 L257.4,92.95 L258.5,92.03 L259.6,94.14 L260.7,94.56 L261.8,92.77 L262.9,91.65 L264,94.62 L265.1,94.16 L266.2,93.57 L267.3,95.01 L268.4,91.44 L269.5,91.51 L270.6,91.77 L271.7,91.38 L272.8,93.99 L273.9,93.69 L275,91.73 L276.1,91.92 L277.2,91.99 L278.3,93.62 L279.4,93.86 L280.5,94.98 L281.6,92.67 L282.7,95.02 L283.8,92.95 L284.9,92.79 L286,92.26 L287.1,92.18 L288.2,95 L289.3,95.08 L290.4,93.98 L291.5,91.97 L292.6,91.98 L293.7,91.88 L294.8,92.63 L295.9,94.1 L297,91.52 L298.1,93.31 L299.2,93.89 L300.3,91.43 L301.4,92.97 L302.5,94.31 L303.6,93.49 L304.7,93.02 L305.8,94.65 L306.9,93.58 L308,92.58 L309.1,92.8 L310.2,94.88 L311.3,94.57 L312.4,94.78 L313.5,93.43 L314.6,91.84 L315.7,91.97 L316.8,92.76 L317.9,93.92 L319,91.32 L320.1,94.35 L321.2,94.29 L322.3,93.26 L323.4,91.32 L324.5,94.33 L325.6,92.87 L326.7,93.84 L327.8,93.47 L328.9,94.07 L330,92.85 L331.1,94.95 L332.2,94.93 L333.3,94.83 L334.4,93.64 L335.5,92.5 L336.6,92.73 L337.7,92.32 L338.8,94.73 L339.9,94.31 L341,94.29 L342.1,94.42 L343.2,95.06 L344.3,93.91 L345.4,92.51 L346.5,94.18 L347.6,92.3 L348.7,93.62 L349.8,91.9 L350.9,94.56 L352,93.16 L353.1,92.35 L354.2,94.81 L355.3,91.62 L356.4,94.83 L357.5,94.18 L358.6,91.87 L359.7,94.19 L360.8,93.48 L361.9,94.75 L363,93.53 L364.1,92.92 L365.2,94.85 L366.3,91.63 L367.4,94.25 L368.5,91.69 L369.6,92.35 L370.7,91.73 L371.8,94.61 L372.9,92.98 L374,94.06 L375.1,92.28 L376.2,94.08 L377.3,93.77 L378.4,91.67 L379.5,93.18 L380.6,94.04 L381.7,92.12 L382.8,93.79 L383.9,92.36 L385,92.71 L386.1,94.8 L387.2,94.88 L388.3,95.09 L389.4,92.92 L390.5,93.47 L391.6,94.37 L392.7,94.18 L393.8,93.03 L394.9,94.58 L396,92.82 L397.1,94.91 L398.2,93.1 L399.3,91.75 L400.4,94.15 L401.5,91.85 L402.6,93.88 L403.7,91.5 L404.8,95.06 L405.9,93.36 L407,94.11 L408.1,91.8 L409.2,93.72 L410.3,92.73 L411.4,92.25 L412.5,94.4 L413.6,91.43 L414.7,93.12 L415.8,91.63 L416.9,94.54 L418,94.69 L419.1,91.43 L420.2,93.07 L421.3,93.08 L422.4,94.03 L423.5,94.07 L424.6,92.6 L425.7,94.84 L426.8,92 L427.9,91.82 L429,94.4 L430.1,91.76 L431.2,92.01 L432.3,93.2 L433.4,92.58 L434.5,91.92 L435.6,94.83 L436.7,93.1 L437.8,94.29 L438.9,92.25 L440,94.77 L441.1,92.14 L442.2,94.74 L443.3,93.63 L444.4,94.99 L445.5,94.23 L446.6,93.7 L447.7,93.33 L448.8,94.55 L449.9,92.99 L451,91.67 L452.1,94.77 L453.2,94.36 L454.3,93.89 L455.4,94.13 L456.5,92.18 L457.6,93.06 L458.7,94.43 L459.8,94.96 L460.9,94.81 L462,91.91 L463.1,93.9 L464.2,93.41 L465.3,92.84 L466.4,91.94 L467.5,91.82 L468.6,93.09 L469.7,93.17 L470.8,92.32 L471.9,92.7 L473,93.41 L474.1,94.2 L475.2,93.54 L476.3,91.92 L477.4,94.67 L478.5,92.7 L479.6,94.95 L480.7,95.03 L481.8,91.83 L482.9,93.51 L484,94.97 L485.1,92.76 L486.2,93.38 L487.3,92.49 L488.4,91.41 L489.5,92.08 L490.6,91.77 L491.7,92.38 L492.8,93.69 L493.9,93.44 L495,94.9 L496.1,93.9 L497.2,92.68 L498.3,94.91 L499.4,93.71 L500.5,93.36 L501.6,94.58 L502.7,93.85 L503.8,92.67 L504.9,93.6 L506,92.44 L507.1,94.98 L508.2,92.23 L509.3,95 L510.4,91.54 L511.5,91.34 L512.6,93.4 L513.7,92.08 L514.8,93.23 L515.9,91.75 L517,94.48 L518.1,93.84 L519.2,93.9 L520.3,94.82 L521.4,95.07 L522.5,93.88 L523.6,94.01 L524.7,91.31 L525.8,91.49 L526.9,92.92 L528,94.98 L529.1,92.49 L530.2,93.46 L531.3,91.33 L532.4,92.88 L533.5,94.73 L534.6,93.54 L535.7,94.43 L536.8,91.35 L537.9,92.07 L539,91.98 L540.1,94.46 L541.2,91.69 L542.3,94.84 L543.4,92.32 L544.5,94.65 L545.6,93.26 L546.7,92.53 L547.8,94.97 L548.9,92.84 L550,93.95 L551.1,91.56 L552.2,94.46 L553.3,95.03 L554.4,91.72 L555.5,94.14 L556.6,92.33 L557.7,91.86 L558.8,92.68 L559.9,93.81 L561,94.92 L562.1,95.08 L563.2,95.08 L564.3,93.67 L565.4,93.78 L566.5,91.91 L567.6,94.06 L568.7,93.39 L569.8,92.66 L570.9,94.72 L572,92.27 L573.1,91.84 L574.2,91.9 L575.3,91.87 L576.4,93.54 L577.5,94.34 L578.6,91.91 L579.7,93.21 L580.8,93.48 L581.9,93.43 L583,92.87 L584.1,93.37 L585.2,91.36 L586.3,91.52 L587.4,92.91 L588.5,92.2 L589.6,94.18 L590.7,92.22 L591.8,94.43 L592.9,92.22 L594,91.65 L595.1,93.11 L596.2,92.77 L597.3,92.57 L598.4,94.21 L599.5,92.14 L600.6,93.85 L601.7,94.47 L602.8,93.02 L603.9,93.21 L605,94.81 L606.1,93.6 L607.2,91.99 L608.3,91.56 L609.4,91.61 L610.5,92.56 L611.6,91.64 L612.7,93.77 L613.8,92.91 L614.9,92.47 L616,93.25 L617.1,94.86 L618.2,92.23 L619.3,91.89 L620.4,92.46 L621.5,92.53 L622.6,94.76 L623.7,93.98 L624.8,92.93 L625.9,91.93 L627,91.47 L628.1,91.77 L629.2,94.52 L630.3,93.76 L631.4,91.9 L632.5,93.68 L633.6,91.52 L634.7,93.23 L635.8,92.57 L636.9,91.69" fill="none" stroke="#2e2" stroke-width="1.9"/><path d="M0,94.25 L1.1,94.1 L2.2,92.86 L3.3,90.81 L4.4,93.82 L5.5,92.4 L6.6,93.77 L7.7,90.35 L8.8,95.22 L9.9,89.82 L11,91.14 L12.1,92.19 L13.2,90.99 L14.3,90.33 L15.4,93.92 L16.5,95.76 L17.6,91.81 L18.7,91.4 L19.8,93.82 L20.9,91.14 L22,92.2 L23.1,93.93 L24.2,92.38 L25.3,90.73 L26.4,90.22 L27.5,93.06 L28.6,95.74 L29.7,95.32 L30.8,90.4 L31.9,92.81 L33,92.73 L34.1,90.96 L35.2,93.82 L36.3,92.77 L37.4,94.65 L38.5,91.55 L39.6,95.4 L40.7,94.69 L41.8,92.64 L42.9,90.65 L44,92.7 L45.1,90.56 L46.2,93.91 L47.3,93.98 L48.4,93.27 L49.5,95.66 L50.6,90.07 L51.7,94.09 L52.8,94.61 L53.9,90.48 L55,91.73 L56.1,90.12 L57.2,93.3 L58.3,94.14 L59.4,91.89 L60.5,93.97 L61.6,92 L62.7,94.07 L63.8,91.46 L64.9,95.67 L66,92.43 L67.1,89.82 L68.2,90.35 L69.3,94.16 L70.4,94.99 L71.5,93.62 L72.6,90.73 L73.7,95.03 L74.8,94.1 L75.9,90.49 L77,92.08 L78.1,93.83 L79.2,89.82 L80.3,90.05 L81.4,91.92 L82.5,95.05 L83.6,95.78 L84.7,91.71 L85.8,95.25 L86.9,94.52 L88,94.99 L89.1,93.33 L90.2,95.62 L91.3,93.66 L92.4,95.49 L93.5,93.2 L94.6,90.98 L95.7,92.91 L96.8,92.7 L97.9,91.82 L99,92.04 L100.1,92.86 L101.2,93.33 L102.3,91.14 L103.4,91.46 L104.5,92.82 L105.6,92.82 L106.7,92.31 L107.8,93.78 L108.9,90.91 L110,92.99 L111.1,91.45 L112.2,94.42 L113.3,94.02 L114.4,94.49 L115.5,92.9 L116.6,91.29 L117.7,95.35 L118.8,92.86 L119.9,92.05 L121,91.54 L122.1,92.21 L123.2,94.05 L124.3,94.71 L125.4,92.7 L126.5,94.19 L127.6,91.08 L128.7,92.51 L129.8,91.95 L130.9,91.64 L132,91.96 L133.1,94.33 L134.2,94.2 L135.3,91.04 L136.4,91.2 L137.5,94.51 L138.6,93.73 L139.7,93.86 L140.8,93.61 L141.9,93.96 L143,91.44 L144.1,90.17 L145.2,91.96 L146.3,89.99 L147.4,95.57 L148.5,92.95 L149.6,93.82 L150.7,95.6 L151.8,94.63 L152.9,91.18 L154,91.82 L155.1,90.45 L156.2,94.57 L157.3,94.22 L158.4,92.73 L159.5,92.02 L160.6,91.42 L161.7,92.72 L162.8,94.07 L163.9,95.17 L165,94.89 L166.1,95.01 L167.2,92.44 L168.3,92.33 L169.4,91.68 L170.5,95.65 L171.6,90.9 L172.7,90.75 L173.8,91.49 L174.9,95.33 L176,94.92 L177.1,91.79 L178.2,94.91 L179.3,95.14 L180.4,92.36 L181.5,90.95 L182.6,94.44 L183.7,92.05 L184.8,90.52 L185.9,95.22 L187,92.44 L188.1,92.18 L189.2,93.37 L190.3,91.33 L191.4,89.92 L192.5,92.14 L193.6,92.08 L194.7,89.87 L195.8,92.03 L196.9,94.37 L198,91.8 L199.1,93.88 L200.2,93.55 L201.3,90.93 L202.4,89.92 L203.5,93.85 L204.6,93.47 L205.7,91.56 L206.8,91 L207.9,94.93 L209,95.26 L210.1,91.2 L211.2,93.32 L212.3,93.25 L213.4,91.73 L214.5,90.02 L215.6,91.75 L216.7,93.67 L217.8,93.41 L218.9,92.86 L220,90.53 L221.1,91.08 L222.2,91.67 L223.3,92.3 L224.4,91.98 L225.5,95.21 L226.6,90.5 L227.7,95.72 L228.8,91.24 L229.9,94.94 L231,91.26 L232.1,93.32 L233.2,92.06 L234.3,90.03 L235.4,94.58 L236.5,94.66 L237.6,91.42 L238.7,94.46 L239.8,92.67 L240.9,95.72 L242,90.13 L243.1,92.08 L244.2,91.17 L245.3,93.55 L246.4,94.47 L247.5,94.85 L248.6,93.09 L249.7,92.12 L250.8,94.6 L251.9,90.43 L253,91.36 L254.1,94.32 L255.2,92.44 L256.3,95.76 L257.4,90.35 L258.5,92.57 L259.6,91.08 L260.7,89.81 L261.8,90.36 L262.9,90.35 L264,92.01 L265.1,92.4 L266.2,92.85 L267.3,91.54 L268.4,94.01 L269.5,92.9 L270.6,95.69 L271.7,90.82 L272.8,92.86 L273.9,92.76 L275,92.03 L276.1,94.97 L277.2,91.06 L278.3,95.07 L279.4,91.95 L280.5,91.81 L281.6,93.49 L282.7,93.18 L283.8,91.5 L284.9,90.31 L286,95.53 L287.1,92.02 L288.2,90.49 L289.3,93.74 L290.4,92.99 L291.5,91.77 L292.6,91.77 L293.7,94.87 L294.8,91.83 L295.9,92.3 L297,95.54 L298.1,91.97 L299.2,92.21 L300.3,90.77 L301.4,93.77 L302.5,93.79 L303.6,92.48 L304.7,92.24 L305.8,91.2 L306.9,94.54 L308,92.54 L309.1,94.79 L310.2,92.05 L311.3,94.2 L312.4,89.97 L313.5,91.12 L314.6,95.56 L315.7,93.89 L316.8,93.85 L317.9,92.78 L319,92.63 L320.1,90.99 L321.2,90.84 L322.3,93.67 L323.4,93.96 L324.5,91.35 L325.6,93.67 L326.7,90.62 L327.8,93.48 L328.9,90.83 L330,92.86 L331.1,91.68 L332.2,93.1 L333.3,90.6 L334.4,92.7 L335.5,93.5 L336.6,90.61 L337.7,91.65 L338.8,93.87 L339.9,93.08 L341,93.5 L342.1,94.48 L343.2,93.23 L344.3,91.13 L345.4,92.46 L346.5,94.78 L347.6,93.2 L348.7,94.32 L349.8,91.98 L350.9,92.49 L352,95.62 L353.1,94.73 L354.2,93.72 L355.3,90.44 L356.4,93.47 L357.5,90 L358.6,95.4 L359.7,95.63 L360.8,94.17 L361.9,91.41 L363,94.87 L364.1,90.86 L365.2,94.77 L366.3,92.92 L367.4,89.89 L368.5,95.14 L369.6,92.44 L370.7,94.78 L371.8,93.93 L372.9,93 L374,94.97 L375.1,91.02 L376.2,95.19 L377.3,91.83 L378.4,89.96 L379.5,91.82 L380.6,90.2 L381.7,90.23 L382.8,93.54 L383.9,90.52 L385,90.76 L386.1,91.56 L387.2,91.47 L388.3,95.32 L389.4,95.23 L390.5,95.02 L391.6,95.74 L392.7,92.44 L393.8,94.57 L394.9,91.49 L396,95.36 L397.1,94.66 L398.2,94.19 L399.3,91.17 L400.4,90.35 L401.5,95.35 L402.6,93.11 L403.7,93.47 L404.8,94.97 L405.9,90.66 L407,94 L408.1,92.58 L409.2,94.52 L410.3,92.54 L411.4,90.98 L412.5,95.54 L413.6,91.49 L414.7,94.27 L415.8,94.79 L416.9,91.29 L418,93.97 L419.1,92.18 L420.2,91.14 L421.3,91.1 L422.4,95.52 L423.5,92.01 L424.6,92.86 L425.7,92.81 L426.8,89.96 L427.9,94.32 L429,94.27 L430.1,95.06 L431.2,91.94 L432.3,91.06 L433.4,91.88 L434.5,94.19 L435.6,93.75 L436.7,92.24 L437.8,92.95 L438.9,90.72 L440,95.31 L441.1,92.63 L442.2,92.84 L443.3,94.52 L444.4,90.99 L445.5,94.13 L446.6,91.92 L447.7,94.67 L448.8,90.37 L449.9,91.46 L451,93.61 L452.1,92.69 L453.2,92.06 L454.3,93.27 L455.4,91.11 L456.5,92.42 L457.6,89.81 L458.7,94.59 L459.8,91.32 L460.9,94.78 L462,93.11 L463.1,93.41 L464.2,93.56 L465.3,90.55 L466.4,94.46 L467.5,91.55 L468.6,94.98 L469.7,94.52 L470.8,93.87 L471.9,94.69 L473,92.42 L474.1,93.84 L475.2,95.52 L476.3,90.93 L477.4,90.4 L478.5,92.27 L479.6,92.86 L480.7,90.69 L481.8,91.13 L482.9,95 L484,92.13 L485.1,90.69 L486.2,90.9 L487.3,93.26 L488.4,90.94 L489.5,92.65 L490.6,93.03 L491.7,92.44 L492.8,92.82 L493.9,94.82 L495,89.9 L496.1,95.38 L497.2,91 L498.3,90.03 L499.4,94.41 L500.5,93.22 L501.6,93.03 L502.7,91.11 L503.8,94.49 L504.9,91.64 L506,94.16 L507.1,91.17 L508.2,93.24 L509.3,93.69 L510.4,92.03 L511.5,92.68 L512.6,90.19 L513.7,93.66 L514.8,93.95 L515.9,90.72 L517,93.1 L518.1,94.2 L519.2,90.41 L520.3,94.83 L521.4,95.02 L522.5,90.1 L523.6,91.29 L524.7,90.3 L525.8,91.32 L526.9,90.32 L528,92.74 L529.1,91.3 L530.2,91.6 L531.3,92.57 L532.4,92.03 L533.5,94.53 L534.6,94.14 L535.7,90.48 L536.8,91.14 L537.9,89.85 L539,91.78 L540.1,90.45 L541.2,93.98 L542.3,94.48 L543.4,95.77 L544.5,91.05 L545.6,90.02 L546.7,94.34 L547.8,92.27 L548.9,95.39 L550,92.15 L551.1,91.67 L552.2,90.24 L553.3,95.49 L554.4,92.87 L555.5,92.44 L556.6,92.42 L557.7,94.41 L558.8,94.78 L559.9,92.66 L561,90.87 L562.1,92.24 L563.2,95.15 L564.3,92.25 L565.4,93.77 L566.5,93.16 L567.6,92.57 L568.7,93.25 L569.8,91.27 L570.9,93.14 L572,94.99 L573.1,90.28 L574.2,92.01 L575.3,95.08 L576.4,95.67 L577.5,89.88 L578.6,93.56 L579.7,93.59 L580.8,94.86 L581.9,92.62 L583,90.59 L584.1,91.6 L585.2,94.08 L586.3,94.17 L587.4,91.03 L588.5,93.66 L589.6,93.74 L590.7,93.75 L591.8,89.93 L592.9,92.45 L594,91.75 L595.1,93.38 L596.2,91.82 L597.3,90.57 L598.4,93.82 L599.5,91.52 L600.6,94.54 L601.7,91.63 L602.8,93.08 L603.9,94.65 L605,90.49 L606.1,94.19 L607.2,90.21 L608.3,95.42 L609.4,89.95 L610.5,94.14 L611.6,92.01 L612.7,90.88 L613.8,92.17 L614.9,92.81 L616,92.29 L617.1,90.53 L618.2,92.94 L619.3,91.6 L620.4,95.6 L621.5,92.1 L622.6,92.41 L623.7,91.17 L624.8,95.61 L625.9,91.73 L627,93.68 L628.1,94.8 L629.2,92.16 L630.3,94.33 L631.4,91.47 L632.5,90.46 L633.6,90.05 L634.7,92.49 L635.8,95.04 L636.9,91.02" fill="none" stroke="#5f0" stroke-width="0.8"/><path d="M56,92.79 L56.9,96.65 L57.8,90.81 L58.7,89.33 L59.6,93.73 L60.5,92.6 L61.4,98.76 L62.3,98.27 L63.2,90.36 L64.1,94.23 L65,92.49 L65.9,87.91" fill="none" stroke="#1e1" stroke-width="1.2"/><path d="M165,92.83 L165.9,98.49 L166.8,91.13 L167.7,94.53 L168.6,96.02 L169.5,88.26 L170.4,98.59 L171.3,88.81 L172.2,91.12 L173.1,96.09 L174,87.73 L174.9,92.01" fill="none" stroke="#1e1" stroke-width="1.2"/><path d="M322,89.02 L322.9,93.18 L323.8,87.69 L324.7,89.31 L325.6,90.17 L326.5,88.48 L327.4,88.59 L328.3,89.83 L329.2,93.71 L330.1,89.14 L331,97.35 L331.9,92.5" fill="none" stroke="#1e1" stroke-width="1.2"/><path d="M360,90.52 L360.9,90.39 L361.8,97.58 L362.7,88.06 L363.6,96.41 L364.5,88.67 L365.4,98.83 L366.3,92.4 L367.2,94.67 L368.1,97.86 L369,88.71 L369.9,88.27" fill="none" stroke="#1e1" stroke-width="1.2"/><path d="M496,95.82 L496.9,94.55 L497.8,96.15 L498.7,90.83 L499.6,93.46 L500.5,89.74 L501.4,92.75 L502.3,90.88 L503.2,94.53 L504.1,91.09 L505,90.8 L505.9,95.21" fill="none" stroke="#1e1" stroke-width="1.2"/><path d="M548,88.53 L548.9,97.11 L549.8,93.45 L550.7,90.25 L551.6,88.88 L552.5,93.61 L553.4,93.55 L554.3,96.13 L555.2,91.99 L556.1,92.45 L557,98.21 L557.9,90.79" fill="none" stroke="#1e1" stroke-width="1.2"/><path d="M604,99.27 L604.9,98.21 L605.8,99.38 L606.7,98.82 L607.6,90.59 L608.5,97.27 L609.4,94.84 L610.3,89.95 L611.2,99.47 L612.1,95.27 L613,97.22 L613.9,94.2" fill="none" stroke="#1e1" stroke-width="1.2"/></svg>
<div class="xl" style="left:25.2px;top:152px">2.6250V</div>
<div class="xl" style="left:23px;top:251px">0</div>
<div class="xl" style="left:59.6px;top:287px">301.34 µS</div><div class="xl" style="left:173.5px;top:287px">301.78 µS</div><div class="xl" style="left:305.7px;top:287px">302.22 µS</div><div class="xl" style="left:447px;top:287px">302.65 µS</div><div class="xl" style="left:574.2px;top:287px">303.09 µS</div><div class="xl" style="left:697.5px;top:287px">303.53 µS</div>
<div class="cb" style="left:61.5px;top:123.6px"></div>
<svg class="abs" style="left:61.5px;top:123.6px" width="10" height="10" viewBox="0 0 10 10"><path d="M2 5 L4.1 7.2 L8 2.6" fill="none" stroke="#333" stroke-width="1"/></svg>
<div class="cbl" style="left:75.5px;top:124.39999999999999px">CLOCK</div>
<div class="cb" style="left:119.3px;top:123.6px"></div>
<svg class="abs" style="left:119.3px;top:123.6px" width="10" height="10" viewBox="0 0 10 10"><path d="M2 5 L4.1 7.2 L8 2.6" fill="none" stroke="#333" stroke-width="1"/></svg>
<div class="cbl" style="left:133.3px;top:124.39999999999999px">CS</div>
<div class="cb" style="left:168.3px;top:124.6px"></div>
<svg class="abs" style="left:168.3px;top:124.6px" width="10" height="10" viewBox="0 0 10 10"><path d="M2 5 L4.1 7.2 L8 2.6" fill="none" stroke="#333" stroke-width="1"/></svg>
<div class="cbl" style="left:182.8px;top:125.39999999999999px">D0</div>
<div class="cb" style="left:217px;top:124.6px"></div>
<svg class="abs" style="left:217px;top:124.6px" width="10" height="10" viewBox="0 0 10 10"><path d="M2 5 L4.1 7.2 L8 2.6" fill="none" stroke="#333" stroke-width="1"/></svg>
<div class="cbl" style="left:231.5px;top:125.39999999999999px">D1</div>
<div class="btn" style="top:134.2px"></div>
<div class="btn" style="top:155px"></div>
<div class="btn" style="top:176.4px"></div>
<div class="btn" style="top:197px"></div>
<div class="btn" style="top:218px"></div>
<div class="btn" style="top:239px"></div>
<svg class="abs" style="left:742px;top:135.2px" width="17" height="16.8" viewBox="0 0 17 16.8">
<rect x="0" y="0" width="17" height="16.8" fill="#4f7fdc"/>
<rect x="0" y="0" width="17" height="3" fill="#3f6fd6"/>
<rect x="7.6" y="0.6" width="4.2" height="2.4" fill="#f0b020"/>
<rect x="8.2" y="0.4" width="3" height="1.2" fill="#f8e040"/>
<path d="M1.6 4.2 L4 3 L14.6 3 L15.8 4.6 L15.8 16.8 L1.6 16.8 Z" fill="#c4c4c4"/>
<rect x="1.6" y="5" width="2.2" height="11.8" fill="#4a4a4a"/>
<rect x="3.8" y="5" width="2.2" height="11.8" fill="#9a9a9a"/>
<rect x="13.2" y="6" width="2.6" height="10.8" fill="#707070"/>
<rect x="4" y="3.2" width="9" height="1.6" fill="#e8e8e8"/>
<circle cx="10.2" cy="11.4" r="5.4" fill="#4a4a4a"/><circle cx="10.2" cy="11.6" r="4.4" fill="#dcdcdc"/>
<circle cx="10.2" cy="12" r="3.4" fill="#666"/>
<circle cx="10.2" cy="12.6" r="2.7" fill="#1f5fd0"/>
<path d="M7.4 11.6 A2.8 2.8 0 0 1 12.6 11.6 Z" fill="#6aa0f0"/>
<rect x="7" y="15.4" width="6" height="1.4" fill="#2050b0"/>
</svg>
<svg class="abs" style="left:742px;top:156px" width="17" height="17" viewBox="0 0 17 17">
<rect x="7.2" y="3.6" width="6.4" height="8" fill="#e8edf4" stroke="#8a96b0" stroke-width="0.6"/>
<rect x="7.2" y="3.4" width="6.4" height="1.4" fill="#5b80d8"/>
<rect x="9" y="6.4" width="3.6" height="0.7" fill="#a8c8a8"/><rect x="9" y="8" width="3.6" height="0.7" fill="#a8b8d8"/><rect x="9" y="9.6" width="3.6" height="0.7" fill="#a8b8d8"/>
<path d="M6.6 10 L8.6 12.2" stroke="#e08020" stroke-width="2" stroke-linecap="round"/>

<circle cx="4.8" cy="8" r="2.7" fill="#bfe0f6" stroke="#7c8ca8" stroke-width="0.9"/>
<circle cx="4.2" cy="7.4" r="1.1" fill="#eef8ff"/>
</svg>
<svg class="abs" style="left:742px;top:177.4px" width="17" height="17" viewBox="0 0 17 17">
<path d="M7.6 5.6 C12.6 3.6 13.6 9.4 9.8 12.8" fill="none" stroke="#4676e0" stroke-width="2.1" stroke-linecap="round"/>
<path d="M3 8.8 L8.2 4.2 L8.4 9.6 Z" fill="#4676e0"/>
</svg>
<svg class="abs" style="left:742px;top:198px" width="17" height="17" viewBox="0 0 17 17">
<rect x="4.6" y="5.6" width="8" height="5.4" fill="#e4ecfa" stroke="#7a90c8" stroke-width="0.7"/>
<rect x="6.4" y="6.8" width="5.6" height="3" fill="#4a78e0"/>
<path d="M8.6 2.2 L8.6 6.4 M8.6 10.4 L8.6 14.8 M2 8.4 L6.4 8.4 M10.8 8.4 L15.2 8.4" stroke="#111" stroke-width="1.1"/>
<path d="M8.6 0.8 L10.6 3.4 L6.6 3.4 Z M8.6 16 L10.6 13.4 L6.6 13.4 Z M0.8 8.4 L3.4 6.4 L3.4 10.4 Z M16.4 8.4 L13.8 6.4 L13.8 10.4 Z" fill="#111"/>
</svg>
<svg class="abs" style="left:742px;top:219px" width="17" height="17" viewBox="0 0 17 17">
<defs><pattern id="dth" width="2" height="2" patternUnits="userSpaceOnUse"><rect width="2" height="2" fill="#90a6e2"/><rect width="1" height="1" fill="#a8baea"/><rect x="1" y="1" width="1" height="1" fill="#a8baea"/></pattern></defs>
<rect x="0" y="0" width="17" height="17" fill="url(#dth)"/>
<path d="M4.2 8.8 L2.6 7 Q2 5.8 3.2 5.8 L4.6 7 L4.4 3.4 Q4.8 2.4 5.8 3.2 L6.4 6 L6.6 2.4 Q7.4 1.4 8.2 2.4 L8.4 6 L9.2 2.8 Q10.2 2.2 10.6 3.2 L10.4 6.6 L11.6 4.6 Q12.8 4.2 12.6 5.6 L11.6 9.2 Q11.4 11.4 10.6 12.2 L5.4 12.2 Q4.6 10.6 4.2 8.8 Z" fill="#fff" stroke="#222" stroke-width="0.8" stroke-linejoin="round"/>
<rect x="5" y="12.4" width="6" height="2" fill="#111"/>
</svg>
<svg class="abs" style="left:742px;top:240px" width="17" height="17" viewBox="0 0 17 17">
<rect x="0" y="0" width="17" height="17" fill="#cfdaf6"/>
<rect x="13.5" y="0" width="3.5" height="17" fill="#bccaf0"/>
<path d="M4.6 2.4 V14" stroke="#e8384a" stroke-width="1.3" stroke-dasharray="1.2 0.8"/>
<path d="M8.7 1.4 V12.8" stroke="#f07060" stroke-width="1.4"/>
</svg>
<svg class="abs" style="left:739.5px;top:259.6px" width="21" height="21" viewBox="0 0 21 21">
<path d="M1 8.6 L6.4 1.8 L11.6 7.4 L6 15 Z" fill="#d8d8d8" stroke="#8a8a8a" stroke-width="0.6"/>
<path d="M1 8.6 L6.4 1.8 L8.4 4 L3 10.8 Z" fill="#f8f8f8"/>
<path d="M6 15 L11.6 7.4 L10.2 12.6 Z" fill="#a8a8a8"/>
<circle cx="6.6" cy="1.8" r="0.9" fill="#555"/>
<rect x="10.2" y="8.2" width="4.4" height="3.6" fill="#e01818"/>
<rect x="15" y="8.2" width="4.4" height="3.6" fill="#88cc28"/>
<rect x="10.2" y="12.2" width="4.4" height="3.6" fill="#f4e010"/>
<rect x="15" y="12.2" width="4.4" height="3.6" fill="#2090e0"/>
<rect x="10.2" y="16.2" width="4.4" height="3.6" fill="#24347a"/>
<rect x="15" y="16.2" width="4.4" height="3.6" fill="#f08020"/>
</svg>
<div class="abs" style="left:11px;top:307.8px;width:153px;height:37.6px;border:1px solid #aab4d6"></div>
<div class="abs" style="left:16px;top:311.6px;width:142px;height:12.4px;background:#a9bbdc"></div>
<div class="th" style="left:68.2px;top:312.8px;color:#222;font-size:9px;transform:scaleX(0.97)">Legends</div>
<div class="abs" style="left:16px;top:326.8px;width:34px;height:10.2px;background:#f80000"></div>
<div class="td" style="left:18.7px;top:326px;color:#2a0000;font-size:9.4px;line-height:11px"><span class="l" style="transform:scaleX(0.880)">CLOCK</span></div>
<div class="abs" style="left:58px;top:326.8px;width:17px;height:10.2px;background:#ffff00"></div>
<div class="td" style="left:60.7px;top:326px;color:#161616;font-size:9.4px;line-height:11px"><span class="l" style="transform:scaleX(0.835)">CS</span></div>
<div class="abs" style="left:83px;top:326.8px;width:31px;height:10.2px;background:#22c020"></div>
<div class="td" style="left:85.4px;top:326px;color:#161616;font-size:9.4px;line-height:11px"><span class="l" style="transform:scaleX(0.868)">DATA0</span></div>
<div class="abs" style="left:126px;top:326.8px;width:31px;height:10.2px;background:#87ceeb"></div>
<div class="td" style="left:128.6px;top:326px;color:#161616;font-size:9.4px;line-height:11px"><span class="l" style="transform:scaleX(0.835)">DATA1</span></div>
<svg class="abs" style="left:0;top:350px" width="768" height="30" viewBox="0 350 768 30"><rect x="0" y="357.1" width="768" height="1.8" fill="#888890"/><rect x="0" y="357.1" width="1.2" height="19" fill="#888890"/><rect x="0" y="375.4" width="768" height="1.5" fill="#f0f0f0"/></svg>
<div class="pt" style="left:354.5px;top:362px;color:#f0f0f6;text-shadow:none">Detailed View</div>
<div class="abs" style="left:602.2px;top:359.2px;width:156.4px;height:16px;background:#e1e1e1;border:1px solid #c8c8c8"></div>
<div class="th" style="left:606px;top:362.5px">Show All Messages</div>
<svg class="abs" style="left:748.5px;top:365px" width="8" height="6" viewBox="0 0 8 6"><path d="M1 1.2 L4 4.4 L7 1.2" fill="none" stroke="#444" stroke-width="1"/></svg>
<div class="abs" style="left:0;top:376.2px;width:768px;height:191px;background:#f0f0f0"></div>
<svg class="abs" style="left:0;top:376px" width="768" height="3" viewBox="0 376 768 3"><rect x="0" y="376.8" width="768" height="1.1" fill="#111"/></svg>
<div class="abs" style="left:0;top:376px;width:1px;height:191px;background:#111"></div><div class="abs" style="left:1px;top:394px;width:1px;height:159px;background:#6283e6"></div>
<div class="abs" style="left:0;top:565.3px;width:768px;height:1.7px;background:#222"></div>
<div class="abs" style="left:2px;top:377.5px;width:753px;height:176px;overflow:hidden;background:#fff"></div>
<div class="abs" style="left:0;top:0;width:768px;height:553px;overflow:hidden"><div style="position:absolute;left:2px;top:377.5px;width:753px;height:16.5px;background:#fff"></div>
<div style="position:absolute;left:75px;top:378px;width:1px;height:16px;background:#e2e2e6"></div>
<div style="position:absolute;left:154px;top:378px;width:1px;height:16px;background:#e2e2e6"></div>
<div style="position:absolute;left:220px;top:378px;width:1px;height:16px;background:#e2e2e6"></div>
<div style="position:absolute;left:295px;top:378px;width:1px;height:16px;background:#e2e2e6"></div>
<div style="position:absolute;left:333px;top:378px;width:1px;height:16px;background:#e2e2e6"></div>
<div style="position:absolute;left:387px;top:378px;width:1px;height:16px;background:#e2e2e6"></div>
<div style="position:absolute;left:447px;top:378px;width:1px;height:16px;background:#e2e2e6"></div>
<div style="position:absolute;left:496px;top:378px;width:1px;height:16px;background:#e2e2e6"></div>
<div style="position:absolute;left:585px;top:378px;width:1px;height:16px;background:#e2e2e6"></div>
<div style="position:absolute;left:632px;top:378px;width:1px;height:16px;background:#e2e2e6"></div>
<div style="position:absolute;left:692px;top:378px;width:1px;height:16px;background:#e2e2e6"></div>
<div class="th" style="left:8px;top:381px">Time Stamp</div>
<div class="th" style="left:80.7px;top:381px">Command</div>
<div class="th" style="left:160px;top:381px">Response</div>
<div class="th" style="left:226.7px;top:381px">Cycle Type</div>
<div class="th" style="left:301px;top:381px">Tag</div>
<div class="th" style="left:340px;top:381px">Length</div>
<div class="th" style="left:393px;top:381px">Address</div>
<div class="th" style="left:453.3px;top:381px">Data</div>
<div class="th" style="left:503.3px;top:381px">Status Register</div>
<div class="th" style="left:591px;top:381px">CRC</div>
<div class="th" style="left:639px;top:381px">tCK(Min)</div>
<div class="th" style="left:698px;top:381px">tCK(Mean)</div>
<div style="position:absolute;left:2px;top:394px;width:753px;height:15.18px;background:#e6e6fa"></div>
<div style="position:absolute;left:2px;top:409.18px;width:753px;height:15.18px;background:#dcdcdc"></div>
<div style="position:absolute;left:2px;top:424.35px;width:753px;height:15.18px;background:#e6e6fa"></div>
<div style="position:absolute;left:2px;top:439.52px;width:753px;height:15.18px;background:#dcdcdc"></div>
<div style="position:absolute;left:2px;top:454.7px;width:753px;height:15.18px;background:#e6e6fa"></div>
<div style="position:absolute;left:2px;top:469.88px;width:753px;height:15.18px;background:#dcdcdc"></div>
<div style="position:absolute;left:2px;top:485.05px;width:753px;height:15.18px;background:#e6e6fa"></div>
<div style="position:absolute;left:2px;top:500.23px;width:753px;height:15.18px;background:#dcdcdc"></div>
<div style="position:absolute;left:2px;top:515.4px;width:753px;height:15.18px;background:#e6e6fa"></div>
<div style="position:absolute;left:2px;top:530.58px;width:753px;height:15.18px;background:#dcdcdc"></div>
<div style="position:absolute;left:2px;top:545.75px;width:753px;height:15.18px;background:#e6e6fa"></div>
<div style="position:absolute;left:2px;top:393.5px;width:753px;height:1px;background:#cdd0dc"></div>
<div style="position:absolute;left:2px;top:408.68px;width:753px;height:1px;background:#6688e8"></div>
<div style="position:absolute;left:2px;top:423.85px;width:753px;height:1px;background:#6688e8"></div>
<div style="position:absolute;left:2px;top:439.02px;width:753px;height:1px;background:#6688e8"></div>
<div style="position:absolute;left:2px;top:454.2px;width:753px;height:1px;background:#6688e8"></div>
<div style="position:absolute;left:2px;top:469.38px;width:753px;height:1px;background:#6688e8"></div>
<div style="position:absolute;left:2px;top:484.55px;width:753px;height:1px;background:#6688e8"></div>
<div style="position:absolute;left:2px;top:499.73px;width:753px;height:1px;background:#6688e8"></div>
<div style="position:absolute;left:2px;top:514.9px;width:753px;height:1px;background:#6688e8"></div>
<div style="position:absolute;left:2px;top:530.08px;width:753px;height:1px;background:#6688e8"></div>
<div style="position:absolute;left:2px;top:545.25px;width:753px;height:1px;background:#6688e8"></div>
<div style="position:absolute;left:2px;top:560.42px;width:753px;height:1px;background:#6688e8"></div>
<div style="position:absolute;left:75px;top:394px;width:1px;height:160px;background:#6283e6"></div>
<div style="position:absolute;left:154px;top:394px;width:1px;height:160px;background:#6283e6"></div>
<div style="position:absolute;left:220px;top:394px;width:1px;height:160px;background:#6283e6"></div>
<div style="position:absolute;left:295px;top:394px;width:1px;height:160px;background:#6283e6"></div>
<div style="position:absolute;left:333px;top:394px;width:1px;height:160px;background:#6283e6"></div>
<div style="position:absolute;left:387px;top:394px;width:1px;height:160px;background:#6283e6"></div>
<div style="position:absolute;left:447px;top:394px;width:1px;height:160px;background:#6283e6"></div>
<div style="position:absolute;left:496px;top:394px;width:1px;height:160px;background:#6283e6"></div>
<div style="position:absolute;left:585px;top:394px;width:1px;height:160px;background:#6283e6"></div>
<div style="position:absolute;left:632px;top:394px;width:1px;height:160px;background:#6283e6"></div>
<div style="position:absolute;left:692px;top:394px;width:1px;height:160px;background:#6283e6"></div>
<div class="td" style="left:-12.3px;top:397.5px;width:100px;text-align:center;color:#1a1a1a"><span class="c" style="transform:scaleX(0.922)">-81.530µs</span></div>
<div class="td" style="left:77.7px;top:397.5px;color:#1a1a1a"><span class="l" style="transform:scaleX(0.897)">GET_STATUS</span></div>
<div class="td" style="left:499.5px;top:397.5px;color:#1a1a1a"><span class="l" style="transform:scaleX(0.865)">NA</span></div>
<div class="td" style="left:587.5px;top:397.5px;color:#1a1a1a"><span class="l" style="transform:scaleX(0.930)">0xFB Pass</span></div>
<div class="td" style="left:611.9px;top:397.5px;width:100px;text-align:center;color:#1a1a1a"><span class="c" style="transform:scaleX(0.938)">66.353 MHz</span></div>
<div class="td" style="left:675.35px;top:397.5px;width:100px;text-align:center;color:#1a1a1a"><span class="c" style="transform:scaleX(0.938)">66.661 MHz</span></div>
<div class="td" style="left:-12.3px;top:412.68px;width:100px;text-align:center;color:#1a1a1a"><span class="c" style="transform:scaleX(0.922)">-81.259µs</span></div>
<div class="td" style="left:156.7px;top:412.68px;color:#1a1a1a"><span class="l" style="transform:scaleX(0.852)">UNKNOWN</span></div>
<div class="td" style="left:390px;top:412.68px;color:#1a1a1a"><span class="l" style="transform:scaleX(0.885)">0x0</span></div>
<div class="td" style="left:499.5px;top:412.68px;color:#1a1a1a"><span class="l" style="transform:scaleX(0.988)">0x0000</span></div>
<div class="td" style="left:587.5px;top:412.68px;color:#1a1a1a"><span class="l" style="transform:scaleX(0.963)">0x00 Pass</span></div>
<div class="td" style="left:611.9px;top:412.68px;width:100px;text-align:center;color:#1a1a1a"><span class="c" style="transform:scaleX(0.938)">66.452 MHz</span></div>
<div class="td" style="left:675.35px;top:412.68px;width:100px;text-align:center;color:#1a1a1a"><span class="c" style="transform:scaleX(0.938)">66.678 MHz</span></div>
<div class="td" style="left:-12.3px;top:427.85px;width:100px;text-align:center;color:#1a1a1a"><span class="c" style="transform:scaleX(0.922)">-80.660µs</span></div>
<div class="td" style="left:77.7px;top:427.85px;color:#1a1a1a"><span class="l" style="transform:scaleX(0.889)">PUT_IOWR_SHORT</span></div>
<div class="td" style="left:390px;top:427.85px;color:#1a1a1a"><span class="l" style="transform:scaleX(0.919)">0x10</span></div>
<div class="td" style="left:450.5px;top:427.85px;color:#1a1a1a"><span class="l" style="transform:scaleX(0.914)">00 01 02 03</span></div>
<div class="td" style="left:499.5px;top:427.85px;color:#1a1a1a"><span class="l" style="transform:scaleX(0.865)">NA</span></div>
<div class="td" style="left:587.5px;top:427.85px;color:#ff0000"><span class="l" style="transform:scaleX(0.914)">0x00 Fail</span></div>
<div class="td" style="left:611.9px;top:427.85px;width:100px;text-align:center;color:#1a1a1a"><span class="c" style="transform:scaleX(0.938)">66.276 MHz</span></div>
<div class="td" style="left:675.35px;top:427.85px;width:100px;text-align:center;color:#1a1a1a"><span class="c" style="transform:scaleX(0.938)">66.657 MHz</span></div>
<div class="td" style="left:-12.3px;top:443.02px;width:100px;text-align:center;color:#1a1a1a"><span class="c" style="transform:scaleX(0.922)">-79.669µs</span></div>
<div class="td" style="left:156.7px;top:443.02px;color:#1a1a1a"><span class="l" style="transform:scaleX(0.852)">UNKNOWN</span></div>
<div class="td" style="left:390px;top:443.02px;color:#1a1a1a"><span class="l" style="transform:scaleX(0.885)">0x0</span></div>
<div class="td" style="left:499.5px;top:443.02px;color:#1a1a1a"><span class="l" style="transform:scaleX(0.988)">0x0000</span></div>
<div class="td" style="left:587.5px;top:443.02px;color:#1a1a1a"><span class="l" style="transform:scaleX(0.963)">0x00 Pass</span></div>
<div class="td" style="left:611.9px;top:443.02px;width:100px;text-align:center;color:#1a1a1a"><span class="c" style="transform:scaleX(0.938)">66.421 MHz</span></div>
<div class="td" style="left:675.35px;top:443.02px;width:100px;text-align:center;color:#1a1a1a"><span class="c" style="transform:scaleX(0.938)">66.673 MHz</span></div>
<div class="td" style="left:-12.3px;top:458.2px;width:100px;text-align:center;color:#1a1a1a"><span class="c" style="transform:scaleX(0.922)">-79.069µs</span></div>
<div class="td" style="left:77.7px;top:458.2px;color:#1a1a1a"><span class="l" style="transform:scaleX(0.907)">PUT_NP</span></div>
<div class="td" style="left:223.5px;top:458.2px;color:#1a1a1a"><span class="l" style="transform:scaleX(0.979)">Memory Read 32</span></div>
<div class="td" style="left:298px;top:458.2px;color:#1a1a1a"><span class="l" style="transform:scaleX(0.885)">0x0</span></div>
<div class="td" style="left:336.5px;top:458.2px;color:#1a1a1a"><span class="l" style="transform:scaleX(0.885)">0x2</span></div>
<div class="td" style="left:390px;top:458.2px;color:#1a1a1a"><span class="l" style="transform:scaleX(0.919)">0x10</span></div>
<div class="td" style="left:499.5px;top:458.2px;color:#1a1a1a"><span class="l" style="transform:scaleX(0.865)">NA</span></div>
<div class="td" style="left:587.5px;top:458.2px;color:#ff0000"><span class="l" style="transform:scaleX(0.893)">0xD9 Fail</span></div>
<div class="td" style="left:611.9px;top:458.2px;width:100px;text-align:center;color:#1a1a1a"><span class="c" style="transform:scaleX(0.938)">66.289 MHz</span></div>
<div class="td" style="left:675.35px;top:458.2px;width:100px;text-align:center;color:#1a1a1a"><span class="c" style="transform:scaleX(0.938)">66.666 MHz</span></div>
<div class="td" style="left:-12.3px;top:473.38px;width:100px;text-align:center;color:#1a1a1a"><span class="c" style="transform:scaleX(0.922)">-77.960µs</span></div>
<div class="td" style="left:156.7px;top:473.38px;color:#1a1a1a"><span class="l" style="transform:scaleX(0.852)">UNKNOWN</span></div>
<div class="td" style="left:390px;top:473.38px;color:#1a1a1a"><span class="l" style="transform:scaleX(0.885)">0x0</span></div>
<div class="td" style="left:499.5px;top:473.38px;color:#1a1a1a"><span class="l" style="transform:scaleX(0.988)">0x0000</span></div>
<div class="td" style="left:587.5px;top:473.38px;color:#1a1a1a"><span class="l" style="transform:scaleX(0.963)">0x00 Pass</span></div>
<div class="td" style="left:611.9px;top:473.38px;width:100px;text-align:center;color:#1a1a1a"><span class="c" style="transform:scaleX(0.938)">66.245 MHz</span></div>
<div class="td" style="left:675.35px;top:473.38px;width:100px;text-align:center;color:#1a1a1a"><span class="c" style="transform:scaleX(0.938)">66.659 MHz</span></div>
<div class="td" style="left:-12.3px;top:488.55px;width:100px;text-align:center;color:#1a1a1a"><span class="c" style="transform:scaleX(0.922)">-76.999µs</span></div>
<div class="td" style="left:77.7px;top:488.55px;color:#1a1a1a"><span class="l" style="transform:scaleX(0.897)">GET_STATUS</span></div>
<div class="td" style="left:499.5px;top:488.55px;color:#1a1a1a"><span class="l" style="transform:scaleX(0.865)">NA</span></div>
<div class="td" style="left:587.5px;top:488.55px;color:#1a1a1a"><span class="l" style="transform:scaleX(0.930)">0xFB Pass</span></div>
<div class="td" style="left:611.9px;top:488.55px;width:100px;text-align:center;color:#1a1a1a"><span class="c" style="transform:scaleX(0.938)">66.330 MHz</span></div>
<div class="td" style="left:675.35px;top:488.55px;width:100px;text-align:center;color:#1a1a1a"><span class="c" style="transform:scaleX(0.938)">66.654 MHz</span></div>
<div class="td" style="left:-12.3px;top:503.73px;width:100px;text-align:center;color:#1a1a1a"><span class="c" style="transform:scaleX(0.922)">-76.729µs</span></div>
<div class="td" style="left:156.7px;top:503.73px;color:#1a1a1a"><span class="l" style="transform:scaleX(0.852)">UNKNOWN</span></div>
<div class="td" style="left:390px;top:503.73px;color:#1a1a1a"><span class="l" style="transform:scaleX(0.885)">0x0</span></div>
<div class="td" style="left:499.5px;top:503.73px;color:#1a1a1a"><span class="l" style="transform:scaleX(0.988)">0x0000</span></div>
<div class="td" style="left:587.5px;top:503.73px;color:#1a1a1a"><span class="l" style="transform:scaleX(0.963)">0x00 Pass</span></div>
<div class="td" style="left:611.9px;top:503.73px;width:100px;text-align:center;color:#1a1a1a"><span class="c" style="transform:scaleX(0.938)">66.445 MHz</span></div>
<div class="td" style="left:675.35px;top:503.73px;width:100px;text-align:center;color:#1a1a1a"><span class="c" style="transform:scaleX(0.938)">66.663 MHz</span></div>
<div class="td" style="left:-12.3px;top:518.9px;width:100px;text-align:center;color:#1a1a1a"><span class="c" style="transform:scaleX(0.922)">-76.129µs</span></div>
<div class="td" style="left:77.7px;top:518.9px;color:#1a1a1a"><span class="l" style="transform:scaleX(0.889)">PUT_IOWR_SHORT</span></div>
<div class="td" style="left:390px;top:518.9px;color:#1a1a1a"><span class="l" style="transform:scaleX(0.919)">0x10</span></div>
<div class="td" style="left:450.5px;top:518.9px;color:#1a1a1a"><span class="l" style="transform:scaleX(0.914)">00 01 02 03</span></div>
<div class="td" style="left:499.5px;top:518.9px;color:#1a1a1a"><span class="l" style="transform:scaleX(0.865)">NA</span></div>
<div class="td" style="left:587.5px;top:518.9px;color:#ff0000"><span class="l" style="transform:scaleX(0.914)">0x00 Fail</span></div>
<div class="td" style="left:611.9px;top:518.9px;width:100px;text-align:center;color:#1a1a1a"><span class="c" style="transform:scaleX(0.938)">66.393 MHz</span></div>
<div class="td" style="left:675.35px;top:518.9px;width:100px;text-align:center;color:#1a1a1a"><span class="c" style="transform:scaleX(0.938)">66.672 MHz</span></div>
<div class="td" style="left:-12.3px;top:534.08px;width:100px;text-align:center;color:#1a1a1a"><span class="c" style="transform:scaleX(0.922)">-75.139µs</span></div>
<div class="td" style="left:156.7px;top:534.08px;color:#1a1a1a"><span class="l" style="transform:scaleX(0.852)">UNKNOWN</span></div>
<div class="td" style="left:390px;top:534.08px;color:#1a1a1a"><span class="l" style="transform:scaleX(0.885)">0x0</span></div>
<div class="td" style="left:499.5px;top:534.08px;color:#1a1a1a"><span class="l" style="transform:scaleX(0.988)">0x0000</span></div>
<div class="td" style="left:587.5px;top:534.08px;color:#1a1a1a"><span class="l" style="transform:scaleX(0.963)">0x00 Pass</span></div>
<div class="td" style="left:611.9px;top:534.08px;width:100px;text-align:center;color:#1a1a1a"><span class="c" style="transform:scaleX(0.938)">66.430 MHz</span></div>
<div class="td" style="left:675.35px;top:534.08px;width:100px;text-align:center;color:#1a1a1a"><span class="c" style="transform:scaleX(0.938)">66.669 MHz</span></div>
<div class="td" style="left:-12.3px;top:549.25px;width:100px;text-align:center;color:#1a1a1a"><span class="c" style="transform:scaleX(0.922)">-74.540µs</span></div>
<div class="td" style="left:77.7px;top:549.25px;color:#1a1a1a"><span class="l" style="transform:scaleX(0.907)">PUT_NP</span></div>
<div class="td" style="left:223.5px;top:549.25px;color:#1a1a1a"><span class="l" style="transform:scaleX(0.979)">Memory Read 32</span></div>
<div class="td" style="left:298px;top:549.25px;color:#1a1a1a"><span class="l" style="transform:scaleX(0.885)">0x0</span></div>
<div class="td" style="left:336.5px;top:549.25px;color:#1a1a1a"><span class="l" style="transform:scaleX(0.885)">0x2</span></div>
<div class="td" style="left:390px;top:549.25px;color:#1a1a1a"><span class="l" style="transform:scaleX(0.919)">0x10</span></div>
<div class="td" style="left:499.5px;top:549.25px;color:#1a1a1a"><span class="l" style="transform:scaleX(0.865)">NA</span></div>
<div class="td" style="left:587.5px;top:549.25px;color:#ff0000"><span class="l" style="transform:scaleX(0.893)">0xD9 Fail</span></div>
<div class="td" style="left:611.9px;top:549.25px;width:100px;text-align:center;color:#1a1a1a"><span class="c" style="transform:scaleX(0.938)">66.220 MHz</span></div>
<div class="td" style="left:675.35px;top:549.25px;width:100px;text-align:center;color:#1a1a1a"><span class="c" style="transform:scaleX(0.938)">66.658 MHz</span></div></div>
<div class="abs" style="left:755px;top:377.7px;width:12.4px;height:175.5px;background:#f0f0f0"></div>
<div class="abs" style="left:755.6px;top:391px;width:10.6px;height:12px;background:#c9c9c9"></div>
<svg class="abs" style="left:756.5px;top:382px" width="8" height="6" viewBox="0 0 8 6"><path d="M1 4.6 L4 1.4 L7 4.6" fill="none" stroke="#555" stroke-width="1.1"/></svg>
<svg class="abs" style="left:756.5px;top:544px" width="8" height="6" viewBox="0 0 8 6"><path d="M1 1.4 L4 4.6 L7 1.4" fill="none" stroke="#555" stroke-width="1.1"/></svg>
<div class="abs" style="left:1.6px;top:553px;width:766px;height:12.3px;background:#f0f0f0"></div>
<div class="abs" style="left:13.8px;top:553.8px;width:140px;height:10.6px;background:#c9c9c9"></div>
<svg class="abs" style="left:4px;top:555.5px" width="6" height="8" viewBox="0 0 6 8"><path d="M4.6 1 L1.4 4 L4.6 7" fill="none" stroke="#555" stroke-width="1.1"/></svg>
<svg class="abs" style="left:745px;top:555.5px" width="6" height="8" viewBox="0 0 6 8"><path d="M1.4 1 L4.6 4 L1.4 7" fill="none" stroke="#555" stroke-width="1.1"/></svg>
<div class="abs" style="left:767px;top:377px;width:1px;height:190px;background:#222"></div>
</body></html>
